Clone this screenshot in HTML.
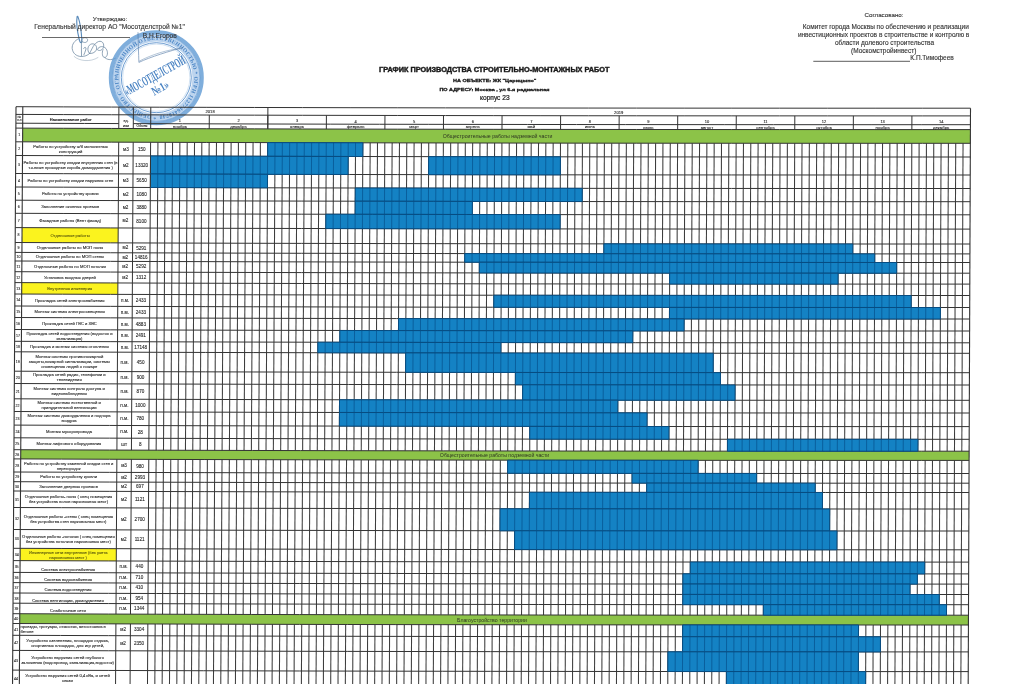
<!DOCTYPE html>
<html><head><meta charset="utf-8"><title>График производства строительно-монтажных работ</title>
<style>
html,body{margin:0;padding:0;background:#fff;}
body{width:1024px;height:684px;overflow:hidden;font-family:"Liberation Sans",sans-serif;}
svg{display:block;filter:blur(0.3px);}
svg text{font-family:"Liberation Sans",sans-serif;fill:#333;}
#tbl text{fill:#262626;stroke:#262626;stroke-width:0.1px;}
#hdr text{stroke:#333;stroke-width:0.12px;}
</style></head><body>
<svg width="1024" height="684" viewBox="0 0 1024 684">
<rect width="1024" height="684" fill="#fff"/>
<g id="stamp">
<g fill="none" stroke="#52718f" stroke-width="0.75" stroke-linecap="round" stroke-linejoin="round" opacity="0.85">
<path d="M77.1 16.6 C76.2 22 77.6 33 79.5 40.5 C80.4 43.5 82.2 43.5 81.9 40.8 C81.4 32 79.6 21 78 16.9 C77.7 16.2 77.2 16.1 77.1 16.6 Z" stroke="#3f78b0" stroke-width="1.15"/>
<path d="M81.8 41.3 C84 43.2 87 43 87.6 40.3 C88 37.8 84.5 36.8 82.6 38.6 C81.6 39.6 81.3 40.6 81.4 41.3 L81.5 55.6"/>
<path d="M78.5 38.8 C74.5 40.5 71.8 44.5 72.2 48.5 C72.8 53.5 76.5 56.3 81 56.5 C84.5 56.6 87.5 55.5 89.5 53.5"/>
<path d="M83.7 48.5 C84.6 46.6 86.2 47 86 49 C85.7 51.3 84.2 53.3 83.8 54.8"/>
<path d="M89.5 53.5 C86.5 50.5 87.6 44.8 91.8 43.9 C95.6 43.2 97.6 47.2 96.2 50.2 C94.8 53 91.5 53.6 89.5 53.5 C92 49 94 43.2 98.6 41.5 C102.6 40.3 104.6 44.3 103.3 47.6 C102 50.6 99 51.3 97.3 49.6 C99 46 103.5 45.6 106 48.6 C108.5 52 107.6 57 104.8 57.5 C102.3 57.7 101.6 53 103 49.5"/>
<path d="M104.8 57.5 C107 59.8 110.5 60.6 115.5 58.2"/>
<path d="M74.2 56.5 C79 61 90 62.6 98 57.5" opacity="0.5"/>
</g>
<g transform="translate(156.3 77.7)">
<circle r="45.6" fill="none" stroke="#5f9ad3" stroke-width="3.8" opacity="0.8"/>
<circle r="40" fill="none" stroke="#8fb8e2" stroke-width="7.6" opacity="0.6"/>
<circle r="43.6" fill="none" stroke="#3f7fc4" stroke-width="0.5" opacity="0.8"/>
<circle r="35" fill="none" stroke="#4a86c6" stroke-width="0.9" opacity="0.9"/>
<circle r="33.6" fill="none" stroke="#7aa9d9" stroke-width="0.4" opacity="0.8"/>
<path id="ringp" d="M0 38 A38 38 0 1 1 0.01 38" fill="none"/>
<text font-size="5.6" font-weight="bold" style="font-family:'Liberation Serif',serif;fill:#3d7cc0" opacity="0.9" letter-spacing="0.25"><textPath href="#ringp" startOffset="0">* ОБЩЕСТВО С ОГРАНИЧЕННОЙ ОТВЕТСТВЕННОСТЬЮ * ОГРН 1127746418748 * ИНН 7714865 * МОСКВА</textPath></text>
<path id="ringp2" d="M-30 0 A30 30 0 0 0 30 0" fill="none"/>
<g transform="rotate(-29)">
<text x="-0.5" y="1.8" font-size="13.5" font-weight="bold" text-anchor="middle" textLength="68" lengthAdjust="spacingAndGlyphs" style="font-family:'Liberation Serif',serif;fill:#3a78bd" opacity="0.92">«МОСОТДЕЛСТРОЙ</text>
<text x="-1.5" y="14.8" font-size="12" font-weight="bold" text-anchor="middle" textLength="18" lengthAdjust="spacingAndGlyphs" style="font-family:'Liberation Serif',serif;fill:#3a78bd" opacity="0.92">№1»</text>
</g>
</g>
<g fill="none" stroke="#4f76a3" stroke-width="0.7" stroke-linecap="round" opacity="0.85">
<path d="M138 32.6 C138.2 42 138.6 54 138.9 62.4 C150 57 170 51 182.8 47.5"/>
<path d="M139.5 61 C152 54.5 168 49.5 180 48.6" stroke-width="0.5"/>
</g>

</g>
<g id="hdr">
<text x="110.00" y="20.50" font-size="6.2" text-anchor="middle" >Утверждаю:</text>
<text x="109.60" y="29.40" font-size="6.7" text-anchor="middle" >Генеральный  директор  АО &quot;Мосотделстрой №1&quot;</text>
<text x="159.80" y="37.80" font-size="6.6" text-anchor="middle" >В.Н.Егоров</text>
<line x1="42" y1="37.5" x2="130" y2="37.5" stroke="#444" stroke-width="0.8"/>
<text x="884.00" y="17.30" font-size="6.2" text-anchor="middle" >Согласовано:</text>
<text x="885.80" y="28.80" font-size="6.5" text-anchor="middle" >Комитет города Москвы по обеспечению и реализации</text>
<text x="883.60" y="36.90" font-size="6.5" text-anchor="middle" >инвестиционных проектов в строительстве и контролю в</text>
<text x="884.50" y="44.80" font-size="6.5" text-anchor="middle" >области долевого строительства</text>
<text x="883.70" y="52.90" font-size="6.5" text-anchor="middle" >(Москомстройинвест)</text>
<text x="910.30" y="60.40" font-size="6.5" text-anchor="start" >К.П.Тимофеев</text>
<line x1="813.3" y1="61.3" x2="910" y2="61.3" stroke="#333" stroke-width="0.8"/>
<text x="494.20" y="71.70" font-size="6.3" text-anchor="middle" font-weight="bold" textLength="230.4" lengthAdjust="spacingAndGlyphs" style="fill:#1a1a1a;stroke:#1a1a1a;stroke-width:0.38px">ГРАФИК ПРОИЗВОДСТВА СТРОИТЕЛЬНО-МОНТАЖНЫХ РАБОТ</text>
<text x="494.70" y="81.80" font-size="4.2" text-anchor="middle" font-weight="bold" textLength="83.4" lengthAdjust="spacingAndGlyphs" style="fill:#1a1a1a;stroke:#1a1a1a;stroke-width:0.28px">НА ОБЪЕКТЕ: ЖК &quot;Царицыно&quot;</text>
<text x="494.40" y="90.60" font-size="4.2" text-anchor="middle" font-weight="bold" textLength="110" lengthAdjust="spacingAndGlyphs" style="fill:#1a1a1a;stroke:#1a1a1a;stroke-width:0.28px">ПО АДРЕСУ: Москва , ул 6-я радиальная</text>
<text x="494.80" y="99.60" font-size="6.6" text-anchor="middle" style="fill:#222;stroke:#222;stroke-width:0.22px">корпус 23</text>
</g>
<g id="tbl">
<polygon points="22.67,128.13 72.55,128.31 122.43,128.48 172.32,128.64 222.20,128.78 272.08,128.91 321.96,129.03 371.84,129.13 421.72,129.22 471.60,129.30 521.48,129.37 571.36,129.43 621.25,129.48 671.13,129.52 721.01,129.55 770.89,129.57 820.77,129.59 870.65,129.59 920.53,129.60 970.41,129.60 970.36,143.30 920.48,143.30 870.59,143.29 820.71,143.29 770.83,143.27 720.95,143.25 671.06,143.22 621.18,143.18 571.30,143.13 521.42,143.07 471.53,143.00 421.65,142.92 371.77,142.83 321.89,142.73 272.00,142.61 222.12,142.48 172.24,142.34 122.36,142.18 72.47,142.01 22.59,141.83" fill="#8cc348"/>
<polygon points="22.08,227.63 70.14,227.81 118.20,227.97 118.11,242.87 70.05,242.71 21.99,242.53" fill="#fbf31e"/>
<polygon points="21.75,282.63 69.81,282.81 117.88,282.97 117.82,294.37 69.75,294.21 21.68,294.03" fill="#fbf31e"/>
<polygon points="20.75,449.73 70.66,449.91 120.58,450.08 170.49,450.24 220.41,450.38 270.32,450.51 320.24,450.63 370.15,450.73 420.07,450.82 469.98,450.90 519.89,450.97 569.81,451.03 619.72,451.08 669.64,451.12 719.55,451.15 769.47,451.17 819.38,451.19 869.30,451.19 919.21,451.20 969.13,451.20 969.09,460.40 919.18,460.40 869.26,460.39 819.34,460.39 769.43,460.37 719.51,460.35 669.60,460.32 619.68,460.28 569.77,460.23 519.85,460.17 469.93,460.10 420.02,460.02 370.10,459.93 320.19,459.83 270.27,459.71 220.35,459.58 170.44,459.44 120.52,459.28 70.61,459.11 20.69,458.93" fill="#8cc348"/>
<polygon points="20.16,548.33 68.25,548.51 116.35,548.67 116.27,560.97 68.18,560.81 20.08,560.63" fill="#fbf31e"/>
<polygon points="19.77,613.73 69.70,613.91 119.63,614.08 169.56,614.24 219.49,614.38 269.42,614.51 319.36,614.63 369.29,614.73 419.22,614.82 469.15,614.90 519.08,614.97 569.02,615.03 618.95,615.08 668.88,615.12 718.81,615.15 768.74,615.17 818.68,615.19 868.61,615.19 918.54,615.20 968.47,615.20 968.43,625.00 918.50,625.00 868.57,624.99 818.63,624.99 768.70,624.97 718.77,624.95 668.84,624.92 618.90,624.88 568.97,624.83 519.04,624.77 469.10,624.70 419.17,624.62 369.24,624.53 319.30,624.43 269.37,624.31 219.44,624.18 169.51,624.04 119.57,623.88 69.64,623.71 19.71,623.53" fill="#8cc348"/>
<line x1="157.92" y1="142.30" x2="156.16" y2="450.20" stroke="#3e3e3e" stroke-width="1.05"/>
<line x1="165.24" y1="142.32" x2="163.49" y2="450.22" stroke="#3e3e3e" stroke-width="1.05"/>
<line x1="172.56" y1="142.34" x2="170.81" y2="450.24" stroke="#3e3e3e" stroke-width="1.05"/>
<line x1="179.88" y1="142.36" x2="178.13" y2="450.26" stroke="#3e3e3e" stroke-width="1.05"/>
<line x1="187.20" y1="142.39" x2="185.46" y2="450.29" stroke="#3e3e3e" stroke-width="1.05"/>
<line x1="194.52" y1="142.41" x2="192.78" y2="450.31" stroke="#3e3e3e" stroke-width="1.05"/>
<line x1="201.83" y1="142.43" x2="200.11" y2="450.33" stroke="#3e3e3e" stroke-width="1.05"/>
<line x1="209.15" y1="142.45" x2="207.43" y2="450.35" stroke="#3e3e3e" stroke-width="1.05"/>
<line x1="216.47" y1="142.47" x2="214.75" y2="450.37" stroke="#3e3e3e" stroke-width="1.05"/>
<line x1="223.79" y1="142.49" x2="222.08" y2="450.39" stroke="#3e3e3e" stroke-width="1.05"/>
<line x1="231.11" y1="142.51" x2="229.40" y2="450.41" stroke="#3e3e3e" stroke-width="1.05"/>
<line x1="238.43" y1="142.53" x2="236.73" y2="450.43" stroke="#3e3e3e" stroke-width="1.05"/>
<line x1="245.75" y1="142.55" x2="244.05" y2="450.45" stroke="#3e3e3e" stroke-width="1.05"/>
<line x1="253.07" y1="142.57" x2="251.38" y2="450.47" stroke="#3e3e3e" stroke-width="1.05"/>
<line x1="260.39" y1="142.58" x2="258.70" y2="450.48" stroke="#3e3e3e" stroke-width="1.05"/>
<line x1="267.71" y1="142.60" x2="266.02" y2="450.50" stroke="#3e3e3e" stroke-width="1.05"/>
<line x1="275.03" y1="142.62" x2="273.35" y2="450.52" stroke="#3e3e3e" stroke-width="1.05"/>
<line x1="282.35" y1="142.64" x2="280.67" y2="450.54" stroke="#3e3e3e" stroke-width="1.05"/>
<line x1="289.67" y1="142.66" x2="288.00" y2="450.56" stroke="#3e3e3e" stroke-width="1.05"/>
<line x1="296.99" y1="142.67" x2="295.32" y2="450.57" stroke="#3e3e3e" stroke-width="1.05"/>
<line x1="304.30" y1="142.69" x2="302.64" y2="450.59" stroke="#3e3e3e" stroke-width="1.05"/>
<line x1="311.62" y1="142.71" x2="309.97" y2="450.61" stroke="#3e3e3e" stroke-width="1.05"/>
<line x1="318.94" y1="142.72" x2="317.29" y2="450.62" stroke="#3e3e3e" stroke-width="1.05"/>
<line x1="326.26" y1="142.74" x2="324.62" y2="450.64" stroke="#3e3e3e" stroke-width="1.05"/>
<line x1="333.58" y1="142.75" x2="331.94" y2="450.65" stroke="#3e3e3e" stroke-width="1.05"/>
<line x1="340.90" y1="142.77" x2="339.26" y2="450.67" stroke="#3e3e3e" stroke-width="1.05"/>
<line x1="348.22" y1="142.79" x2="346.59" y2="450.69" stroke="#3e3e3e" stroke-width="1.05"/>
<line x1="355.54" y1="142.80" x2="353.91" y2="450.70" stroke="#3e3e3e" stroke-width="1.05"/>
<line x1="362.86" y1="142.82" x2="361.24" y2="450.72" stroke="#3e3e3e" stroke-width="1.05"/>
<line x1="370.18" y1="142.83" x2="368.56" y2="450.73" stroke="#3e3e3e" stroke-width="1.05"/>
<line x1="377.50" y1="142.84" x2="375.88" y2="450.74" stroke="#3e3e3e" stroke-width="1.05"/>
<line x1="384.82" y1="142.86" x2="383.21" y2="450.76" stroke="#3e3e3e" stroke-width="1.05"/>
<line x1="392.14" y1="142.87" x2="390.53" y2="450.77" stroke="#3e3e3e" stroke-width="1.05"/>
<line x1="399.46" y1="142.89" x2="397.86" y2="450.79" stroke="#3e3e3e" stroke-width="1.05"/>
<line x1="406.77" y1="142.90" x2="405.18" y2="450.80" stroke="#3e3e3e" stroke-width="1.05"/>
<line x1="414.09" y1="142.91" x2="412.50" y2="450.81" stroke="#3e3e3e" stroke-width="1.05"/>
<line x1="421.41" y1="142.92" x2="419.83" y2="450.82" stroke="#3e3e3e" stroke-width="1.05"/>
<line x1="428.73" y1="142.94" x2="427.15" y2="450.84" stroke="#3e3e3e" stroke-width="1.05"/>
<line x1="436.05" y1="142.95" x2="434.48" y2="450.85" stroke="#3e3e3e" stroke-width="1.05"/>
<line x1="443.37" y1="142.96" x2="441.80" y2="450.86" stroke="#3e3e3e" stroke-width="1.05"/>
<line x1="450.69" y1="142.97" x2="449.12" y2="450.87" stroke="#3e3e3e" stroke-width="1.05"/>
<line x1="458.01" y1="142.98" x2="456.45" y2="450.88" stroke="#3e3e3e" stroke-width="1.05"/>
<line x1="465.33" y1="142.99" x2="463.77" y2="450.89" stroke="#3e3e3e" stroke-width="1.05"/>
<line x1="472.65" y1="143.01" x2="471.10" y2="450.91" stroke="#3e3e3e" stroke-width="1.05"/>
<line x1="479.97" y1="143.02" x2="478.42" y2="450.92" stroke="#3e3e3e" stroke-width="1.05"/>
<line x1="487.29" y1="143.03" x2="485.74" y2="450.93" stroke="#3e3e3e" stroke-width="1.05"/>
<line x1="494.61" y1="143.04" x2="493.07" y2="450.94" stroke="#3e3e3e" stroke-width="1.05"/>
<line x1="501.93" y1="143.05" x2="500.39" y2="450.95" stroke="#3e3e3e" stroke-width="1.05"/>
<line x1="509.24" y1="143.06" x2="507.72" y2="450.96" stroke="#3e3e3e" stroke-width="1.05"/>
<line x1="516.56" y1="143.07" x2="515.04" y2="450.97" stroke="#3e3e3e" stroke-width="1.05"/>
<line x1="523.88" y1="143.08" x2="522.36" y2="450.98" stroke="#3e3e3e" stroke-width="1.05"/>
<line x1="531.20" y1="143.08" x2="529.69" y2="450.98" stroke="#3e3e3e" stroke-width="1.05"/>
<line x1="538.52" y1="143.09" x2="537.01" y2="450.99" stroke="#3e3e3e" stroke-width="1.05"/>
<line x1="545.84" y1="143.10" x2="544.34" y2="451.00" stroke="#3e3e3e" stroke-width="1.05"/>
<line x1="553.16" y1="143.11" x2="551.66" y2="451.01" stroke="#3e3e3e" stroke-width="1.05"/>
<line x1="560.48" y1="143.12" x2="558.98" y2="451.02" stroke="#3e3e3e" stroke-width="1.05"/>
<line x1="567.80" y1="143.13" x2="566.31" y2="451.03" stroke="#3e3e3e" stroke-width="1.05"/>
<line x1="575.12" y1="143.13" x2="573.63" y2="451.03" stroke="#3e3e3e" stroke-width="1.05"/>
<line x1="582.44" y1="143.14" x2="580.96" y2="451.04" stroke="#3e3e3e" stroke-width="1.05"/>
<line x1="589.76" y1="143.15" x2="588.28" y2="451.05" stroke="#3e3e3e" stroke-width="1.05"/>
<line x1="597.08" y1="143.16" x2="595.60" y2="451.06" stroke="#3e3e3e" stroke-width="1.05"/>
<line x1="604.40" y1="143.16" x2="602.93" y2="451.06" stroke="#3e3e3e" stroke-width="1.05"/>
<line x1="611.71" y1="143.17" x2="610.25" y2="451.07" stroke="#3e3e3e" stroke-width="1.05"/>
<line x1="619.03" y1="143.18" x2="617.58" y2="451.08" stroke="#3e3e3e" stroke-width="1.05"/>
<line x1="626.35" y1="143.18" x2="624.90" y2="451.08" stroke="#3e3e3e" stroke-width="1.05"/>
<line x1="633.67" y1="143.19" x2="632.22" y2="451.09" stroke="#3e3e3e" stroke-width="1.05"/>
<line x1="640.99" y1="143.20" x2="639.55" y2="451.10" stroke="#3e3e3e" stroke-width="1.05"/>
<line x1="648.31" y1="143.20" x2="646.87" y2="451.10" stroke="#3e3e3e" stroke-width="1.05"/>
<line x1="655.63" y1="143.21" x2="654.20" y2="451.11" stroke="#3e3e3e" stroke-width="1.05"/>
<line x1="662.95" y1="143.21" x2="661.52" y2="451.11" stroke="#3e3e3e" stroke-width="1.05"/>
<line x1="670.27" y1="143.22" x2="668.84" y2="451.12" stroke="#3e3e3e" stroke-width="1.05"/>
<line x1="677.59" y1="143.22" x2="676.17" y2="451.12" stroke="#3e3e3e" stroke-width="1.05"/>
<line x1="684.91" y1="143.23" x2="683.49" y2="451.13" stroke="#3e3e3e" stroke-width="1.05"/>
<line x1="692.23" y1="143.23" x2="690.82" y2="451.13" stroke="#3e3e3e" stroke-width="1.05"/>
<line x1="699.55" y1="143.24" x2="698.14" y2="451.14" stroke="#3e3e3e" stroke-width="1.05"/>
<line x1="706.87" y1="143.24" x2="705.46" y2="451.14" stroke="#3e3e3e" stroke-width="1.05"/>
<line x1="714.18" y1="143.24" x2="712.79" y2="451.14" stroke="#3e3e3e" stroke-width="1.05"/>
<line x1="721.50" y1="143.25" x2="720.11" y2="451.15" stroke="#3e3e3e" stroke-width="1.05"/>
<line x1="728.82" y1="143.25" x2="727.44" y2="451.15" stroke="#3e3e3e" stroke-width="1.05"/>
<line x1="736.14" y1="143.26" x2="734.76" y2="451.16" stroke="#3e3e3e" stroke-width="1.05"/>
<line x1="743.46" y1="143.26" x2="742.08" y2="451.16" stroke="#3e3e3e" stroke-width="1.05"/>
<line x1="750.78" y1="143.26" x2="749.41" y2="451.16" stroke="#3e3e3e" stroke-width="1.05"/>
<line x1="758.10" y1="143.27" x2="756.73" y2="451.17" stroke="#3e3e3e" stroke-width="1.05"/>
<line x1="765.42" y1="143.27" x2="764.06" y2="451.17" stroke="#3e3e3e" stroke-width="1.05"/>
<line x1="772.74" y1="143.27" x2="771.38" y2="451.17" stroke="#3e3e3e" stroke-width="1.05"/>
<line x1="780.06" y1="143.27" x2="778.70" y2="451.17" stroke="#3e3e3e" stroke-width="1.05"/>
<line x1="787.38" y1="143.28" x2="786.03" y2="451.18" stroke="#3e3e3e" stroke-width="1.05"/>
<line x1="794.70" y1="143.28" x2="793.35" y2="451.18" stroke="#3e3e3e" stroke-width="1.05"/>
<line x1="802.02" y1="143.28" x2="800.68" y2="451.18" stroke="#3e3e3e" stroke-width="1.05"/>
<line x1="809.34" y1="143.28" x2="808.00" y2="451.18" stroke="#3e3e3e" stroke-width="1.05"/>
<line x1="816.65" y1="143.28" x2="815.32" y2="451.18" stroke="#3e3e3e" stroke-width="1.05"/>
<line x1="823.97" y1="143.29" x2="822.65" y2="451.19" stroke="#3e3e3e" stroke-width="1.05"/>
<line x1="831.29" y1="143.29" x2="829.97" y2="451.19" stroke="#3e3e3e" stroke-width="1.05"/>
<line x1="838.61" y1="143.29" x2="837.30" y2="451.19" stroke="#3e3e3e" stroke-width="1.05"/>
<line x1="845.93" y1="143.29" x2="844.62" y2="451.19" stroke="#3e3e3e" stroke-width="1.05"/>
<line x1="853.25" y1="143.29" x2="851.94" y2="451.19" stroke="#3e3e3e" stroke-width="1.05"/>
<line x1="860.57" y1="143.29" x2="859.27" y2="451.19" stroke="#3e3e3e" stroke-width="1.05"/>
<line x1="867.89" y1="143.29" x2="866.59" y2="451.19" stroke="#3e3e3e" stroke-width="1.05"/>
<line x1="875.21" y1="143.30" x2="873.92" y2="451.20" stroke="#3e3e3e" stroke-width="1.05"/>
<line x1="882.53" y1="143.30" x2="881.24" y2="451.20" stroke="#3e3e3e" stroke-width="1.05"/>
<line x1="889.85" y1="143.30" x2="888.56" y2="451.20" stroke="#3e3e3e" stroke-width="1.05"/>
<line x1="897.17" y1="143.30" x2="895.89" y2="451.20" stroke="#3e3e3e" stroke-width="1.05"/>
<line x1="904.49" y1="143.30" x2="903.21" y2="451.20" stroke="#3e3e3e" stroke-width="1.05"/>
<line x1="911.81" y1="143.30" x2="910.54" y2="451.20" stroke="#3e3e3e" stroke-width="1.05"/>
<line x1="919.12" y1="143.30" x2="917.86" y2="451.20" stroke="#3e3e3e" stroke-width="1.05"/>
<line x1="926.44" y1="143.30" x2="925.18" y2="451.20" stroke="#3e3e3e" stroke-width="1.05"/>
<line x1="933.76" y1="143.30" x2="932.51" y2="451.20" stroke="#3e3e3e" stroke-width="1.05"/>
<line x1="941.08" y1="143.30" x2="939.83" y2="451.20" stroke="#3e3e3e" stroke-width="1.05"/>
<line x1="948.40" y1="143.30" x2="947.16" y2="451.20" stroke="#3e3e3e" stroke-width="1.05"/>
<line x1="955.72" y1="143.30" x2="954.48" y2="451.20" stroke="#3e3e3e" stroke-width="1.05"/>
<line x1="963.04" y1="143.30" x2="961.80" y2="451.20" stroke="#3e3e3e" stroke-width="1.05"/>
<line x1="118.70" y1="142.17" x2="116.92" y2="450.07" stroke="#333" stroke-width="1.0"/>
<line x1="133.20" y1="142.22" x2="131.43" y2="450.12" stroke="#333" stroke-width="1.0"/>
<line x1="150.60" y1="142.27" x2="148.84" y2="450.17" stroke="#333" stroke-width="1.0"/>
<line x1="156.11" y1="459.40" x2="155.23" y2="614.20" stroke="#3e3e3e" stroke-width="1.05"/>
<line x1="163.43" y1="459.42" x2="162.55" y2="614.22" stroke="#3e3e3e" stroke-width="1.05"/>
<line x1="170.76" y1="459.44" x2="169.88" y2="614.24" stroke="#3e3e3e" stroke-width="1.05"/>
<line x1="178.08" y1="459.46" x2="177.21" y2="614.26" stroke="#3e3e3e" stroke-width="1.05"/>
<line x1="185.41" y1="459.49" x2="184.53" y2="614.29" stroke="#3e3e3e" stroke-width="1.05"/>
<line x1="192.73" y1="459.51" x2="191.86" y2="614.31" stroke="#3e3e3e" stroke-width="1.05"/>
<line x1="200.06" y1="459.53" x2="199.19" y2="614.33" stroke="#3e3e3e" stroke-width="1.05"/>
<line x1="207.38" y1="459.55" x2="206.51" y2="614.35" stroke="#3e3e3e" stroke-width="1.05"/>
<line x1="214.70" y1="459.57" x2="213.84" y2="614.37" stroke="#3e3e3e" stroke-width="1.05"/>
<line x1="222.03" y1="459.59" x2="221.17" y2="614.39" stroke="#3e3e3e" stroke-width="1.05"/>
<line x1="229.35" y1="459.61" x2="228.49" y2="614.41" stroke="#3e3e3e" stroke-width="1.05"/>
<line x1="236.68" y1="459.63" x2="235.82" y2="614.43" stroke="#3e3e3e" stroke-width="1.05"/>
<line x1="244.00" y1="459.65" x2="243.15" y2="614.45" stroke="#3e3e3e" stroke-width="1.05"/>
<line x1="251.32" y1="459.67" x2="250.47" y2="614.47" stroke="#3e3e3e" stroke-width="1.05"/>
<line x1="258.65" y1="459.68" x2="257.80" y2="614.48" stroke="#3e3e3e" stroke-width="1.05"/>
<line x1="265.97" y1="459.70" x2="265.13" y2="614.50" stroke="#3e3e3e" stroke-width="1.05"/>
<line x1="273.30" y1="459.72" x2="272.45" y2="614.52" stroke="#3e3e3e" stroke-width="1.05"/>
<line x1="280.62" y1="459.74" x2="279.78" y2="614.54" stroke="#3e3e3e" stroke-width="1.05"/>
<line x1="287.95" y1="459.76" x2="287.11" y2="614.56" stroke="#3e3e3e" stroke-width="1.05"/>
<line x1="295.27" y1="459.77" x2="294.43" y2="614.57" stroke="#3e3e3e" stroke-width="1.05"/>
<line x1="302.59" y1="459.79" x2="301.76" y2="614.59" stroke="#3e3e3e" stroke-width="1.05"/>
<line x1="309.92" y1="459.81" x2="309.08" y2="614.61" stroke="#3e3e3e" stroke-width="1.05"/>
<line x1="317.24" y1="459.82" x2="316.41" y2="614.62" stroke="#3e3e3e" stroke-width="1.05"/>
<line x1="324.57" y1="459.84" x2="323.74" y2="614.64" stroke="#3e3e3e" stroke-width="1.05"/>
<line x1="331.89" y1="459.85" x2="331.06" y2="614.65" stroke="#3e3e3e" stroke-width="1.05"/>
<line x1="339.21" y1="459.87" x2="338.39" y2="614.67" stroke="#3e3e3e" stroke-width="1.05"/>
<line x1="346.54" y1="459.89" x2="345.72" y2="614.69" stroke="#3e3e3e" stroke-width="1.05"/>
<line x1="353.86" y1="459.90" x2="353.04" y2="614.70" stroke="#3e3e3e" stroke-width="1.05"/>
<line x1="361.19" y1="459.92" x2="360.37" y2="614.72" stroke="#3e3e3e" stroke-width="1.05"/>
<line x1="368.51" y1="459.93" x2="367.70" y2="614.73" stroke="#3e3e3e" stroke-width="1.05"/>
<line x1="375.83" y1="459.94" x2="375.02" y2="614.74" stroke="#3e3e3e" stroke-width="1.05"/>
<line x1="383.16" y1="459.96" x2="382.35" y2="614.76" stroke="#3e3e3e" stroke-width="1.05"/>
<line x1="390.48" y1="459.97" x2="389.68" y2="614.77" stroke="#3e3e3e" stroke-width="1.05"/>
<line x1="397.81" y1="459.99" x2="397.00" y2="614.79" stroke="#3e3e3e" stroke-width="1.05"/>
<line x1="405.13" y1="460.00" x2="404.33" y2="614.80" stroke="#3e3e3e" stroke-width="1.05"/>
<line x1="412.46" y1="460.01" x2="411.66" y2="614.81" stroke="#3e3e3e" stroke-width="1.05"/>
<line x1="419.78" y1="460.02" x2="418.98" y2="614.82" stroke="#3e3e3e" stroke-width="1.05"/>
<line x1="427.10" y1="460.04" x2="426.31" y2="614.84" stroke="#3e3e3e" stroke-width="1.05"/>
<line x1="434.43" y1="460.05" x2="433.64" y2="614.85" stroke="#3e3e3e" stroke-width="1.05"/>
<line x1="441.75" y1="460.06" x2="440.96" y2="614.86" stroke="#3e3e3e" stroke-width="1.05"/>
<line x1="449.08" y1="460.07" x2="448.29" y2="614.87" stroke="#3e3e3e" stroke-width="1.05"/>
<line x1="456.40" y1="460.08" x2="455.62" y2="614.88" stroke="#3e3e3e" stroke-width="1.05"/>
<line x1="463.72" y1="460.09" x2="462.94" y2="614.89" stroke="#3e3e3e" stroke-width="1.05"/>
<line x1="471.05" y1="460.11" x2="470.27" y2="614.91" stroke="#3e3e3e" stroke-width="1.05"/>
<line x1="478.37" y1="460.12" x2="477.59" y2="614.92" stroke="#3e3e3e" stroke-width="1.05"/>
<line x1="485.70" y1="460.13" x2="484.92" y2="614.93" stroke="#3e3e3e" stroke-width="1.05"/>
<line x1="493.02" y1="460.14" x2="492.25" y2="614.94" stroke="#3e3e3e" stroke-width="1.05"/>
<line x1="500.35" y1="460.15" x2="499.57" y2="614.95" stroke="#3e3e3e" stroke-width="1.05"/>
<line x1="507.67" y1="460.16" x2="506.90" y2="614.96" stroke="#3e3e3e" stroke-width="1.05"/>
<line x1="514.99" y1="460.17" x2="514.23" y2="614.97" stroke="#3e3e3e" stroke-width="1.05"/>
<line x1="522.32" y1="460.18" x2="521.55" y2="614.98" stroke="#3e3e3e" stroke-width="1.05"/>
<line x1="529.64" y1="460.18" x2="528.88" y2="614.98" stroke="#3e3e3e" stroke-width="1.05"/>
<line x1="536.97" y1="460.19" x2="536.21" y2="614.99" stroke="#3e3e3e" stroke-width="1.05"/>
<line x1="544.29" y1="460.20" x2="543.53" y2="615.00" stroke="#3e3e3e" stroke-width="1.05"/>
<line x1="551.61" y1="460.21" x2="550.86" y2="615.01" stroke="#3e3e3e" stroke-width="1.05"/>
<line x1="558.94" y1="460.22" x2="558.19" y2="615.02" stroke="#3e3e3e" stroke-width="1.05"/>
<line x1="566.26" y1="460.23" x2="565.51" y2="615.03" stroke="#3e3e3e" stroke-width="1.05"/>
<line x1="573.59" y1="460.23" x2="572.84" y2="615.03" stroke="#3e3e3e" stroke-width="1.05"/>
<line x1="580.91" y1="460.24" x2="580.17" y2="615.04" stroke="#3e3e3e" stroke-width="1.05"/>
<line x1="588.24" y1="460.25" x2="587.49" y2="615.05" stroke="#3e3e3e" stroke-width="1.05"/>
<line x1="595.56" y1="460.26" x2="594.82" y2="615.06" stroke="#3e3e3e" stroke-width="1.05"/>
<line x1="602.88" y1="460.26" x2="602.15" y2="615.06" stroke="#3e3e3e" stroke-width="1.05"/>
<line x1="610.21" y1="460.27" x2="609.47" y2="615.07" stroke="#3e3e3e" stroke-width="1.05"/>
<line x1="617.53" y1="460.28" x2="616.80" y2="615.08" stroke="#3e3e3e" stroke-width="1.05"/>
<line x1="624.86" y1="460.28" x2="624.13" y2="615.08" stroke="#3e3e3e" stroke-width="1.05"/>
<line x1="632.18" y1="460.29" x2="631.45" y2="615.09" stroke="#3e3e3e" stroke-width="1.05"/>
<line x1="639.50" y1="460.30" x2="638.78" y2="615.10" stroke="#3e3e3e" stroke-width="1.05"/>
<line x1="646.83" y1="460.30" x2="646.10" y2="615.10" stroke="#3e3e3e" stroke-width="1.05"/>
<line x1="654.15" y1="460.31" x2="653.43" y2="615.11" stroke="#3e3e3e" stroke-width="1.05"/>
<line x1="661.48" y1="460.31" x2="660.76" y2="615.11" stroke="#3e3e3e" stroke-width="1.05"/>
<line x1="668.80" y1="460.32" x2="668.08" y2="615.12" stroke="#3e3e3e" stroke-width="1.05"/>
<line x1="676.13" y1="460.32" x2="675.41" y2="615.12" stroke="#3e3e3e" stroke-width="1.05"/>
<line x1="683.45" y1="460.33" x2="682.74" y2="615.13" stroke="#3e3e3e" stroke-width="1.05"/>
<line x1="690.77" y1="460.33" x2="690.06" y2="615.13" stroke="#3e3e3e" stroke-width="1.05"/>
<line x1="698.10" y1="460.34" x2="697.39" y2="615.14" stroke="#3e3e3e" stroke-width="1.05"/>
<line x1="705.42" y1="460.34" x2="704.72" y2="615.14" stroke="#3e3e3e" stroke-width="1.05"/>
<line x1="712.75" y1="460.34" x2="712.04" y2="615.14" stroke="#3e3e3e" stroke-width="1.05"/>
<line x1="720.07" y1="460.35" x2="719.37" y2="615.15" stroke="#3e3e3e" stroke-width="1.05"/>
<line x1="727.39" y1="460.35" x2="726.70" y2="615.15" stroke="#3e3e3e" stroke-width="1.05"/>
<line x1="734.72" y1="460.36" x2="734.02" y2="615.16" stroke="#3e3e3e" stroke-width="1.05"/>
<line x1="742.04" y1="460.36" x2="741.35" y2="615.16" stroke="#3e3e3e" stroke-width="1.05"/>
<line x1="749.37" y1="460.36" x2="748.68" y2="615.16" stroke="#3e3e3e" stroke-width="1.05"/>
<line x1="756.69" y1="460.37" x2="756.00" y2="615.17" stroke="#3e3e3e" stroke-width="1.05"/>
<line x1="764.01" y1="460.37" x2="763.33" y2="615.17" stroke="#3e3e3e" stroke-width="1.05"/>
<line x1="771.34" y1="460.37" x2="770.66" y2="615.17" stroke="#3e3e3e" stroke-width="1.05"/>
<line x1="778.66" y1="460.37" x2="777.98" y2="615.17" stroke="#3e3e3e" stroke-width="1.05"/>
<line x1="785.99" y1="460.38" x2="785.31" y2="615.18" stroke="#3e3e3e" stroke-width="1.05"/>
<line x1="793.31" y1="460.38" x2="792.64" y2="615.18" stroke="#3e3e3e" stroke-width="1.05"/>
<line x1="800.64" y1="460.38" x2="799.96" y2="615.18" stroke="#3e3e3e" stroke-width="1.05"/>
<line x1="807.96" y1="460.38" x2="807.29" y2="615.18" stroke="#3e3e3e" stroke-width="1.05"/>
<line x1="815.28" y1="460.38" x2="814.61" y2="615.18" stroke="#3e3e3e" stroke-width="1.05"/>
<line x1="822.61" y1="460.39" x2="821.94" y2="615.19" stroke="#3e3e3e" stroke-width="1.05"/>
<line x1="829.93" y1="460.39" x2="829.27" y2="615.19" stroke="#3e3e3e" stroke-width="1.05"/>
<line x1="837.26" y1="460.39" x2="836.59" y2="615.19" stroke="#3e3e3e" stroke-width="1.05"/>
<line x1="844.58" y1="460.39" x2="843.92" y2="615.19" stroke="#3e3e3e" stroke-width="1.05"/>
<line x1="851.90" y1="460.39" x2="851.25" y2="615.19" stroke="#3e3e3e" stroke-width="1.05"/>
<line x1="859.23" y1="460.39" x2="858.57" y2="615.19" stroke="#3e3e3e" stroke-width="1.05"/>
<line x1="866.55" y1="460.39" x2="865.90" y2="615.19" stroke="#3e3e3e" stroke-width="1.05"/>
<line x1="873.88" y1="460.40" x2="873.23" y2="615.20" stroke="#3e3e3e" stroke-width="1.05"/>
<line x1="881.20" y1="460.40" x2="880.55" y2="615.20" stroke="#3e3e3e" stroke-width="1.05"/>
<line x1="888.53" y1="460.40" x2="887.88" y2="615.20" stroke="#3e3e3e" stroke-width="1.05"/>
<line x1="895.85" y1="460.40" x2="895.21" y2="615.20" stroke="#3e3e3e" stroke-width="1.05"/>
<line x1="903.17" y1="460.40" x2="902.53" y2="615.20" stroke="#3e3e3e" stroke-width="1.05"/>
<line x1="910.50" y1="460.40" x2="909.86" y2="615.20" stroke="#3e3e3e" stroke-width="1.05"/>
<line x1="917.82" y1="460.40" x2="917.19" y2="615.20" stroke="#3e3e3e" stroke-width="1.05"/>
<line x1="925.15" y1="460.40" x2="924.51" y2="615.20" stroke="#3e3e3e" stroke-width="1.05"/>
<line x1="932.47" y1="460.40" x2="931.84" y2="615.20" stroke="#3e3e3e" stroke-width="1.05"/>
<line x1="939.79" y1="460.40" x2="939.17" y2="615.20" stroke="#3e3e3e" stroke-width="1.05"/>
<line x1="947.12" y1="460.40" x2="946.49" y2="615.20" stroke="#3e3e3e" stroke-width="1.05"/>
<line x1="954.44" y1="460.40" x2="953.82" y2="615.20" stroke="#3e3e3e" stroke-width="1.05"/>
<line x1="961.77" y1="460.40" x2="961.15" y2="615.20" stroke="#3e3e3e" stroke-width="1.05"/>
<line x1="116.86" y1="459.27" x2="115.97" y2="614.07" stroke="#333" stroke-width="1.0"/>
<line x1="131.37" y1="459.32" x2="130.48" y2="614.12" stroke="#333" stroke-width="1.0"/>
<line x1="148.79" y1="459.37" x2="147.90" y2="614.17" stroke="#333" stroke-width="1.0"/>
<line x1="155.17" y1="624.00" x2="154.78" y2="692.50" stroke="#3e3e3e" stroke-width="1.05"/>
<line x1="162.50" y1="624.02" x2="162.11" y2="692.52" stroke="#3e3e3e" stroke-width="1.05"/>
<line x1="169.83" y1="624.04" x2="169.44" y2="692.54" stroke="#3e3e3e" stroke-width="1.05"/>
<line x1="177.15" y1="624.06" x2="176.76" y2="692.56" stroke="#3e3e3e" stroke-width="1.05"/>
<line x1="184.48" y1="624.09" x2="184.09" y2="692.59" stroke="#3e3e3e" stroke-width="1.05"/>
<line x1="191.81" y1="624.11" x2="191.42" y2="692.61" stroke="#3e3e3e" stroke-width="1.05"/>
<line x1="199.13" y1="624.13" x2="198.75" y2="692.63" stroke="#3e3e3e" stroke-width="1.05"/>
<line x1="206.46" y1="624.15" x2="206.08" y2="692.65" stroke="#3e3e3e" stroke-width="1.05"/>
<line x1="213.79" y1="624.17" x2="213.40" y2="692.67" stroke="#3e3e3e" stroke-width="1.05"/>
<line x1="221.11" y1="624.19" x2="220.73" y2="692.69" stroke="#3e3e3e" stroke-width="1.05"/>
<line x1="228.44" y1="624.21" x2="228.06" y2="692.71" stroke="#3e3e3e" stroke-width="1.05"/>
<line x1="235.77" y1="624.23" x2="235.39" y2="692.73" stroke="#3e3e3e" stroke-width="1.05"/>
<line x1="243.09" y1="624.25" x2="242.71" y2="692.75" stroke="#3e3e3e" stroke-width="1.05"/>
<line x1="250.42" y1="624.27" x2="250.04" y2="692.77" stroke="#3e3e3e" stroke-width="1.05"/>
<line x1="257.75" y1="624.28" x2="257.37" y2="692.78" stroke="#3e3e3e" stroke-width="1.05"/>
<line x1="265.07" y1="624.30" x2="264.70" y2="692.80" stroke="#3e3e3e" stroke-width="1.05"/>
<line x1="272.40" y1="624.32" x2="272.02" y2="692.82" stroke="#3e3e3e" stroke-width="1.05"/>
<line x1="279.73" y1="624.34" x2="279.35" y2="692.84" stroke="#3e3e3e" stroke-width="1.05"/>
<line x1="287.05" y1="624.36" x2="286.68" y2="692.86" stroke="#3e3e3e" stroke-width="1.05"/>
<line x1="294.38" y1="624.37" x2="294.01" y2="692.87" stroke="#3e3e3e" stroke-width="1.05"/>
<line x1="301.71" y1="624.39" x2="301.34" y2="692.89" stroke="#3e3e3e" stroke-width="1.05"/>
<line x1="309.03" y1="624.41" x2="308.66" y2="692.91" stroke="#3e3e3e" stroke-width="1.05"/>
<line x1="316.36" y1="624.42" x2="315.99" y2="692.92" stroke="#3e3e3e" stroke-width="1.05"/>
<line x1="323.69" y1="624.44" x2="323.32" y2="692.94" stroke="#3e3e3e" stroke-width="1.05"/>
<line x1="331.01" y1="624.45" x2="330.65" y2="692.95" stroke="#3e3e3e" stroke-width="1.05"/>
<line x1="338.34" y1="624.47" x2="337.97" y2="692.97" stroke="#3e3e3e" stroke-width="1.05"/>
<line x1="345.67" y1="624.49" x2="345.30" y2="692.99" stroke="#3e3e3e" stroke-width="1.05"/>
<line x1="352.99" y1="624.50" x2="352.63" y2="693.00" stroke="#3e3e3e" stroke-width="1.05"/>
<line x1="360.32" y1="624.52" x2="359.96" y2="693.02" stroke="#3e3e3e" stroke-width="1.05"/>
<line x1="367.65" y1="624.53" x2="367.29" y2="693.03" stroke="#3e3e3e" stroke-width="1.05"/>
<line x1="374.97" y1="624.54" x2="374.61" y2="693.04" stroke="#3e3e3e" stroke-width="1.05"/>
<line x1="382.30" y1="624.56" x2="381.94" y2="693.06" stroke="#3e3e3e" stroke-width="1.05"/>
<line x1="389.63" y1="624.57" x2="389.27" y2="693.07" stroke="#3e3e3e" stroke-width="1.05"/>
<line x1="396.95" y1="624.59" x2="396.60" y2="693.09" stroke="#3e3e3e" stroke-width="1.05"/>
<line x1="404.28" y1="624.60" x2="403.92" y2="693.10" stroke="#3e3e3e" stroke-width="1.05"/>
<line x1="411.61" y1="624.61" x2="411.25" y2="693.11" stroke="#3e3e3e" stroke-width="1.05"/>
<line x1="418.93" y1="624.62" x2="418.58" y2="693.12" stroke="#3e3e3e" stroke-width="1.05"/>
<line x1="426.26" y1="624.64" x2="425.91" y2="693.14" stroke="#3e3e3e" stroke-width="1.05"/>
<line x1="433.59" y1="624.65" x2="433.23" y2="693.15" stroke="#3e3e3e" stroke-width="1.05"/>
<line x1="440.91" y1="624.66" x2="440.56" y2="693.16" stroke="#3e3e3e" stroke-width="1.05"/>
<line x1="448.24" y1="624.67" x2="447.89" y2="693.17" stroke="#3e3e3e" stroke-width="1.05"/>
<line x1="455.57" y1="624.68" x2="455.22" y2="693.18" stroke="#3e3e3e" stroke-width="1.05"/>
<line x1="462.89" y1="624.69" x2="462.55" y2="693.19" stroke="#3e3e3e" stroke-width="1.05"/>
<line x1="470.22" y1="624.71" x2="469.87" y2="693.21" stroke="#3e3e3e" stroke-width="1.05"/>
<line x1="477.55" y1="624.72" x2="477.20" y2="693.22" stroke="#3e3e3e" stroke-width="1.05"/>
<line x1="484.87" y1="624.73" x2="484.53" y2="693.23" stroke="#3e3e3e" stroke-width="1.05"/>
<line x1="492.20" y1="624.74" x2="491.86" y2="693.24" stroke="#3e3e3e" stroke-width="1.05"/>
<line x1="499.53" y1="624.75" x2="499.18" y2="693.25" stroke="#3e3e3e" stroke-width="1.05"/>
<line x1="506.85" y1="624.76" x2="506.51" y2="693.26" stroke="#3e3e3e" stroke-width="1.05"/>
<line x1="514.18" y1="624.77" x2="513.84" y2="693.27" stroke="#3e3e3e" stroke-width="1.05"/>
<line x1="521.51" y1="624.78" x2="521.17" y2="693.28" stroke="#3e3e3e" stroke-width="1.05"/>
<line x1="528.83" y1="624.78" x2="528.50" y2="693.28" stroke="#3e3e3e" stroke-width="1.05"/>
<line x1="536.16" y1="624.79" x2="535.82" y2="693.29" stroke="#3e3e3e" stroke-width="1.05"/>
<line x1="543.49" y1="624.80" x2="543.15" y2="693.30" stroke="#3e3e3e" stroke-width="1.05"/>
<line x1="550.81" y1="624.81" x2="550.48" y2="693.31" stroke="#3e3e3e" stroke-width="1.05"/>
<line x1="558.14" y1="624.82" x2="557.81" y2="693.32" stroke="#3e3e3e" stroke-width="1.05"/>
<line x1="565.47" y1="624.83" x2="565.13" y2="693.33" stroke="#3e3e3e" stroke-width="1.05"/>
<line x1="572.79" y1="624.83" x2="572.46" y2="693.33" stroke="#3e3e3e" stroke-width="1.05"/>
<line x1="580.12" y1="624.84" x2="579.79" y2="693.34" stroke="#3e3e3e" stroke-width="1.05"/>
<line x1="587.45" y1="624.85" x2="587.12" y2="693.35" stroke="#3e3e3e" stroke-width="1.05"/>
<line x1="594.77" y1="624.86" x2="594.44" y2="693.36" stroke="#3e3e3e" stroke-width="1.05"/>
<line x1="602.10" y1="624.86" x2="601.77" y2="693.36" stroke="#3e3e3e" stroke-width="1.05"/>
<line x1="609.43" y1="624.87" x2="609.10" y2="693.37" stroke="#3e3e3e" stroke-width="1.05"/>
<line x1="616.75" y1="624.88" x2="616.43" y2="693.38" stroke="#3e3e3e" stroke-width="1.05"/>
<line x1="624.08" y1="624.88" x2="623.76" y2="693.38" stroke="#3e3e3e" stroke-width="1.05"/>
<line x1="631.41" y1="624.89" x2="631.08" y2="693.39" stroke="#3e3e3e" stroke-width="1.05"/>
<line x1="638.73" y1="624.90" x2="638.41" y2="693.40" stroke="#3e3e3e" stroke-width="1.05"/>
<line x1="646.06" y1="624.90" x2="645.74" y2="693.40" stroke="#3e3e3e" stroke-width="1.05"/>
<line x1="653.39" y1="624.91" x2="653.07" y2="693.41" stroke="#3e3e3e" stroke-width="1.05"/>
<line x1="660.71" y1="624.91" x2="660.39" y2="693.41" stroke="#3e3e3e" stroke-width="1.05"/>
<line x1="668.04" y1="624.92" x2="667.72" y2="693.42" stroke="#3e3e3e" stroke-width="1.05"/>
<line x1="675.37" y1="624.92" x2="675.05" y2="693.42" stroke="#3e3e3e" stroke-width="1.05"/>
<line x1="682.69" y1="624.93" x2="682.38" y2="693.43" stroke="#3e3e3e" stroke-width="1.05"/>
<line x1="690.02" y1="624.93" x2="689.71" y2="693.43" stroke="#3e3e3e" stroke-width="1.05"/>
<line x1="697.35" y1="624.94" x2="697.03" y2="693.44" stroke="#3e3e3e" stroke-width="1.05"/>
<line x1="704.67" y1="624.94" x2="704.36" y2="693.44" stroke="#3e3e3e" stroke-width="1.05"/>
<line x1="712.00" y1="624.94" x2="711.69" y2="693.44" stroke="#3e3e3e" stroke-width="1.05"/>
<line x1="719.33" y1="624.95" x2="719.02" y2="693.45" stroke="#3e3e3e" stroke-width="1.05"/>
<line x1="726.65" y1="624.95" x2="726.34" y2="693.45" stroke="#3e3e3e" stroke-width="1.05"/>
<line x1="733.98" y1="624.96" x2="733.67" y2="693.46" stroke="#3e3e3e" stroke-width="1.05"/>
<line x1="741.31" y1="624.96" x2="741.00" y2="693.46" stroke="#3e3e3e" stroke-width="1.05"/>
<line x1="748.63" y1="624.96" x2="748.33" y2="693.46" stroke="#3e3e3e" stroke-width="1.05"/>
<line x1="755.96" y1="624.97" x2="755.65" y2="693.47" stroke="#3e3e3e" stroke-width="1.05"/>
<line x1="763.29" y1="624.97" x2="762.98" y2="693.47" stroke="#3e3e3e" stroke-width="1.05"/>
<line x1="770.61" y1="624.97" x2="770.31" y2="693.47" stroke="#3e3e3e" stroke-width="1.05"/>
<line x1="777.94" y1="624.97" x2="777.64" y2="693.47" stroke="#3e3e3e" stroke-width="1.05"/>
<line x1="785.27" y1="624.98" x2="784.97" y2="693.48" stroke="#3e3e3e" stroke-width="1.05"/>
<line x1="792.59" y1="624.98" x2="792.29" y2="693.48" stroke="#3e3e3e" stroke-width="1.05"/>
<line x1="799.92" y1="624.98" x2="799.62" y2="693.48" stroke="#3e3e3e" stroke-width="1.05"/>
<line x1="807.25" y1="624.98" x2="806.95" y2="693.48" stroke="#3e3e3e" stroke-width="1.05"/>
<line x1="814.57" y1="624.98" x2="814.28" y2="693.48" stroke="#3e3e3e" stroke-width="1.05"/>
<line x1="821.90" y1="624.99" x2="821.60" y2="693.49" stroke="#3e3e3e" stroke-width="1.05"/>
<line x1="829.23" y1="624.99" x2="828.93" y2="693.49" stroke="#3e3e3e" stroke-width="1.05"/>
<line x1="836.55" y1="624.99" x2="836.26" y2="693.49" stroke="#3e3e3e" stroke-width="1.05"/>
<line x1="843.88" y1="624.99" x2="843.59" y2="693.49" stroke="#3e3e3e" stroke-width="1.05"/>
<line x1="851.21" y1="624.99" x2="850.92" y2="693.49" stroke="#3e3e3e" stroke-width="1.05"/>
<line x1="858.53" y1="624.99" x2="858.24" y2="693.49" stroke="#3e3e3e" stroke-width="1.05"/>
<line x1="865.86" y1="624.99" x2="865.57" y2="693.49" stroke="#3e3e3e" stroke-width="1.05"/>
<line x1="873.19" y1="625.00" x2="872.90" y2="693.50" stroke="#3e3e3e" stroke-width="1.05"/>
<line x1="880.51" y1="625.00" x2="880.23" y2="693.50" stroke="#3e3e3e" stroke-width="1.05"/>
<line x1="887.84" y1="625.00" x2="887.55" y2="693.50" stroke="#3e3e3e" stroke-width="1.05"/>
<line x1="895.17" y1="625.00" x2="894.88" y2="693.50" stroke="#3e3e3e" stroke-width="1.05"/>
<line x1="902.49" y1="625.00" x2="902.21" y2="693.50" stroke="#3e3e3e" stroke-width="1.05"/>
<line x1="909.82" y1="625.00" x2="909.54" y2="693.50" stroke="#3e3e3e" stroke-width="1.05"/>
<line x1="917.15" y1="625.00" x2="916.86" y2="693.50" stroke="#3e3e3e" stroke-width="1.05"/>
<line x1="924.47" y1="625.00" x2="924.19" y2="693.50" stroke="#3e3e3e" stroke-width="1.05"/>
<line x1="931.80" y1="625.00" x2="931.52" y2="693.50" stroke="#3e3e3e" stroke-width="1.05"/>
<line x1="939.13" y1="625.00" x2="938.85" y2="693.50" stroke="#3e3e3e" stroke-width="1.05"/>
<line x1="946.45" y1="625.00" x2="946.18" y2="693.50" stroke="#3e3e3e" stroke-width="1.05"/>
<line x1="953.78" y1="625.00" x2="953.50" y2="693.50" stroke="#3e3e3e" stroke-width="1.05"/>
<line x1="961.11" y1="625.00" x2="960.83" y2="693.50" stroke="#3e3e3e" stroke-width="1.05"/>
<line x1="115.91" y1="623.87" x2="115.51" y2="692.37" stroke="#333" stroke-width="1.0"/>
<line x1="130.43" y1="623.92" x2="130.03" y2="692.42" stroke="#333" stroke-width="1.0"/>
<line x1="147.85" y1="623.97" x2="147.45" y2="692.47" stroke="#333" stroke-width="1.0"/>
<line x1="16.00" y1="106.70" x2="12.49" y2="692.00" stroke="#333" stroke-width="1.1"/>
<line x1="22.80" y1="106.73" x2="19.30" y2="692.03" stroke="#333" stroke-width="1.1"/>
<line x1="970.50" y1="108.20" x2="968.16" y2="693.50" stroke="#333" stroke-width="1.1"/>
<polyline fill="none" points="15.87,128.10 63.60,128.28 111.33,128.45 159.05,128.60 206.78,128.74 254.51,128.87 302.23,128.99 349.96,129.09 397.69,129.18 445.42,129.26 493.14,129.33 540.87,129.40 588.60,129.45 636.32,129.49 684.05,129.53 731.78,129.55 779.51,129.57 827.23,129.59 874.96,129.60 922.69,129.60 970.41,129.60" stroke="#333" stroke-width="1.0"/>
<polyline fill="none" points="15.79,141.80 63.52,141.98 111.25,142.15 158.97,142.30 206.70,142.44 254.43,142.57 302.16,142.69 349.89,142.79 397.62,142.88 445.35,142.96 493.07,143.03 540.80,143.10 588.53,143.15 636.26,143.19 683.99,143.23 731.72,143.25 779.45,143.27 827.17,143.29 874.90,143.30 922.63,143.30 970.36,143.30" stroke="#333" stroke-width="1.0"/>
<polyline fill="none" points="15.71,155.50 63.44,155.68 111.17,155.85 158.90,156.00 206.63,156.14 254.36,156.27 302.09,156.39 349.82,156.49 397.55,156.58 445.28,156.66 493.01,156.73 540.74,156.80 588.47,156.85 636.20,156.89 683.93,156.93 731.66,156.95 779.39,156.97 827.12,156.99 874.85,157.00 922.57,157.00 970.30,157.00" stroke="#333" stroke-width="1.0"/>
<polyline fill="none" points="15.60,173.50 63.33,173.68 111.06,173.85 158.79,174.00 206.53,174.14 254.26,174.27 301.99,174.39 349.72,174.49 397.45,174.58 445.18,174.66 492.92,174.73 540.65,174.80 588.38,174.85 636.11,174.89 683.84,174.93 731.57,174.95 779.31,174.97 827.04,174.99 874.77,175.00 922.50,175.00 970.23,175.00" stroke="#333" stroke-width="1.0"/>
<polyline fill="none" points="15.52,187.00 63.25,187.18 110.98,187.35 158.72,187.50 206.45,187.64 254.18,187.77 301.92,187.89 349.65,187.99 397.38,188.08 445.12,188.16 492.85,188.23 540.58,188.30 588.31,188.35 636.05,188.39 683.78,188.43 731.51,188.45 779.25,188.47 826.98,188.49 874.71,188.50 922.45,188.50 970.18,188.50" stroke="#333" stroke-width="1.0"/>
<polyline fill="none" points="15.44,200.20 63.17,200.38 110.91,200.55 158.64,200.70 206.38,200.84 254.11,200.97 301.85,201.09 349.58,201.19 397.31,201.28 445.05,201.36 492.78,201.43 540.52,201.50 588.25,201.55 635.99,201.59 683.72,201.63 731.45,201.65 779.19,201.67 826.92,201.69 874.66,201.70 922.39,201.70 970.13,201.70" stroke="#333" stroke-width="1.0"/>
<polyline fill="none" points="15.36,213.30 63.10,213.48 110.83,213.65 158.57,213.80 206.30,213.94 254.04,214.07 301.77,214.19 349.51,214.29 397.25,214.38 444.98,214.46 492.72,214.53 540.45,214.60 588.19,214.65 635.92,214.69 683.66,214.73 731.40,214.75 779.13,214.77 826.87,214.79 874.60,214.80 922.34,214.80 970.07,214.80" stroke="#333" stroke-width="1.0"/>
<polyline fill="none" points="15.27,227.60 63.01,227.78 110.75,227.95 158.49,228.10 206.22,228.24 253.96,228.37 301.70,228.49 349.43,228.59 397.17,228.68 444.91,228.76 492.65,228.83 540.38,228.90 588.12,228.95 635.86,228.99 683.59,229.03 731.33,229.05 779.07,229.07 826.81,229.09 874.54,229.10 922.28,229.10 970.02,229.10" stroke="#333" stroke-width="1.0"/>
<polyline fill="none" points="15.19,242.50 62.92,242.68 110.66,242.85 158.40,243.00 206.14,243.14 253.88,243.27 301.62,243.39 349.36,243.49 397.09,243.58 444.83,243.66 492.57,243.73 540.31,243.80 588.05,243.85 635.79,243.89 683.53,243.93 731.26,243.95 779.00,243.97 826.74,243.99 874.48,244.00 922.22,244.00 969.96,244.00" stroke="#333" stroke-width="1.0"/>
<polyline fill="none" points="15.13,252.40 62.87,252.58 110.60,252.75 158.34,252.90 206.08,253.04 253.82,253.17 301.56,253.29 349.30,253.39 397.04,253.48 444.78,253.56 492.52,253.63 540.26,253.70 588.00,253.75 635.74,253.79 683.48,253.83 731.22,253.85 778.96,253.87 826.70,253.89 874.44,253.90 922.18,253.90 969.92,253.90" stroke="#333" stroke-width="1.0"/>
<polyline fill="none" points="15.07,261.00 62.81,261.18 110.56,261.35 158.30,261.50 206.04,261.64 253.78,261.77 301.52,261.89 349.26,261.99 397.00,262.08 444.74,262.16 492.48,262.23 540.22,262.30 587.96,262.35 635.70,262.39 683.44,262.43 731.18,262.45 778.92,262.47 826.66,262.49 874.40,262.50 922.14,262.50 969.88,262.50" stroke="#333" stroke-width="1.0"/>
<polyline fill="none" points="15.01,271.70 62.75,271.88 110.49,272.05 158.23,272.20 205.98,272.34 253.72,272.47 301.46,272.59 349.20,272.69 396.94,272.78 444.68,272.86 492.43,272.93 540.17,273.00 587.91,273.05 635.65,273.09 683.39,273.13 731.13,273.15 778.87,273.17 826.62,273.19 874.36,273.20 922.10,273.20 969.84,273.20" stroke="#333" stroke-width="1.0"/>
<polyline fill="none" points="14.94,282.60 62.69,282.78 110.43,282.95 158.17,283.10 205.91,283.24 253.66,283.37 301.40,283.49 349.14,283.59 396.89,283.68 444.63,283.76 492.37,283.83 540.11,283.90 587.86,283.95 635.60,283.99 683.34,284.03 731.08,284.05 778.83,284.07 826.57,284.09 874.31,284.10 922.05,284.10 969.80,284.10" stroke="#333" stroke-width="1.0"/>
<polyline fill="none" points="14.88,294.00 62.62,294.18 110.36,294.35 158.11,294.50 205.85,294.64 253.59,294.77 301.34,294.89 349.08,294.99 396.83,295.08 444.57,295.16 492.31,295.23 540.06,295.30 587.80,295.35 635.54,295.39 683.29,295.43 731.03,295.45 778.78,295.47 826.52,295.49 874.26,295.50 922.01,295.50 969.75,295.50" stroke="#333" stroke-width="1.0"/>
<polyline fill="none" points="14.80,306.00 62.55,306.18 110.29,306.35 158.04,306.50 205.78,306.64 253.53,306.77 301.27,306.89 349.02,306.99 396.76,307.08 444.51,307.16 492.25,307.23 540.00,307.30 587.74,307.35 635.49,307.39 683.23,307.43 730.98,307.45 778.72,307.47 826.47,307.49 874.21,307.50 921.96,307.50 969.70,307.50" stroke="#333" stroke-width="1.0"/>
<polyline fill="none" points="14.74,317.50 62.48,317.68 110.23,317.85 157.97,318.00 205.72,318.14 253.47,318.27 301.21,318.39 348.96,318.49 396.70,318.58 444.45,318.66 492.20,318.73 539.94,318.80 587.69,318.85 635.43,318.89 683.18,318.93 730.93,318.95 778.67,318.97 826.42,318.99 874.16,319.00 921.91,319.00 969.66,319.00" stroke="#333" stroke-width="1.0"/>
<polyline fill="none" points="14.66,329.50 62.41,329.68 110.16,329.85 157.91,330.00 205.65,330.14 253.40,330.27 301.15,330.39 348.89,330.49 396.64,330.58 444.39,330.66 492.14,330.73 539.88,330.80 587.63,330.85 635.38,330.89 683.13,330.93 730.87,330.95 778.62,330.97 826.37,330.99 874.11,331.00 921.86,331.00 969.61,331.00" stroke="#333" stroke-width="1.0"/>
<polyline fill="none" points="14.59,341.30 62.34,341.48 110.09,341.65 157.84,341.80 205.59,341.94 253.33,342.07 301.08,342.19 348.83,342.29 396.58,342.38 444.33,342.46 492.08,342.53 539.83,342.60 587.57,342.65 635.32,342.69 683.07,342.73 730.82,342.75 778.57,342.77 826.32,342.79 874.06,342.80 921.81,342.80 969.56,342.80" stroke="#333" stroke-width="1.0"/>
<polyline fill="none" points="14.53,351.80 62.28,351.98 110.03,352.15 157.78,352.30 205.53,352.44 253.28,352.57 301.03,352.69 348.78,352.79 396.53,352.88 444.27,352.96 492.02,353.03 539.77,353.10 587.52,353.15 635.27,353.19 683.02,353.23 730.77,353.25 778.52,353.27 826.27,353.29 874.02,353.30 921.77,353.30 969.52,353.30" stroke="#333" stroke-width="1.0"/>
<polyline fill="none" points="14.41,371.20 62.16,371.38 109.92,371.55 157.67,371.70 205.42,371.84 253.17,371.97 300.92,372.09 348.67,372.19 396.42,372.28 444.18,372.36 491.93,372.43 539.68,372.50 587.43,372.55 635.18,372.59 682.93,372.63 730.68,372.65 778.44,372.67 826.19,372.69 873.94,372.70 921.69,372.70 969.44,372.70" stroke="#333" stroke-width="1.0"/>
<polyline fill="none" points="14.34,383.50 62.09,383.68 109.84,383.85 157.60,384.00 205.35,384.14 253.10,384.27 300.86,384.39 348.61,384.49 396.36,384.58 444.11,384.66 491.87,384.73 539.62,384.80 587.37,384.85 635.12,384.89 682.88,384.93 730.63,384.95 778.38,384.97 826.13,384.99 873.89,385.00 921.64,385.00 969.39,385.00" stroke="#333" stroke-width="1.0"/>
<polyline fill="none" points="14.25,398.80 62.00,398.98 109.76,399.15 157.51,399.30 205.26,399.44 253.02,399.57 300.77,399.69 348.53,399.79 396.28,399.88 444.04,399.96 491.79,400.03 539.54,400.10 587.30,400.15 635.05,400.19 682.81,400.23 730.56,400.25 778.31,400.27 826.07,400.29 873.82,400.30 921.58,400.30 969.33,400.30" stroke="#333" stroke-width="1.0"/>
<polyline fill="none" points="14.17,411.50 61.93,411.68 109.68,411.85 157.44,412.00 205.19,412.14 252.95,412.27 300.70,412.39 348.46,412.49 396.22,412.58 443.97,412.66 491.73,412.73 539.48,412.80 587.24,412.85 634.99,412.89 682.75,412.93 730.50,412.95 778.26,412.97 826.01,412.99 873.77,413.00 921.53,413.00 969.28,413.00" stroke="#333" stroke-width="1.0"/>
<polyline fill="none" points="14.09,425.10 61.85,425.28 109.60,425.45 157.36,425.60 205.12,425.74 252.87,425.87 300.63,425.99 348.39,426.09 396.14,426.18 443.90,426.26 491.66,426.33 539.41,426.40 587.17,426.45 634.93,426.49 682.69,426.53 730.44,426.55 778.20,426.57 825.96,426.59 873.71,426.60 921.47,426.60 969.23,426.60" stroke="#333" stroke-width="1.0"/>
<polyline fill="none" points="14.01,437.80 61.77,437.98 109.53,438.15 157.29,438.30 205.05,438.44 252.80,438.57 300.56,438.69 348.32,438.79 396.08,438.88 443.84,438.96 491.59,439.03 539.35,439.10 587.11,439.15 634.87,439.19 682.63,439.23 730.39,439.25 778.14,439.27 825.90,439.29 873.66,439.30 921.42,439.30 969.18,439.30" stroke="#333" stroke-width="1.0"/>
<polyline fill="none" points="13.94,449.70 61.70,449.88 109.46,450.05 157.22,450.20 204.98,450.34 252.74,450.47 300.50,450.59 348.26,450.69 396.02,450.78 443.78,450.86 491.54,450.93 539.29,451.00 587.05,451.05 634.81,451.09 682.57,451.13 730.33,451.15 778.09,451.17 825.85,451.19 873.61,451.20 921.37,451.20 969.13,451.20" stroke="#333" stroke-width="1.0"/>
<polyline fill="none" points="13.89,458.90 61.65,459.08 109.41,459.25 157.17,459.40 204.93,459.54 252.69,459.67 300.45,459.79 348.21,459.89 395.97,459.98 443.73,460.06 491.49,460.13 539.25,460.20 587.01,460.25 634.77,460.29 682.53,460.33 730.29,460.35 778.05,460.37 825.81,460.39 873.57,460.40 921.33,460.40 969.09,460.40" stroke="#333" stroke-width="1.0"/>
<polyline fill="none" points="13.81,472.00 61.57,472.18 109.33,472.35 157.09,472.50 204.85,472.64 252.62,472.77 300.38,472.89 348.14,472.99 395.90,473.08 443.66,473.16 491.42,473.23 539.19,473.30 586.95,473.35 634.71,473.39 682.47,473.43 730.23,473.45 777.99,473.47 825.75,473.49 873.52,473.50 921.28,473.50 969.04,473.50" stroke="#333" stroke-width="1.0"/>
<polyline fill="none" points="13.75,481.70 61.51,481.88 109.28,482.05 157.04,482.20 204.80,482.34 252.56,482.47 300.33,482.59 348.09,482.69 395.85,482.78 443.61,482.86 491.38,482.93 539.14,483.00 586.90,483.05 634.66,483.09 682.42,483.13 730.19,483.15 777.95,483.17 825.71,483.19 873.47,483.20 921.24,483.20 969.00,483.20" stroke="#333" stroke-width="1.0"/>
<polyline fill="none" points="13.69,491.00 61.46,491.18 109.22,491.35 156.98,491.50 204.75,491.64 252.51,491.77 300.27,491.89 348.04,491.99 395.80,492.08 443.57,492.16 491.33,492.23 539.09,492.30 586.86,492.35 634.62,492.39 682.38,492.43 730.15,492.45 777.91,492.47 825.67,492.49 873.44,492.50 921.20,492.50 968.96,492.50" stroke="#333" stroke-width="1.0"/>
<polyline fill="none" points="13.60,507.50 61.36,507.68 109.13,507.85 156.89,508.00 204.66,508.14 252.42,508.27 300.19,508.39 347.95,508.49 395.72,508.58 443.48,508.66 491.25,508.73 539.01,508.80 586.78,508.85 634.54,508.89 682.31,508.93 730.07,508.95 777.84,508.97 825.60,508.99 873.37,509.00 921.13,509.00 968.90,509.00" stroke="#333" stroke-width="1.0"/>
<polyline fill="none" points="13.46,529.50 61.23,529.68 109.00,529.85 156.77,530.00 204.53,530.14 252.30,530.27 300.07,530.39 347.83,530.49 395.60,530.58 443.37,530.66 491.14,530.73 538.90,530.80 586.67,530.85 634.44,530.89 682.21,530.93 729.97,530.95 777.74,530.97 825.51,530.99 873.27,531.00 921.04,531.00 968.81,531.00" stroke="#333" stroke-width="1.0"/>
<polyline fill="none" points="13.35,548.30 61.12,548.48 108.89,548.65 156.66,548.80 204.43,548.94 252.20,549.07 299.97,549.19 347.73,549.29 395.50,549.38 443.27,549.46 491.04,549.53 538.81,549.60 586.58,549.65 634.35,549.69 682.12,549.73 729.89,549.75 777.66,549.77 825.43,549.79 873.20,549.80 920.96,549.80 968.73,549.80" stroke="#333" stroke-width="1.0"/>
<polyline fill="none" points="13.28,560.60 61.05,560.78 108.82,560.95 156.59,561.10 204.36,561.24 252.13,561.37 299.90,561.49 347.67,561.59 395.44,561.68 443.21,561.76 490.98,561.83 538.75,561.90 586.52,561.95 634.29,561.99 682.06,562.03 729.83,562.05 777.60,562.07 825.37,562.09 873.14,562.10 920.91,562.10 968.68,562.10" stroke="#333" stroke-width="1.0"/>
<polyline fill="none" points="13.21,572.40 60.98,572.58 108.75,572.75 156.52,572.90 204.29,573.04 252.06,573.17 299.84,573.29 347.61,573.39 395.38,573.48 443.15,573.56 490.92,573.63 538.69,573.70 586.46,573.75 634.24,573.79 682.01,573.83 729.78,573.85 777.55,573.87 825.32,573.89 873.09,573.90 920.87,573.90 968.64,573.90" stroke="#333" stroke-width="1.0"/>
<polyline fill="none" points="13.14,582.60 60.92,582.78 108.69,582.95 156.46,583.10 204.23,583.24 252.01,583.37 299.78,583.49 347.55,583.59 395.33,583.68 443.10,583.76 490.87,583.83 538.64,583.90 586.42,583.95 634.19,583.99 681.96,584.03 729.73,584.05 777.51,584.07 825.28,584.09 873.05,584.10 920.82,584.10 968.60,584.10" stroke="#333" stroke-width="1.0"/>
<polyline fill="none" points="13.08,593.00 60.86,593.18 108.63,593.35 156.40,593.50 204.18,593.64 251.95,593.77 299.72,593.89 347.50,593.99 395.27,594.08 443.04,594.16 490.82,594.23 538.59,594.30 586.37,594.35 634.14,594.39 681.91,594.43 729.69,594.45 777.46,594.47 825.23,594.49 873.01,594.50 920.78,594.50 968.55,594.50" stroke="#333" stroke-width="1.0"/>
<polyline fill="none" points="13.02,603.20 60.80,603.38 108.57,603.55 156.34,603.70 204.12,603.84 251.89,603.97 299.67,604.09 347.44,604.19 395.22,604.28 442.99,604.36 490.77,604.43 538.54,604.50 586.32,604.55 634.09,604.59 681.87,604.63 729.64,604.65 777.42,604.67 825.19,604.69 872.96,604.70 920.74,604.70 968.51,604.70" stroke="#333" stroke-width="1.0"/>
<polyline fill="none" points="12.96,613.70 60.73,613.88 108.51,614.05 156.29,614.20 204.06,614.34 251.84,614.47 299.61,614.59 347.39,614.69 395.16,614.78 442.94,614.86 490.71,614.93 538.49,615.00 586.27,615.05 634.04,615.09 681.82,615.13 729.59,615.15 777.37,615.17 825.14,615.19 872.92,615.20 920.70,615.20 968.47,615.20" stroke="#333" stroke-width="1.0"/>
<polyline fill="none" points="12.90,623.50 60.68,623.68 108.45,623.85 156.23,624.00 204.01,624.14 251.78,624.27 299.56,624.39 347.34,624.49 395.11,624.58 442.89,624.66 490.67,624.73 538.44,624.80 586.22,624.85 634.00,624.89 681.77,624.93 729.55,624.95 777.33,624.97 825.10,624.99 872.88,625.00 920.66,625.00 968.43,625.00" stroke="#333" stroke-width="1.0"/>
<polyline fill="none" points="12.83,635.30 60.61,635.48 108.38,635.65 156.16,635.80 203.94,635.94 251.72,636.07 299.50,636.19 347.27,636.29 395.05,636.38 442.83,636.46 490.61,636.53 538.38,636.60 586.16,636.65 633.94,636.69 681.72,636.73 729.50,636.75 777.27,636.77 825.05,636.79 872.83,636.80 920.61,636.80 968.39,636.80" stroke="#333" stroke-width="1.0"/>
<polyline fill="none" points="12.74,650.40 60.52,650.58 108.30,650.75 156.08,650.90 203.86,651.04 251.63,651.17 299.41,651.29 347.19,651.39 394.97,651.48 442.75,651.56 490.53,651.63 538.31,651.70 586.09,651.75 633.87,651.79 681.65,651.83 729.43,651.85 777.21,651.87 824.99,651.89 872.77,651.90 920.55,651.90 968.33,651.90" stroke="#333" stroke-width="1.0"/>
<polyline fill="none" points="12.62,670.10 60.40,670.28 108.18,670.45 155.96,670.60 203.74,670.74 251.53,670.87 299.31,670.99 347.09,671.09 394.87,671.18 442.65,671.26 490.43,671.33 538.21,671.40 586.00,671.45 633.78,671.49 681.56,671.53 729.34,671.55 777.12,671.57 824.90,671.59 872.68,671.60 920.47,671.60 968.25,671.60" stroke="#333" stroke-width="1.0"/>
<polygon points="267.71,142.60 315.28,142.71 362.86,142.82 362.79,156.52 315.21,156.41 267.63,156.30" fill="#1482c4"/>
<line x1="275.03" y1="142.62" x2="274.95" y2="156.32" stroke="#095f9d" stroke-width="1.0"/>
<line x1="282.35" y1="142.64" x2="282.27" y2="156.34" stroke="#095f9d" stroke-width="1.0"/>
<line x1="289.67" y1="142.66" x2="289.59" y2="156.36" stroke="#095f9d" stroke-width="1.0"/>
<line x1="296.99" y1="142.67" x2="296.91" y2="156.37" stroke="#095f9d" stroke-width="1.0"/>
<line x1="304.30" y1="142.69" x2="304.23" y2="156.39" stroke="#095f9d" stroke-width="1.0"/>
<line x1="311.62" y1="142.71" x2="311.55" y2="156.41" stroke="#095f9d" stroke-width="1.0"/>
<line x1="318.94" y1="142.72" x2="318.87" y2="156.42" stroke="#095f9d" stroke-width="1.0"/>
<line x1="326.26" y1="142.74" x2="326.19" y2="156.44" stroke="#095f9d" stroke-width="1.0"/>
<line x1="333.58" y1="142.75" x2="333.51" y2="156.45" stroke="#095f9d" stroke-width="1.0"/>
<line x1="340.90" y1="142.77" x2="340.83" y2="156.47" stroke="#095f9d" stroke-width="1.0"/>
<line x1="348.22" y1="142.79" x2="348.15" y2="156.49" stroke="#095f9d" stroke-width="1.0"/>
<line x1="355.54" y1="142.80" x2="355.47" y2="156.50" stroke="#095f9d" stroke-width="1.0"/>
<line x1="267.71" y1="142.60" x2="267.63" y2="156.30" stroke="#064c82" stroke-width="1.0"/>
<line x1="362.86" y1="142.82" x2="362.79" y2="156.52" stroke="#064c82" stroke-width="1.0"/>
<polyline fill="none" points="267.71,142.60 315.28,142.71 362.86,142.82" stroke="#064c82" stroke-width="1.0"/>
<polyline fill="none" points="267.63,156.30 315.21,156.41 362.79,156.52" stroke="#064c82" stroke-width="1.0"/>
<polygon points="150.52,155.97 199.93,156.12 249.33,156.26 298.74,156.38 348.15,156.49 348.05,174.49 298.64,174.38 249.24,174.26 199.83,174.12 150.42,173.97" fill="#1482c4"/>
<line x1="157.84" y1="156.00" x2="157.74" y2="174.00" stroke="#095f9d" stroke-width="1.0"/>
<line x1="165.16" y1="156.02" x2="165.06" y2="174.02" stroke="#095f9d" stroke-width="1.0"/>
<line x1="172.48" y1="156.04" x2="172.38" y2="174.04" stroke="#095f9d" stroke-width="1.0"/>
<line x1="179.80" y1="156.06" x2="179.70" y2="174.06" stroke="#095f9d" stroke-width="1.0"/>
<line x1="187.12" y1="156.09" x2="187.02" y2="174.09" stroke="#095f9d" stroke-width="1.0"/>
<line x1="194.44" y1="156.11" x2="194.34" y2="174.11" stroke="#095f9d" stroke-width="1.0"/>
<line x1="201.76" y1="156.13" x2="201.66" y2="174.13" stroke="#095f9d" stroke-width="1.0"/>
<line x1="209.08" y1="156.15" x2="208.98" y2="174.15" stroke="#095f9d" stroke-width="1.0"/>
<line x1="216.40" y1="156.17" x2="216.30" y2="174.17" stroke="#095f9d" stroke-width="1.0"/>
<line x1="223.72" y1="156.19" x2="223.62" y2="174.19" stroke="#095f9d" stroke-width="1.0"/>
<line x1="231.04" y1="156.21" x2="230.94" y2="174.21" stroke="#095f9d" stroke-width="1.0"/>
<line x1="238.35" y1="156.23" x2="238.26" y2="174.23" stroke="#095f9d" stroke-width="1.0"/>
<line x1="245.67" y1="156.25" x2="245.58" y2="174.25" stroke="#095f9d" stroke-width="1.0"/>
<line x1="252.99" y1="156.27" x2="252.89" y2="174.27" stroke="#095f9d" stroke-width="1.0"/>
<line x1="260.31" y1="156.28" x2="260.21" y2="174.28" stroke="#095f9d" stroke-width="1.0"/>
<line x1="267.63" y1="156.30" x2="267.53" y2="174.30" stroke="#095f9d" stroke-width="1.0"/>
<line x1="274.95" y1="156.32" x2="274.85" y2="174.32" stroke="#095f9d" stroke-width="1.0"/>
<line x1="282.27" y1="156.34" x2="282.17" y2="174.34" stroke="#095f9d" stroke-width="1.0"/>
<line x1="289.59" y1="156.36" x2="289.49" y2="174.36" stroke="#095f9d" stroke-width="1.0"/>
<line x1="296.91" y1="156.37" x2="296.81" y2="174.37" stroke="#095f9d" stroke-width="1.0"/>
<line x1="304.23" y1="156.39" x2="304.13" y2="174.39" stroke="#095f9d" stroke-width="1.0"/>
<line x1="311.55" y1="156.41" x2="311.45" y2="174.41" stroke="#095f9d" stroke-width="1.0"/>
<line x1="318.87" y1="156.42" x2="318.77" y2="174.42" stroke="#095f9d" stroke-width="1.0"/>
<line x1="326.19" y1="156.44" x2="326.09" y2="174.44" stroke="#095f9d" stroke-width="1.0"/>
<line x1="333.51" y1="156.45" x2="333.41" y2="174.45" stroke="#095f9d" stroke-width="1.0"/>
<line x1="340.83" y1="156.47" x2="340.73" y2="174.47" stroke="#095f9d" stroke-width="1.0"/>
<line x1="150.52" y1="155.97" x2="150.42" y2="173.97" stroke="#333" stroke-width="1.0"/>
<line x1="348.15" y1="156.49" x2="348.05" y2="174.49" stroke="#064c82" stroke-width="1.0"/>
<polyline fill="none" points="150.52,155.97 199.93,156.12 249.33,156.26 298.74,156.38 348.15,156.49" stroke="#064c82" stroke-width="1.0"/>
<polyline fill="none" points="150.42,173.97 199.83,174.12 249.24,174.26 298.64,174.38 348.05,174.49" stroke="#064c82" stroke-width="1.0"/>
<polygon points="428.66,156.64 472.58,156.71 516.50,156.77 560.41,156.82 560.33,174.82 516.41,174.77 472.49,174.71 428.57,174.64" fill="#1482c4"/>
<line x1="435.98" y1="156.65" x2="435.89" y2="174.65" stroke="#095f9d" stroke-width="1.0"/>
<line x1="443.30" y1="156.66" x2="443.21" y2="174.66" stroke="#095f9d" stroke-width="1.0"/>
<line x1="450.62" y1="156.67" x2="450.53" y2="174.67" stroke="#095f9d" stroke-width="1.0"/>
<line x1="457.94" y1="156.68" x2="457.85" y2="174.68" stroke="#095f9d" stroke-width="1.0"/>
<line x1="465.26" y1="156.69" x2="465.17" y2="174.69" stroke="#095f9d" stroke-width="1.0"/>
<line x1="472.58" y1="156.71" x2="472.49" y2="174.71" stroke="#095f9d" stroke-width="1.0"/>
<line x1="479.90" y1="156.72" x2="479.81" y2="174.72" stroke="#095f9d" stroke-width="1.0"/>
<line x1="487.22" y1="156.73" x2="487.13" y2="174.73" stroke="#095f9d" stroke-width="1.0"/>
<line x1="494.54" y1="156.74" x2="494.45" y2="174.74" stroke="#095f9d" stroke-width="1.0"/>
<line x1="501.86" y1="156.75" x2="501.77" y2="174.75" stroke="#095f9d" stroke-width="1.0"/>
<line x1="509.18" y1="156.76" x2="509.09" y2="174.76" stroke="#095f9d" stroke-width="1.0"/>
<line x1="516.50" y1="156.77" x2="516.41" y2="174.77" stroke="#095f9d" stroke-width="1.0"/>
<line x1="523.82" y1="156.78" x2="523.73" y2="174.78" stroke="#095f9d" stroke-width="1.0"/>
<line x1="531.13" y1="156.78" x2="531.05" y2="174.78" stroke="#095f9d" stroke-width="1.0"/>
<line x1="538.45" y1="156.79" x2="538.37" y2="174.79" stroke="#095f9d" stroke-width="1.0"/>
<line x1="545.77" y1="156.80" x2="545.69" y2="174.80" stroke="#095f9d" stroke-width="1.0"/>
<line x1="553.09" y1="156.81" x2="553.01" y2="174.81" stroke="#095f9d" stroke-width="1.0"/>
<line x1="428.66" y1="156.64" x2="428.57" y2="174.64" stroke="#064c82" stroke-width="1.0"/>
<line x1="560.41" y1="156.82" x2="560.33" y2="174.82" stroke="#064c82" stroke-width="1.0"/>
<polyline fill="none" points="428.66,156.64 472.58,156.71 516.50,156.77 560.41,156.82" stroke="#064c82" stroke-width="1.0"/>
<polyline fill="none" points="428.57,174.64 472.49,174.71 516.41,174.77 560.33,174.82" stroke="#064c82" stroke-width="1.0"/>
<polygon points="150.42,173.97 189.46,174.09 228.50,174.20 267.53,174.30 267.46,187.80 228.42,187.70 189.38,187.59 150.34,187.47" fill="#1482c4"/>
<line x1="157.74" y1="174.00" x2="157.66" y2="187.50" stroke="#095f9d" stroke-width="1.0"/>
<line x1="165.06" y1="174.02" x2="164.98" y2="187.52" stroke="#095f9d" stroke-width="1.0"/>
<line x1="172.38" y1="174.04" x2="172.30" y2="187.54" stroke="#095f9d" stroke-width="1.0"/>
<line x1="179.70" y1="174.06" x2="179.62" y2="187.56" stroke="#095f9d" stroke-width="1.0"/>
<line x1="187.02" y1="174.09" x2="186.94" y2="187.59" stroke="#095f9d" stroke-width="1.0"/>
<line x1="194.34" y1="174.11" x2="194.26" y2="187.61" stroke="#095f9d" stroke-width="1.0"/>
<line x1="201.66" y1="174.13" x2="201.58" y2="187.63" stroke="#095f9d" stroke-width="1.0"/>
<line x1="208.98" y1="174.15" x2="208.90" y2="187.65" stroke="#095f9d" stroke-width="1.0"/>
<line x1="216.30" y1="174.17" x2="216.22" y2="187.67" stroke="#095f9d" stroke-width="1.0"/>
<line x1="223.62" y1="174.19" x2="223.54" y2="187.69" stroke="#095f9d" stroke-width="1.0"/>
<line x1="230.94" y1="174.21" x2="230.86" y2="187.71" stroke="#095f9d" stroke-width="1.0"/>
<line x1="238.26" y1="174.23" x2="238.18" y2="187.73" stroke="#095f9d" stroke-width="1.0"/>
<line x1="245.58" y1="174.25" x2="245.50" y2="187.75" stroke="#095f9d" stroke-width="1.0"/>
<line x1="252.89" y1="174.27" x2="252.82" y2="187.77" stroke="#095f9d" stroke-width="1.0"/>
<line x1="260.21" y1="174.28" x2="260.14" y2="187.78" stroke="#095f9d" stroke-width="1.0"/>
<line x1="150.42" y1="173.97" x2="150.34" y2="187.47" stroke="#333" stroke-width="1.0"/>
<line x1="267.53" y1="174.30" x2="267.46" y2="187.80" stroke="#064c82" stroke-width="1.0"/>
<polyline fill="none" points="150.42,173.97 189.46,174.09 228.50,174.20 267.53,174.30" stroke="#064c82" stroke-width="1.0"/>
<polyline fill="none" points="150.34,187.47 189.38,187.59 228.42,187.70 267.46,187.80" stroke="#064c82" stroke-width="1.0"/>
<polygon points="355.30,188.00 400.68,188.09 446.07,188.17 491.45,188.23 536.84,188.29 582.22,188.34 582.16,201.54 536.77,201.49 491.39,201.43 446.00,201.37 400.62,201.29 355.23,201.20" fill="#1482c4"/>
<line x1="362.62" y1="188.02" x2="362.55" y2="201.22" stroke="#095f9d" stroke-width="1.0"/>
<line x1="369.94" y1="188.03" x2="369.87" y2="201.23" stroke="#095f9d" stroke-width="1.0"/>
<line x1="377.26" y1="188.04" x2="377.19" y2="201.24" stroke="#095f9d" stroke-width="1.0"/>
<line x1="384.58" y1="188.06" x2="384.51" y2="201.26" stroke="#095f9d" stroke-width="1.0"/>
<line x1="391.90" y1="188.07" x2="391.83" y2="201.27" stroke="#095f9d" stroke-width="1.0"/>
<line x1="399.22" y1="188.09" x2="399.15" y2="201.29" stroke="#095f9d" stroke-width="1.0"/>
<line x1="406.54" y1="188.10" x2="406.47" y2="201.30" stroke="#095f9d" stroke-width="1.0"/>
<line x1="413.86" y1="188.11" x2="413.79" y2="201.31" stroke="#095f9d" stroke-width="1.0"/>
<line x1="421.18" y1="188.12" x2="421.11" y2="201.32" stroke="#095f9d" stroke-width="1.0"/>
<line x1="428.50" y1="188.14" x2="428.43" y2="201.34" stroke="#095f9d" stroke-width="1.0"/>
<line x1="435.82" y1="188.15" x2="435.75" y2="201.35" stroke="#095f9d" stroke-width="1.0"/>
<line x1="443.14" y1="188.16" x2="443.07" y2="201.36" stroke="#095f9d" stroke-width="1.0"/>
<line x1="450.46" y1="188.17" x2="450.39" y2="201.37" stroke="#095f9d" stroke-width="1.0"/>
<line x1="457.78" y1="188.18" x2="457.71" y2="201.38" stroke="#095f9d" stroke-width="1.0"/>
<line x1="465.10" y1="188.19" x2="465.03" y2="201.39" stroke="#095f9d" stroke-width="1.0"/>
<line x1="472.42" y1="188.21" x2="472.35" y2="201.41" stroke="#095f9d" stroke-width="1.0"/>
<line x1="479.74" y1="188.22" x2="479.67" y2="201.42" stroke="#095f9d" stroke-width="1.0"/>
<line x1="487.06" y1="188.23" x2="486.99" y2="201.43" stroke="#095f9d" stroke-width="1.0"/>
<line x1="494.38" y1="188.24" x2="494.31" y2="201.44" stroke="#095f9d" stroke-width="1.0"/>
<line x1="501.70" y1="188.25" x2="501.63" y2="201.45" stroke="#095f9d" stroke-width="1.0"/>
<line x1="509.02" y1="188.26" x2="508.95" y2="201.46" stroke="#095f9d" stroke-width="1.0"/>
<line x1="516.34" y1="188.27" x2="516.27" y2="201.47" stroke="#095f9d" stroke-width="1.0"/>
<line x1="523.66" y1="188.28" x2="523.59" y2="201.48" stroke="#095f9d" stroke-width="1.0"/>
<line x1="530.98" y1="188.28" x2="530.91" y2="201.48" stroke="#095f9d" stroke-width="1.0"/>
<line x1="538.30" y1="188.29" x2="538.24" y2="201.49" stroke="#095f9d" stroke-width="1.0"/>
<line x1="545.62" y1="188.30" x2="545.56" y2="201.50" stroke="#095f9d" stroke-width="1.0"/>
<line x1="552.94" y1="188.31" x2="552.88" y2="201.51" stroke="#095f9d" stroke-width="1.0"/>
<line x1="560.26" y1="188.32" x2="560.20" y2="201.52" stroke="#095f9d" stroke-width="1.0"/>
<line x1="567.58" y1="188.33" x2="567.52" y2="201.53" stroke="#095f9d" stroke-width="1.0"/>
<line x1="574.90" y1="188.33" x2="574.84" y2="201.53" stroke="#095f9d" stroke-width="1.0"/>
<line x1="355.30" y1="188.00" x2="355.23" y2="201.20" stroke="#064c82" stroke-width="1.0"/>
<line x1="582.22" y1="188.34" x2="582.16" y2="201.54" stroke="#064c82" stroke-width="1.0"/>
<polyline fill="none" points="355.30,188.00 400.68,188.09 446.07,188.17 491.45,188.23 536.84,188.29 582.22,188.34" stroke="#064c82" stroke-width="1.0"/>
<polyline fill="none" points="355.23,201.20 400.62,201.29 446.00,201.37 491.39,201.43 536.77,201.49 582.16,201.54" stroke="#064c82" stroke-width="1.0"/>
<polygon points="355.23,201.20 394.27,201.28 433.31,201.34 472.35,201.41 472.29,214.51 433.25,214.44 394.20,214.38 355.16,214.30" fill="#1482c4"/>
<line x1="362.55" y1="201.22" x2="362.48" y2="214.32" stroke="#095f9d" stroke-width="1.0"/>
<line x1="369.87" y1="201.23" x2="369.80" y2="214.33" stroke="#095f9d" stroke-width="1.0"/>
<line x1="377.19" y1="201.24" x2="377.12" y2="214.34" stroke="#095f9d" stroke-width="1.0"/>
<line x1="384.51" y1="201.26" x2="384.44" y2="214.36" stroke="#095f9d" stroke-width="1.0"/>
<line x1="391.83" y1="201.27" x2="391.76" y2="214.37" stroke="#095f9d" stroke-width="1.0"/>
<line x1="399.15" y1="201.29" x2="399.08" y2="214.39" stroke="#095f9d" stroke-width="1.0"/>
<line x1="406.47" y1="201.30" x2="406.40" y2="214.40" stroke="#095f9d" stroke-width="1.0"/>
<line x1="413.79" y1="201.31" x2="413.72" y2="214.41" stroke="#095f9d" stroke-width="1.0"/>
<line x1="421.11" y1="201.32" x2="421.04" y2="214.42" stroke="#095f9d" stroke-width="1.0"/>
<line x1="428.43" y1="201.34" x2="428.37" y2="214.44" stroke="#095f9d" stroke-width="1.0"/>
<line x1="435.75" y1="201.35" x2="435.69" y2="214.45" stroke="#095f9d" stroke-width="1.0"/>
<line x1="443.07" y1="201.36" x2="443.01" y2="214.46" stroke="#095f9d" stroke-width="1.0"/>
<line x1="450.39" y1="201.37" x2="450.33" y2="214.47" stroke="#095f9d" stroke-width="1.0"/>
<line x1="457.71" y1="201.38" x2="457.65" y2="214.48" stroke="#095f9d" stroke-width="1.0"/>
<line x1="465.03" y1="201.39" x2="464.97" y2="214.49" stroke="#095f9d" stroke-width="1.0"/>
<line x1="355.23" y1="201.20" x2="355.16" y2="214.30" stroke="#064c82" stroke-width="1.0"/>
<line x1="472.35" y1="201.41" x2="472.29" y2="214.51" stroke="#064c82" stroke-width="1.0"/>
<polyline fill="none" points="355.23,201.20 394.27,201.28 433.31,201.34 472.35,201.41" stroke="#064c82" stroke-width="1.0"/>
<polyline fill="none" points="355.16,214.30 394.20,214.38 433.25,214.44 472.29,214.51" stroke="#064c82" stroke-width="1.0"/>
<polygon points="325.88,214.24 372.73,214.34 419.58,214.42 466.43,214.50 513.28,214.56 560.13,214.62 560.06,228.92 513.21,228.86 466.36,228.80 419.51,228.72 372.66,228.64 325.80,228.54" fill="#1482c4"/>
<line x1="333.20" y1="214.25" x2="333.12" y2="228.55" stroke="#095f9d" stroke-width="1.0"/>
<line x1="340.52" y1="214.27" x2="340.44" y2="228.57" stroke="#095f9d" stroke-width="1.0"/>
<line x1="347.84" y1="214.29" x2="347.77" y2="228.59" stroke="#095f9d" stroke-width="1.0"/>
<line x1="355.16" y1="214.30" x2="355.09" y2="228.60" stroke="#095f9d" stroke-width="1.0"/>
<line x1="362.48" y1="214.32" x2="362.41" y2="228.62" stroke="#095f9d" stroke-width="1.0"/>
<line x1="369.80" y1="214.33" x2="369.73" y2="228.63" stroke="#095f9d" stroke-width="1.0"/>
<line x1="377.12" y1="214.34" x2="377.05" y2="228.64" stroke="#095f9d" stroke-width="1.0"/>
<line x1="384.44" y1="214.36" x2="384.37" y2="228.66" stroke="#095f9d" stroke-width="1.0"/>
<line x1="391.76" y1="214.37" x2="391.69" y2="228.67" stroke="#095f9d" stroke-width="1.0"/>
<line x1="399.08" y1="214.39" x2="399.01" y2="228.69" stroke="#095f9d" stroke-width="1.0"/>
<line x1="406.40" y1="214.40" x2="406.33" y2="228.70" stroke="#095f9d" stroke-width="1.0"/>
<line x1="413.72" y1="214.41" x2="413.65" y2="228.71" stroke="#095f9d" stroke-width="1.0"/>
<line x1="421.04" y1="214.42" x2="420.97" y2="228.72" stroke="#095f9d" stroke-width="1.0"/>
<line x1="428.37" y1="214.44" x2="428.29" y2="228.74" stroke="#095f9d" stroke-width="1.0"/>
<line x1="435.69" y1="214.45" x2="435.61" y2="228.75" stroke="#095f9d" stroke-width="1.0"/>
<line x1="443.01" y1="214.46" x2="442.93" y2="228.76" stroke="#095f9d" stroke-width="1.0"/>
<line x1="450.33" y1="214.47" x2="450.25" y2="228.77" stroke="#095f9d" stroke-width="1.0"/>
<line x1="457.65" y1="214.48" x2="457.57" y2="228.78" stroke="#095f9d" stroke-width="1.0"/>
<line x1="464.97" y1="214.49" x2="464.89" y2="228.79" stroke="#095f9d" stroke-width="1.0"/>
<line x1="472.29" y1="214.51" x2="472.22" y2="228.81" stroke="#095f9d" stroke-width="1.0"/>
<line x1="479.61" y1="214.52" x2="479.54" y2="228.82" stroke="#095f9d" stroke-width="1.0"/>
<line x1="486.93" y1="214.53" x2="486.86" y2="228.83" stroke="#095f9d" stroke-width="1.0"/>
<line x1="494.25" y1="214.54" x2="494.18" y2="228.84" stroke="#095f9d" stroke-width="1.0"/>
<line x1="501.57" y1="214.55" x2="501.50" y2="228.85" stroke="#095f9d" stroke-width="1.0"/>
<line x1="508.89" y1="214.56" x2="508.82" y2="228.86" stroke="#095f9d" stroke-width="1.0"/>
<line x1="516.21" y1="214.57" x2="516.14" y2="228.87" stroke="#095f9d" stroke-width="1.0"/>
<line x1="523.53" y1="214.58" x2="523.46" y2="228.88" stroke="#095f9d" stroke-width="1.0"/>
<line x1="530.85" y1="214.58" x2="530.78" y2="228.88" stroke="#095f9d" stroke-width="1.0"/>
<line x1="538.17" y1="214.59" x2="538.10" y2="228.89" stroke="#095f9d" stroke-width="1.0"/>
<line x1="545.49" y1="214.60" x2="545.42" y2="228.90" stroke="#095f9d" stroke-width="1.0"/>
<line x1="552.81" y1="214.61" x2="552.74" y2="228.91" stroke="#095f9d" stroke-width="1.0"/>
<line x1="325.88" y1="214.24" x2="325.80" y2="228.54" stroke="#064c82" stroke-width="1.0"/>
<line x1="560.13" y1="214.62" x2="560.06" y2="228.92" stroke="#064c82" stroke-width="1.0"/>
<polyline fill="none" points="325.88,214.24 372.73,214.34 419.58,214.42 466.43,214.50 513.28,214.56 560.13,214.62" stroke="#064c82" stroke-width="1.0"/>
<polyline fill="none" points="325.80,228.54 372.66,228.64 419.51,228.72 466.36,228.80 513.21,228.86 560.06,228.92" stroke="#064c82" stroke-width="1.0"/>
<polygon points="603.92,243.86 653.70,243.91 703.48,243.94 753.26,243.96 803.04,243.98 852.82,243.99 852.78,253.89 803.00,253.88 753.22,253.86 703.43,253.84 653.65,253.81 603.87,253.76" fill="#1482c4"/>
<line x1="611.24" y1="243.87" x2="611.19" y2="253.77" stroke="#095f9d" stroke-width="1.0"/>
<line x1="618.56" y1="243.88" x2="618.51" y2="253.78" stroke="#095f9d" stroke-width="1.0"/>
<line x1="625.88" y1="243.88" x2="625.83" y2="253.78" stroke="#095f9d" stroke-width="1.0"/>
<line x1="633.20" y1="243.89" x2="633.15" y2="253.79" stroke="#095f9d" stroke-width="1.0"/>
<line x1="640.52" y1="243.90" x2="640.47" y2="253.80" stroke="#095f9d" stroke-width="1.0"/>
<line x1="647.84" y1="243.90" x2="647.79" y2="253.80" stroke="#095f9d" stroke-width="1.0"/>
<line x1="655.16" y1="243.91" x2="655.11" y2="253.81" stroke="#095f9d" stroke-width="1.0"/>
<line x1="662.48" y1="243.91" x2="662.44" y2="253.81" stroke="#095f9d" stroke-width="1.0"/>
<line x1="669.80" y1="243.92" x2="669.76" y2="253.82" stroke="#095f9d" stroke-width="1.0"/>
<line x1="677.12" y1="243.92" x2="677.08" y2="253.82" stroke="#095f9d" stroke-width="1.0"/>
<line x1="684.44" y1="243.93" x2="684.40" y2="253.83" stroke="#095f9d" stroke-width="1.0"/>
<line x1="691.77" y1="243.93" x2="691.72" y2="253.83" stroke="#095f9d" stroke-width="1.0"/>
<line x1="699.09" y1="243.94" x2="699.04" y2="253.84" stroke="#095f9d" stroke-width="1.0"/>
<line x1="706.41" y1="243.94" x2="706.36" y2="253.84" stroke="#095f9d" stroke-width="1.0"/>
<line x1="713.73" y1="243.94" x2="713.68" y2="253.84" stroke="#095f9d" stroke-width="1.0"/>
<line x1="721.05" y1="243.95" x2="721.00" y2="253.85" stroke="#095f9d" stroke-width="1.0"/>
<line x1="728.37" y1="243.95" x2="728.32" y2="253.85" stroke="#095f9d" stroke-width="1.0"/>
<line x1="735.69" y1="243.96" x2="735.65" y2="253.86" stroke="#095f9d" stroke-width="1.0"/>
<line x1="743.01" y1="243.96" x2="742.97" y2="253.86" stroke="#095f9d" stroke-width="1.0"/>
<line x1="750.33" y1="243.96" x2="750.29" y2="253.86" stroke="#095f9d" stroke-width="1.0"/>
<line x1="757.65" y1="243.97" x2="757.61" y2="253.87" stroke="#095f9d" stroke-width="1.0"/>
<line x1="764.97" y1="243.97" x2="764.93" y2="253.87" stroke="#095f9d" stroke-width="1.0"/>
<line x1="772.29" y1="243.97" x2="772.25" y2="253.87" stroke="#095f9d" stroke-width="1.0"/>
<line x1="779.62" y1="243.97" x2="779.57" y2="253.87" stroke="#095f9d" stroke-width="1.0"/>
<line x1="786.94" y1="243.98" x2="786.89" y2="253.88" stroke="#095f9d" stroke-width="1.0"/>
<line x1="794.26" y1="243.98" x2="794.21" y2="253.88" stroke="#095f9d" stroke-width="1.0"/>
<line x1="801.58" y1="243.98" x2="801.53" y2="253.88" stroke="#095f9d" stroke-width="1.0"/>
<line x1="808.90" y1="243.98" x2="808.86" y2="253.88" stroke="#095f9d" stroke-width="1.0"/>
<line x1="816.22" y1="243.98" x2="816.18" y2="253.88" stroke="#095f9d" stroke-width="1.0"/>
<line x1="823.54" y1="243.99" x2="823.50" y2="253.89" stroke="#095f9d" stroke-width="1.0"/>
<line x1="830.86" y1="243.99" x2="830.82" y2="253.89" stroke="#095f9d" stroke-width="1.0"/>
<line x1="838.18" y1="243.99" x2="838.14" y2="253.89" stroke="#095f9d" stroke-width="1.0"/>
<line x1="845.50" y1="243.99" x2="845.46" y2="253.89" stroke="#095f9d" stroke-width="1.0"/>
<line x1="603.92" y1="243.86" x2="603.87" y2="253.76" stroke="#064c82" stroke-width="1.0"/>
<line x1="852.82" y1="243.99" x2="852.78" y2="253.89" stroke="#064c82" stroke-width="1.0"/>
<polyline fill="none" points="603.92,243.86 653.70,243.91 703.48,243.94 753.26,243.96 803.04,243.98 852.82,243.99" stroke="#064c82" stroke-width="1.0"/>
<polyline fill="none" points="603.87,253.76 653.65,253.81 703.43,253.84 753.22,253.86 803.00,253.88 852.78,253.89" stroke="#064c82" stroke-width="1.0"/>
<polygon points="464.77,253.59 510.32,253.66 555.87,253.71 601.43,253.76 646.98,253.80 692.53,253.83 738.09,253.86 783.64,253.87 829.19,253.89 874.74,253.90 874.71,262.50 829.15,262.49 783.60,262.47 738.05,262.46 692.49,262.43 646.94,262.40 601.39,262.36 555.83,262.31 510.28,262.26 464.73,262.19" fill="#1482c4"/>
<line x1="472.09" y1="253.61" x2="472.05" y2="262.21" stroke="#095f9d" stroke-width="1.0"/>
<line x1="479.41" y1="253.62" x2="479.37" y2="262.22" stroke="#095f9d" stroke-width="1.0"/>
<line x1="486.73" y1="253.63" x2="486.69" y2="262.23" stroke="#095f9d" stroke-width="1.0"/>
<line x1="494.05" y1="253.64" x2="494.01" y2="262.24" stroke="#095f9d" stroke-width="1.0"/>
<line x1="501.37" y1="253.65" x2="501.33" y2="262.25" stroke="#095f9d" stroke-width="1.0"/>
<line x1="508.70" y1="253.66" x2="508.65" y2="262.26" stroke="#095f9d" stroke-width="1.0"/>
<line x1="516.02" y1="253.67" x2="515.97" y2="262.27" stroke="#095f9d" stroke-width="1.0"/>
<line x1="523.34" y1="253.68" x2="523.29" y2="262.28" stroke="#095f9d" stroke-width="1.0"/>
<line x1="530.66" y1="253.68" x2="530.62" y2="262.28" stroke="#095f9d" stroke-width="1.0"/>
<line x1="537.98" y1="253.69" x2="537.94" y2="262.29" stroke="#095f9d" stroke-width="1.0"/>
<line x1="545.30" y1="253.70" x2="545.26" y2="262.30" stroke="#095f9d" stroke-width="1.0"/>
<line x1="552.62" y1="253.71" x2="552.58" y2="262.31" stroke="#095f9d" stroke-width="1.0"/>
<line x1="559.94" y1="253.72" x2="559.90" y2="262.32" stroke="#095f9d" stroke-width="1.0"/>
<line x1="567.26" y1="253.73" x2="567.22" y2="262.33" stroke="#095f9d" stroke-width="1.0"/>
<line x1="574.58" y1="253.73" x2="574.54" y2="262.33" stroke="#095f9d" stroke-width="1.0"/>
<line x1="581.91" y1="253.74" x2="581.86" y2="262.34" stroke="#095f9d" stroke-width="1.0"/>
<line x1="589.23" y1="253.75" x2="589.18" y2="262.35" stroke="#095f9d" stroke-width="1.0"/>
<line x1="596.55" y1="253.76" x2="596.51" y2="262.36" stroke="#095f9d" stroke-width="1.0"/>
<line x1="603.87" y1="253.76" x2="603.83" y2="262.36" stroke="#095f9d" stroke-width="1.0"/>
<line x1="611.19" y1="253.77" x2="611.15" y2="262.37" stroke="#095f9d" stroke-width="1.0"/>
<line x1="618.51" y1="253.78" x2="618.47" y2="262.38" stroke="#095f9d" stroke-width="1.0"/>
<line x1="625.83" y1="253.78" x2="625.79" y2="262.38" stroke="#095f9d" stroke-width="1.0"/>
<line x1="633.15" y1="253.79" x2="633.11" y2="262.39" stroke="#095f9d" stroke-width="1.0"/>
<line x1="640.47" y1="253.80" x2="640.43" y2="262.40" stroke="#095f9d" stroke-width="1.0"/>
<line x1="647.79" y1="253.80" x2="647.75" y2="262.40" stroke="#095f9d" stroke-width="1.0"/>
<line x1="655.11" y1="253.81" x2="655.07" y2="262.41" stroke="#095f9d" stroke-width="1.0"/>
<line x1="662.44" y1="253.81" x2="662.40" y2="262.41" stroke="#095f9d" stroke-width="1.0"/>
<line x1="669.76" y1="253.82" x2="669.72" y2="262.42" stroke="#095f9d" stroke-width="1.0"/>
<line x1="677.08" y1="253.82" x2="677.04" y2="262.42" stroke="#095f9d" stroke-width="1.0"/>
<line x1="684.40" y1="253.83" x2="684.36" y2="262.43" stroke="#095f9d" stroke-width="1.0"/>
<line x1="691.72" y1="253.83" x2="691.68" y2="262.43" stroke="#095f9d" stroke-width="1.0"/>
<line x1="699.04" y1="253.84" x2="699.00" y2="262.44" stroke="#095f9d" stroke-width="1.0"/>
<line x1="706.36" y1="253.84" x2="706.32" y2="262.44" stroke="#095f9d" stroke-width="1.0"/>
<line x1="713.68" y1="253.84" x2="713.64" y2="262.44" stroke="#095f9d" stroke-width="1.0"/>
<line x1="721.00" y1="253.85" x2="720.96" y2="262.45" stroke="#095f9d" stroke-width="1.0"/>
<line x1="728.32" y1="253.85" x2="728.29" y2="262.45" stroke="#095f9d" stroke-width="1.0"/>
<line x1="735.65" y1="253.86" x2="735.61" y2="262.46" stroke="#095f9d" stroke-width="1.0"/>
<line x1="742.97" y1="253.86" x2="742.93" y2="262.46" stroke="#095f9d" stroke-width="1.0"/>
<line x1="750.29" y1="253.86" x2="750.25" y2="262.46" stroke="#095f9d" stroke-width="1.0"/>
<line x1="757.61" y1="253.87" x2="757.57" y2="262.47" stroke="#095f9d" stroke-width="1.0"/>
<line x1="764.93" y1="253.87" x2="764.89" y2="262.47" stroke="#095f9d" stroke-width="1.0"/>
<line x1="772.25" y1="253.87" x2="772.21" y2="262.47" stroke="#095f9d" stroke-width="1.0"/>
<line x1="779.57" y1="253.87" x2="779.53" y2="262.47" stroke="#095f9d" stroke-width="1.0"/>
<line x1="786.89" y1="253.88" x2="786.85" y2="262.48" stroke="#095f9d" stroke-width="1.0"/>
<line x1="794.21" y1="253.88" x2="794.18" y2="262.48" stroke="#095f9d" stroke-width="1.0"/>
<line x1="801.53" y1="253.88" x2="801.50" y2="262.48" stroke="#095f9d" stroke-width="1.0"/>
<line x1="808.86" y1="253.88" x2="808.82" y2="262.48" stroke="#095f9d" stroke-width="1.0"/>
<line x1="816.18" y1="253.88" x2="816.14" y2="262.48" stroke="#095f9d" stroke-width="1.0"/>
<line x1="823.50" y1="253.89" x2="823.46" y2="262.49" stroke="#095f9d" stroke-width="1.0"/>
<line x1="830.82" y1="253.89" x2="830.78" y2="262.49" stroke="#095f9d" stroke-width="1.0"/>
<line x1="838.14" y1="253.89" x2="838.10" y2="262.49" stroke="#095f9d" stroke-width="1.0"/>
<line x1="845.46" y1="253.89" x2="845.42" y2="262.49" stroke="#095f9d" stroke-width="1.0"/>
<line x1="852.78" y1="253.89" x2="852.74" y2="262.49" stroke="#095f9d" stroke-width="1.0"/>
<line x1="860.10" y1="253.89" x2="860.07" y2="262.49" stroke="#095f9d" stroke-width="1.0"/>
<line x1="867.42" y1="253.89" x2="867.39" y2="262.49" stroke="#095f9d" stroke-width="1.0"/>
<line x1="464.77" y1="253.59" x2="464.73" y2="262.19" stroke="#064c82" stroke-width="1.0"/>
<line x1="874.74" y1="253.90" x2="874.71" y2="262.50" stroke="#064c82" stroke-width="1.0"/>
<polyline fill="none" points="464.77,253.59 510.32,253.66 555.87,253.71 601.43,253.76 646.98,253.80 692.53,253.83 738.09,253.86 783.64,253.87 829.19,253.89 874.74,253.90" stroke="#064c82" stroke-width="1.0"/>
<polyline fill="none" points="464.73,262.19 510.28,262.26 555.83,262.31 601.39,262.36 646.94,262.40 692.49,262.43 738.05,262.46 783.60,262.47 829.15,262.49 874.71,262.50" stroke="#064c82" stroke-width="1.0"/>
<polygon points="479.37,262.22 525.74,262.28 572.10,262.33 618.47,262.38 664.84,262.41 711.20,262.44 757.57,262.47 803.94,262.48 850.30,262.49 896.67,262.50 896.63,273.20 850.26,273.19 803.89,273.18 757.52,273.17 711.15,273.14 664.79,273.11 618.42,273.08 572.05,273.03 525.68,272.98 479.31,272.92" fill="#1482c4"/>
<line x1="486.69" y1="262.23" x2="486.64" y2="272.93" stroke="#095f9d" stroke-width="1.0"/>
<line x1="494.01" y1="262.24" x2="493.96" y2="272.94" stroke="#095f9d" stroke-width="1.0"/>
<line x1="501.33" y1="262.25" x2="501.28" y2="272.95" stroke="#095f9d" stroke-width="1.0"/>
<line x1="508.65" y1="262.26" x2="508.60" y2="272.96" stroke="#095f9d" stroke-width="1.0"/>
<line x1="515.97" y1="262.27" x2="515.92" y2="272.97" stroke="#095f9d" stroke-width="1.0"/>
<line x1="523.29" y1="262.28" x2="523.24" y2="272.98" stroke="#095f9d" stroke-width="1.0"/>
<line x1="530.62" y1="262.28" x2="530.56" y2="272.98" stroke="#095f9d" stroke-width="1.0"/>
<line x1="537.94" y1="262.29" x2="537.88" y2="272.99" stroke="#095f9d" stroke-width="1.0"/>
<line x1="545.26" y1="262.30" x2="545.21" y2="273.00" stroke="#095f9d" stroke-width="1.0"/>
<line x1="552.58" y1="262.31" x2="552.53" y2="273.01" stroke="#095f9d" stroke-width="1.0"/>
<line x1="559.90" y1="262.32" x2="559.85" y2="273.02" stroke="#095f9d" stroke-width="1.0"/>
<line x1="567.22" y1="262.33" x2="567.17" y2="273.03" stroke="#095f9d" stroke-width="1.0"/>
<line x1="574.54" y1="262.33" x2="574.49" y2="273.03" stroke="#095f9d" stroke-width="1.0"/>
<line x1="581.86" y1="262.34" x2="581.81" y2="273.04" stroke="#095f9d" stroke-width="1.0"/>
<line x1="589.18" y1="262.35" x2="589.13" y2="273.05" stroke="#095f9d" stroke-width="1.0"/>
<line x1="596.51" y1="262.36" x2="596.45" y2="273.06" stroke="#095f9d" stroke-width="1.0"/>
<line x1="603.83" y1="262.36" x2="603.78" y2="273.06" stroke="#095f9d" stroke-width="1.0"/>
<line x1="611.15" y1="262.37" x2="611.10" y2="273.07" stroke="#095f9d" stroke-width="1.0"/>
<line x1="618.47" y1="262.38" x2="618.42" y2="273.08" stroke="#095f9d" stroke-width="1.0"/>
<line x1="625.79" y1="262.38" x2="625.74" y2="273.08" stroke="#095f9d" stroke-width="1.0"/>
<line x1="633.11" y1="262.39" x2="633.06" y2="273.09" stroke="#095f9d" stroke-width="1.0"/>
<line x1="640.43" y1="262.40" x2="640.38" y2="273.10" stroke="#095f9d" stroke-width="1.0"/>
<line x1="647.75" y1="262.40" x2="647.70" y2="273.10" stroke="#095f9d" stroke-width="1.0"/>
<line x1="655.07" y1="262.41" x2="655.02" y2="273.11" stroke="#095f9d" stroke-width="1.0"/>
<line x1="662.40" y1="262.41" x2="662.35" y2="273.11" stroke="#095f9d" stroke-width="1.0"/>
<line x1="669.72" y1="262.42" x2="669.67" y2="273.12" stroke="#095f9d" stroke-width="1.0"/>
<line x1="677.04" y1="262.42" x2="676.99" y2="273.12" stroke="#095f9d" stroke-width="1.0"/>
<line x1="684.36" y1="262.43" x2="684.31" y2="273.13" stroke="#095f9d" stroke-width="1.0"/>
<line x1="691.68" y1="262.43" x2="691.63" y2="273.13" stroke="#095f9d" stroke-width="1.0"/>
<line x1="699.00" y1="262.44" x2="698.95" y2="273.14" stroke="#095f9d" stroke-width="1.0"/>
<line x1="706.32" y1="262.44" x2="706.27" y2="273.14" stroke="#095f9d" stroke-width="1.0"/>
<line x1="713.64" y1="262.44" x2="713.60" y2="273.14" stroke="#095f9d" stroke-width="1.0"/>
<line x1="720.96" y1="262.45" x2="720.92" y2="273.15" stroke="#095f9d" stroke-width="1.0"/>
<line x1="728.29" y1="262.45" x2="728.24" y2="273.15" stroke="#095f9d" stroke-width="1.0"/>
<line x1="735.61" y1="262.46" x2="735.56" y2="273.16" stroke="#095f9d" stroke-width="1.0"/>
<line x1="742.93" y1="262.46" x2="742.88" y2="273.16" stroke="#095f9d" stroke-width="1.0"/>
<line x1="750.25" y1="262.46" x2="750.20" y2="273.16" stroke="#095f9d" stroke-width="1.0"/>
<line x1="757.57" y1="262.47" x2="757.52" y2="273.17" stroke="#095f9d" stroke-width="1.0"/>
<line x1="764.89" y1="262.47" x2="764.84" y2="273.17" stroke="#095f9d" stroke-width="1.0"/>
<line x1="772.21" y1="262.47" x2="772.17" y2="273.17" stroke="#095f9d" stroke-width="1.0"/>
<line x1="779.53" y1="262.47" x2="779.49" y2="273.17" stroke="#095f9d" stroke-width="1.0"/>
<line x1="786.85" y1="262.48" x2="786.81" y2="273.18" stroke="#095f9d" stroke-width="1.0"/>
<line x1="794.18" y1="262.48" x2="794.13" y2="273.18" stroke="#095f9d" stroke-width="1.0"/>
<line x1="801.50" y1="262.48" x2="801.45" y2="273.18" stroke="#095f9d" stroke-width="1.0"/>
<line x1="808.82" y1="262.48" x2="808.77" y2="273.18" stroke="#095f9d" stroke-width="1.0"/>
<line x1="816.14" y1="262.48" x2="816.09" y2="273.18" stroke="#095f9d" stroke-width="1.0"/>
<line x1="823.46" y1="262.49" x2="823.41" y2="273.19" stroke="#095f9d" stroke-width="1.0"/>
<line x1="830.78" y1="262.49" x2="830.74" y2="273.19" stroke="#095f9d" stroke-width="1.0"/>
<line x1="838.10" y1="262.49" x2="838.06" y2="273.19" stroke="#095f9d" stroke-width="1.0"/>
<line x1="845.42" y1="262.49" x2="845.38" y2="273.19" stroke="#095f9d" stroke-width="1.0"/>
<line x1="852.74" y1="262.49" x2="852.70" y2="273.19" stroke="#095f9d" stroke-width="1.0"/>
<line x1="860.07" y1="262.49" x2="860.02" y2="273.19" stroke="#095f9d" stroke-width="1.0"/>
<line x1="867.39" y1="262.49" x2="867.34" y2="273.19" stroke="#095f9d" stroke-width="1.0"/>
<line x1="874.71" y1="262.50" x2="874.66" y2="273.20" stroke="#095f9d" stroke-width="1.0"/>
<line x1="882.03" y1="262.50" x2="881.98" y2="273.20" stroke="#095f9d" stroke-width="1.0"/>
<line x1="889.35" y1="262.50" x2="889.31" y2="273.20" stroke="#095f9d" stroke-width="1.0"/>
<line x1="479.37" y1="262.22" x2="479.31" y2="272.92" stroke="#064c82" stroke-width="1.0"/>
<line x1="896.67" y1="262.50" x2="896.63" y2="273.20" stroke="#064c82" stroke-width="1.0"/>
<polyline fill="none" points="479.37,262.22 525.74,262.28 572.10,262.33 618.47,262.38 664.84,262.41 711.20,262.44 757.57,262.47 803.94,262.48 850.30,262.49 896.67,262.50" stroke="#064c82" stroke-width="1.0"/>
<polyline fill="none" points="479.31,272.92 525.68,272.98 572.05,273.03 618.42,273.08 664.79,273.11 711.15,273.14 757.52,273.17 803.89,273.18 850.26,273.19 896.63,273.20" stroke="#064c82" stroke-width="1.0"/>
<polygon points="669.67,273.12 711.76,273.14 753.86,273.16 795.96,273.18 838.06,273.19 838.01,284.09 795.91,284.08 753.81,284.06 711.72,284.04 669.62,284.02" fill="#1482c4"/>
<line x1="676.99" y1="273.12" x2="676.94" y2="284.02" stroke="#095f9d" stroke-width="1.0"/>
<line x1="684.31" y1="273.13" x2="684.26" y2="284.03" stroke="#095f9d" stroke-width="1.0"/>
<line x1="691.63" y1="273.13" x2="691.58" y2="284.03" stroke="#095f9d" stroke-width="1.0"/>
<line x1="698.95" y1="273.14" x2="698.90" y2="284.04" stroke="#095f9d" stroke-width="1.0"/>
<line x1="706.27" y1="273.14" x2="706.22" y2="284.04" stroke="#095f9d" stroke-width="1.0"/>
<line x1="713.60" y1="273.14" x2="713.55" y2="284.04" stroke="#095f9d" stroke-width="1.0"/>
<line x1="720.92" y1="273.15" x2="720.87" y2="284.05" stroke="#095f9d" stroke-width="1.0"/>
<line x1="728.24" y1="273.15" x2="728.19" y2="284.05" stroke="#095f9d" stroke-width="1.0"/>
<line x1="735.56" y1="273.16" x2="735.51" y2="284.06" stroke="#095f9d" stroke-width="1.0"/>
<line x1="742.88" y1="273.16" x2="742.83" y2="284.06" stroke="#095f9d" stroke-width="1.0"/>
<line x1="750.20" y1="273.16" x2="750.15" y2="284.06" stroke="#095f9d" stroke-width="1.0"/>
<line x1="757.52" y1="273.17" x2="757.47" y2="284.07" stroke="#095f9d" stroke-width="1.0"/>
<line x1="764.84" y1="273.17" x2="764.80" y2="284.07" stroke="#095f9d" stroke-width="1.0"/>
<line x1="772.17" y1="273.17" x2="772.12" y2="284.07" stroke="#095f9d" stroke-width="1.0"/>
<line x1="779.49" y1="273.17" x2="779.44" y2="284.07" stroke="#095f9d" stroke-width="1.0"/>
<line x1="786.81" y1="273.18" x2="786.76" y2="284.08" stroke="#095f9d" stroke-width="1.0"/>
<line x1="794.13" y1="273.18" x2="794.08" y2="284.08" stroke="#095f9d" stroke-width="1.0"/>
<line x1="801.45" y1="273.18" x2="801.40" y2="284.08" stroke="#095f9d" stroke-width="1.0"/>
<line x1="808.77" y1="273.18" x2="808.72" y2="284.08" stroke="#095f9d" stroke-width="1.0"/>
<line x1="816.09" y1="273.18" x2="816.05" y2="284.08" stroke="#095f9d" stroke-width="1.0"/>
<line x1="823.41" y1="273.19" x2="823.37" y2="284.09" stroke="#095f9d" stroke-width="1.0"/>
<line x1="830.74" y1="273.19" x2="830.69" y2="284.09" stroke="#095f9d" stroke-width="1.0"/>
<line x1="669.67" y1="273.12" x2="669.62" y2="284.02" stroke="#064c82" stroke-width="1.0"/>
<line x1="838.06" y1="273.19" x2="838.01" y2="284.09" stroke="#064c82" stroke-width="1.0"/>
<polyline fill="none" points="669.67,273.12 711.76,273.14 753.86,273.16 795.96,273.18 838.06,273.19" stroke="#064c82" stroke-width="1.0"/>
<polyline fill="none" points="669.62,284.02 711.72,284.04 753.81,284.06 795.91,284.08 838.01,284.09" stroke="#064c82" stroke-width="1.0"/>
<polygon points="493.85,295.24 540.22,295.30 586.59,295.35 632.96,295.39 679.33,295.42 725.70,295.45 772.07,295.47 818.44,295.49 864.81,295.49 911.18,295.50 911.13,307.50 864.76,307.49 818.39,307.49 772.01,307.47 725.64,307.45 679.27,307.42 632.90,307.39 586.53,307.35 540.16,307.30 493.79,307.24" fill="#1482c4"/>
<line x1="501.17" y1="295.25" x2="501.11" y2="307.25" stroke="#095f9d" stroke-width="1.0"/>
<line x1="508.49" y1="295.26" x2="508.43" y2="307.26" stroke="#095f9d" stroke-width="1.0"/>
<line x1="515.81" y1="295.27" x2="515.75" y2="307.27" stroke="#095f9d" stroke-width="1.0"/>
<line x1="523.13" y1="295.28" x2="523.07" y2="307.28" stroke="#095f9d" stroke-width="1.0"/>
<line x1="530.45" y1="295.28" x2="530.39" y2="307.28" stroke="#095f9d" stroke-width="1.0"/>
<line x1="537.78" y1="295.29" x2="537.72" y2="307.29" stroke="#095f9d" stroke-width="1.0"/>
<line x1="545.10" y1="295.30" x2="545.04" y2="307.30" stroke="#095f9d" stroke-width="1.0"/>
<line x1="552.42" y1="295.31" x2="552.36" y2="307.31" stroke="#095f9d" stroke-width="1.0"/>
<line x1="559.74" y1="295.32" x2="559.68" y2="307.32" stroke="#095f9d" stroke-width="1.0"/>
<line x1="567.06" y1="295.33" x2="567.00" y2="307.33" stroke="#095f9d" stroke-width="1.0"/>
<line x1="574.38" y1="295.33" x2="574.33" y2="307.33" stroke="#095f9d" stroke-width="1.0"/>
<line x1="581.70" y1="295.34" x2="581.65" y2="307.34" stroke="#095f9d" stroke-width="1.0"/>
<line x1="589.03" y1="295.35" x2="588.97" y2="307.35" stroke="#095f9d" stroke-width="1.0"/>
<line x1="596.35" y1="295.36" x2="596.29" y2="307.36" stroke="#095f9d" stroke-width="1.0"/>
<line x1="603.67" y1="295.36" x2="603.61" y2="307.36" stroke="#095f9d" stroke-width="1.0"/>
<line x1="610.99" y1="295.37" x2="610.93" y2="307.37" stroke="#095f9d" stroke-width="1.0"/>
<line x1="618.31" y1="295.38" x2="618.26" y2="307.38" stroke="#095f9d" stroke-width="1.0"/>
<line x1="625.63" y1="295.38" x2="625.58" y2="307.38" stroke="#095f9d" stroke-width="1.0"/>
<line x1="632.96" y1="295.39" x2="632.90" y2="307.39" stroke="#095f9d" stroke-width="1.0"/>
<line x1="640.28" y1="295.40" x2="640.22" y2="307.40" stroke="#095f9d" stroke-width="1.0"/>
<line x1="647.60" y1="295.40" x2="647.54" y2="307.40" stroke="#095f9d" stroke-width="1.0"/>
<line x1="654.92" y1="295.41" x2="654.87" y2="307.41" stroke="#095f9d" stroke-width="1.0"/>
<line x1="662.24" y1="295.41" x2="662.19" y2="307.41" stroke="#095f9d" stroke-width="1.0"/>
<line x1="669.56" y1="295.42" x2="669.51" y2="307.42" stroke="#095f9d" stroke-width="1.0"/>
<line x1="676.89" y1="295.42" x2="676.83" y2="307.42" stroke="#095f9d" stroke-width="1.0"/>
<line x1="684.21" y1="295.43" x2="684.15" y2="307.43" stroke="#095f9d" stroke-width="1.0"/>
<line x1="691.53" y1="295.43" x2="691.47" y2="307.43" stroke="#095f9d" stroke-width="1.0"/>
<line x1="698.85" y1="295.44" x2="698.80" y2="307.44" stroke="#095f9d" stroke-width="1.0"/>
<line x1="706.17" y1="295.44" x2="706.12" y2="307.44" stroke="#095f9d" stroke-width="1.0"/>
<line x1="713.49" y1="295.44" x2="713.44" y2="307.44" stroke="#095f9d" stroke-width="1.0"/>
<line x1="720.82" y1="295.45" x2="720.76" y2="307.45" stroke="#095f9d" stroke-width="1.0"/>
<line x1="728.14" y1="295.45" x2="728.08" y2="307.45" stroke="#095f9d" stroke-width="1.0"/>
<line x1="735.46" y1="295.46" x2="735.40" y2="307.46" stroke="#095f9d" stroke-width="1.0"/>
<line x1="742.78" y1="295.46" x2="742.73" y2="307.46" stroke="#095f9d" stroke-width="1.0"/>
<line x1="750.10" y1="295.46" x2="750.05" y2="307.46" stroke="#095f9d" stroke-width="1.0"/>
<line x1="757.42" y1="295.47" x2="757.37" y2="307.47" stroke="#095f9d" stroke-width="1.0"/>
<line x1="764.75" y1="295.47" x2="764.69" y2="307.47" stroke="#095f9d" stroke-width="1.0"/>
<line x1="772.07" y1="295.47" x2="772.01" y2="307.47" stroke="#095f9d" stroke-width="1.0"/>
<line x1="779.39" y1="295.47" x2="779.34" y2="307.47" stroke="#095f9d" stroke-width="1.0"/>
<line x1="786.71" y1="295.48" x2="786.66" y2="307.48" stroke="#095f9d" stroke-width="1.0"/>
<line x1="794.03" y1="295.48" x2="793.98" y2="307.48" stroke="#095f9d" stroke-width="1.0"/>
<line x1="801.35" y1="295.48" x2="801.30" y2="307.48" stroke="#095f9d" stroke-width="1.0"/>
<line x1="808.68" y1="295.48" x2="808.62" y2="307.48" stroke="#095f9d" stroke-width="1.0"/>
<line x1="816.00" y1="295.48" x2="815.94" y2="307.48" stroke="#095f9d" stroke-width="1.0"/>
<line x1="823.32" y1="295.49" x2="823.27" y2="307.49" stroke="#095f9d" stroke-width="1.0"/>
<line x1="830.64" y1="295.49" x2="830.59" y2="307.49" stroke="#095f9d" stroke-width="1.0"/>
<line x1="837.96" y1="295.49" x2="837.91" y2="307.49" stroke="#095f9d" stroke-width="1.0"/>
<line x1="845.28" y1="295.49" x2="845.23" y2="307.49" stroke="#095f9d" stroke-width="1.0"/>
<line x1="852.60" y1="295.49" x2="852.55" y2="307.49" stroke="#095f9d" stroke-width="1.0"/>
<line x1="859.93" y1="295.49" x2="859.88" y2="307.49" stroke="#095f9d" stroke-width="1.0"/>
<line x1="867.25" y1="295.49" x2="867.20" y2="307.49" stroke="#095f9d" stroke-width="1.0"/>
<line x1="874.57" y1="295.50" x2="874.52" y2="307.50" stroke="#095f9d" stroke-width="1.0"/>
<line x1="881.89" y1="295.50" x2="881.84" y2="307.50" stroke="#095f9d" stroke-width="1.0"/>
<line x1="889.21" y1="295.50" x2="889.16" y2="307.50" stroke="#095f9d" stroke-width="1.0"/>
<line x1="896.53" y1="295.50" x2="896.48" y2="307.50" stroke="#095f9d" stroke-width="1.0"/>
<line x1="903.86" y1="295.50" x2="903.81" y2="307.50" stroke="#095f9d" stroke-width="1.0"/>
<line x1="493.85" y1="295.24" x2="493.79" y2="307.24" stroke="#064c82" stroke-width="1.0"/>
<line x1="911.18" y1="295.50" x2="911.13" y2="307.50" stroke="#064c82" stroke-width="1.0"/>
<polyline fill="none" points="493.85,295.24 540.22,295.30 586.59,295.35 632.96,295.39 679.33,295.42 725.70,295.45 772.07,295.47 818.44,295.49 864.81,295.49 911.18,295.50" stroke="#064c82" stroke-width="1.0"/>
<polyline fill="none" points="493.79,307.24 540.16,307.30 586.53,307.35 632.90,307.39 679.27,307.42 725.64,307.45 772.01,307.47 818.39,307.49 864.76,307.49 911.13,307.50" stroke="#064c82" stroke-width="1.0"/>
<polygon points="669.51,307.42 714.66,307.44 759.81,307.47 804.96,307.48 850.11,307.49 895.26,307.50 940.42,307.50 940.37,319.00 895.22,319.00 850.06,318.99 804.91,318.98 759.76,318.97 714.61,318.94 669.46,318.92" fill="#1482c4"/>
<line x1="676.83" y1="307.42" x2="676.78" y2="318.92" stroke="#095f9d" stroke-width="1.0"/>
<line x1="684.15" y1="307.43" x2="684.10" y2="318.93" stroke="#095f9d" stroke-width="1.0"/>
<line x1="691.47" y1="307.43" x2="691.42" y2="318.93" stroke="#095f9d" stroke-width="1.0"/>
<line x1="698.80" y1="307.44" x2="698.74" y2="318.94" stroke="#095f9d" stroke-width="1.0"/>
<line x1="706.12" y1="307.44" x2="706.07" y2="318.94" stroke="#095f9d" stroke-width="1.0"/>
<line x1="713.44" y1="307.44" x2="713.39" y2="318.94" stroke="#095f9d" stroke-width="1.0"/>
<line x1="720.76" y1="307.45" x2="720.71" y2="318.95" stroke="#095f9d" stroke-width="1.0"/>
<line x1="728.08" y1="307.45" x2="728.03" y2="318.95" stroke="#095f9d" stroke-width="1.0"/>
<line x1="735.40" y1="307.46" x2="735.35" y2="318.96" stroke="#095f9d" stroke-width="1.0"/>
<line x1="742.73" y1="307.46" x2="742.68" y2="318.96" stroke="#095f9d" stroke-width="1.0"/>
<line x1="750.05" y1="307.46" x2="750.00" y2="318.96" stroke="#095f9d" stroke-width="1.0"/>
<line x1="757.37" y1="307.47" x2="757.32" y2="318.97" stroke="#095f9d" stroke-width="1.0"/>
<line x1="764.69" y1="307.47" x2="764.64" y2="318.97" stroke="#095f9d" stroke-width="1.0"/>
<line x1="772.01" y1="307.47" x2="771.96" y2="318.97" stroke="#095f9d" stroke-width="1.0"/>
<line x1="779.34" y1="307.47" x2="779.29" y2="318.97" stroke="#095f9d" stroke-width="1.0"/>
<line x1="786.66" y1="307.48" x2="786.61" y2="318.98" stroke="#095f9d" stroke-width="1.0"/>
<line x1="793.98" y1="307.48" x2="793.93" y2="318.98" stroke="#095f9d" stroke-width="1.0"/>
<line x1="801.30" y1="307.48" x2="801.25" y2="318.98" stroke="#095f9d" stroke-width="1.0"/>
<line x1="808.62" y1="307.48" x2="808.57" y2="318.98" stroke="#095f9d" stroke-width="1.0"/>
<line x1="815.94" y1="307.48" x2="815.90" y2="318.98" stroke="#095f9d" stroke-width="1.0"/>
<line x1="823.27" y1="307.49" x2="823.22" y2="318.99" stroke="#095f9d" stroke-width="1.0"/>
<line x1="830.59" y1="307.49" x2="830.54" y2="318.99" stroke="#095f9d" stroke-width="1.0"/>
<line x1="837.91" y1="307.49" x2="837.86" y2="318.99" stroke="#095f9d" stroke-width="1.0"/>
<line x1="845.23" y1="307.49" x2="845.18" y2="318.99" stroke="#095f9d" stroke-width="1.0"/>
<line x1="852.55" y1="307.49" x2="852.51" y2="318.99" stroke="#095f9d" stroke-width="1.0"/>
<line x1="859.88" y1="307.49" x2="859.83" y2="318.99" stroke="#095f9d" stroke-width="1.0"/>
<line x1="867.20" y1="307.49" x2="867.15" y2="318.99" stroke="#095f9d" stroke-width="1.0"/>
<line x1="874.52" y1="307.50" x2="874.47" y2="319.00" stroke="#095f9d" stroke-width="1.0"/>
<line x1="881.84" y1="307.50" x2="881.79" y2="319.00" stroke="#095f9d" stroke-width="1.0"/>
<line x1="889.16" y1="307.50" x2="889.11" y2="319.00" stroke="#095f9d" stroke-width="1.0"/>
<line x1="896.48" y1="307.50" x2="896.44" y2="319.00" stroke="#095f9d" stroke-width="1.0"/>
<line x1="903.81" y1="307.50" x2="903.76" y2="319.00" stroke="#095f9d" stroke-width="1.0"/>
<line x1="911.13" y1="307.50" x2="911.08" y2="319.00" stroke="#095f9d" stroke-width="1.0"/>
<line x1="918.45" y1="307.50" x2="918.40" y2="319.00" stroke="#095f9d" stroke-width="1.0"/>
<line x1="925.77" y1="307.50" x2="925.72" y2="319.00" stroke="#095f9d" stroke-width="1.0"/>
<line x1="933.09" y1="307.50" x2="933.05" y2="319.00" stroke="#095f9d" stroke-width="1.0"/>
<line x1="669.51" y1="307.42" x2="669.46" y2="318.92" stroke="#064c82" stroke-width="1.0"/>
<line x1="940.42" y1="307.50" x2="940.37" y2="319.00" stroke="#064c82" stroke-width="1.0"/>
<polyline fill="none" points="669.51,307.42 714.66,307.44 759.81,307.47 804.96,307.48 850.11,307.49 895.26,307.50 940.42,307.50" stroke="#064c82" stroke-width="1.0"/>
<polyline fill="none" points="669.46,318.92 714.61,318.94 759.76,318.97 804.91,318.98 850.06,318.99 895.22,319.00 940.37,319.00" stroke="#064c82" stroke-width="1.0"/>
<polygon points="398.54,318.59 446.14,318.67 493.73,318.74 541.32,318.80 588.91,318.85 636.51,318.89 684.10,318.93 684.04,330.93 636.45,330.89 588.86,330.85 541.26,330.80 493.67,330.74 446.07,330.67 398.48,330.59" fill="#1482c4"/>
<line x1="405.86" y1="318.60" x2="405.80" y2="330.60" stroke="#095f9d" stroke-width="1.0"/>
<line x1="413.19" y1="318.61" x2="413.12" y2="330.61" stroke="#095f9d" stroke-width="1.0"/>
<line x1="420.51" y1="318.62" x2="420.45" y2="330.62" stroke="#095f9d" stroke-width="1.0"/>
<line x1="427.83" y1="318.64" x2="427.77" y2="330.64" stroke="#095f9d" stroke-width="1.0"/>
<line x1="435.15" y1="318.65" x2="435.09" y2="330.65" stroke="#095f9d" stroke-width="1.0"/>
<line x1="442.47" y1="318.66" x2="442.41" y2="330.66" stroke="#095f9d" stroke-width="1.0"/>
<line x1="449.80" y1="318.67" x2="449.73" y2="330.67" stroke="#095f9d" stroke-width="1.0"/>
<line x1="457.12" y1="318.68" x2="457.06" y2="330.68" stroke="#095f9d" stroke-width="1.0"/>
<line x1="464.44" y1="318.69" x2="464.38" y2="330.69" stroke="#095f9d" stroke-width="1.0"/>
<line x1="471.76" y1="318.71" x2="471.70" y2="330.71" stroke="#095f9d" stroke-width="1.0"/>
<line x1="479.08" y1="318.72" x2="479.02" y2="330.72" stroke="#095f9d" stroke-width="1.0"/>
<line x1="486.41" y1="318.73" x2="486.35" y2="330.73" stroke="#095f9d" stroke-width="1.0"/>
<line x1="493.73" y1="318.74" x2="493.67" y2="330.74" stroke="#095f9d" stroke-width="1.0"/>
<line x1="501.05" y1="318.75" x2="500.99" y2="330.75" stroke="#095f9d" stroke-width="1.0"/>
<line x1="508.37" y1="318.76" x2="508.31" y2="330.76" stroke="#095f9d" stroke-width="1.0"/>
<line x1="515.69" y1="318.77" x2="515.63" y2="330.77" stroke="#095f9d" stroke-width="1.0"/>
<line x1="523.02" y1="318.78" x2="522.96" y2="330.78" stroke="#095f9d" stroke-width="1.0"/>
<line x1="530.34" y1="318.78" x2="530.28" y2="330.78" stroke="#095f9d" stroke-width="1.0"/>
<line x1="537.66" y1="318.79" x2="537.60" y2="330.79" stroke="#095f9d" stroke-width="1.0"/>
<line x1="544.98" y1="318.80" x2="544.92" y2="330.80" stroke="#095f9d" stroke-width="1.0"/>
<line x1="552.30" y1="318.81" x2="552.25" y2="330.81" stroke="#095f9d" stroke-width="1.0"/>
<line x1="559.63" y1="318.82" x2="559.57" y2="330.82" stroke="#095f9d" stroke-width="1.0"/>
<line x1="566.95" y1="318.83" x2="566.89" y2="330.83" stroke="#095f9d" stroke-width="1.0"/>
<line x1="574.27" y1="318.83" x2="574.21" y2="330.83" stroke="#095f9d" stroke-width="1.0"/>
<line x1="581.59" y1="318.84" x2="581.53" y2="330.84" stroke="#095f9d" stroke-width="1.0"/>
<line x1="588.91" y1="318.85" x2="588.86" y2="330.85" stroke="#095f9d" stroke-width="1.0"/>
<line x1="596.24" y1="318.86" x2="596.18" y2="330.86" stroke="#095f9d" stroke-width="1.0"/>
<line x1="603.56" y1="318.86" x2="603.50" y2="330.86" stroke="#095f9d" stroke-width="1.0"/>
<line x1="610.88" y1="318.87" x2="610.82" y2="330.87" stroke="#095f9d" stroke-width="1.0"/>
<line x1="618.20" y1="318.88" x2="618.14" y2="330.88" stroke="#095f9d" stroke-width="1.0"/>
<line x1="625.52" y1="318.88" x2="625.47" y2="330.88" stroke="#095f9d" stroke-width="1.0"/>
<line x1="632.85" y1="318.89" x2="632.79" y2="330.89" stroke="#095f9d" stroke-width="1.0"/>
<line x1="640.17" y1="318.90" x2="640.11" y2="330.90" stroke="#095f9d" stroke-width="1.0"/>
<line x1="647.49" y1="318.90" x2="647.43" y2="330.90" stroke="#095f9d" stroke-width="1.0"/>
<line x1="654.81" y1="318.91" x2="654.76" y2="330.91" stroke="#095f9d" stroke-width="1.0"/>
<line x1="662.13" y1="318.91" x2="662.08" y2="330.91" stroke="#095f9d" stroke-width="1.0"/>
<line x1="669.46" y1="318.92" x2="669.40" y2="330.92" stroke="#095f9d" stroke-width="1.0"/>
<line x1="676.78" y1="318.92" x2="676.72" y2="330.92" stroke="#095f9d" stroke-width="1.0"/>
<line x1="398.54" y1="318.59" x2="398.48" y2="330.59" stroke="#064c82" stroke-width="1.0"/>
<line x1="684.10" y1="318.93" x2="684.04" y2="330.93" stroke="#064c82" stroke-width="1.0"/>
<polyline fill="none" points="398.54,318.59 446.14,318.67 493.73,318.74 541.32,318.80 588.91,318.85 636.51,318.89 684.10,318.93" stroke="#064c82" stroke-width="1.0"/>
<polyline fill="none" points="398.48,330.59 446.07,330.67 493.67,330.74 541.26,330.80 588.86,330.85 636.45,330.89 684.04,330.93" stroke="#064c82" stroke-width="1.0"/>
<polygon points="339.90,330.47 388.72,330.57 437.53,330.65 486.35,330.73 535.16,330.79 583.97,330.84 632.79,330.89 632.73,342.69 583.92,342.64 535.10,342.59 486.29,342.53 437.47,342.45 388.66,342.37 339.84,342.27" fill="#1482c4"/>
<line x1="347.22" y1="330.49" x2="347.16" y2="342.29" stroke="#095f9d" stroke-width="1.0"/>
<line x1="354.55" y1="330.50" x2="354.48" y2="342.30" stroke="#095f9d" stroke-width="1.0"/>
<line x1="361.87" y1="330.52" x2="361.81" y2="342.32" stroke="#095f9d" stroke-width="1.0"/>
<line x1="369.19" y1="330.53" x2="369.13" y2="342.33" stroke="#095f9d" stroke-width="1.0"/>
<line x1="376.51" y1="330.54" x2="376.45" y2="342.34" stroke="#095f9d" stroke-width="1.0"/>
<line x1="383.84" y1="330.56" x2="383.77" y2="342.36" stroke="#095f9d" stroke-width="1.0"/>
<line x1="391.16" y1="330.57" x2="391.10" y2="342.37" stroke="#095f9d" stroke-width="1.0"/>
<line x1="398.48" y1="330.59" x2="398.42" y2="342.39" stroke="#095f9d" stroke-width="1.0"/>
<line x1="405.80" y1="330.60" x2="405.74" y2="342.40" stroke="#095f9d" stroke-width="1.0"/>
<line x1="413.12" y1="330.61" x2="413.06" y2="342.41" stroke="#095f9d" stroke-width="1.0"/>
<line x1="420.45" y1="330.62" x2="420.39" y2="342.42" stroke="#095f9d" stroke-width="1.0"/>
<line x1="427.77" y1="330.64" x2="427.71" y2="342.44" stroke="#095f9d" stroke-width="1.0"/>
<line x1="435.09" y1="330.65" x2="435.03" y2="342.45" stroke="#095f9d" stroke-width="1.0"/>
<line x1="442.41" y1="330.66" x2="442.35" y2="342.46" stroke="#095f9d" stroke-width="1.0"/>
<line x1="449.73" y1="330.67" x2="449.67" y2="342.47" stroke="#095f9d" stroke-width="1.0"/>
<line x1="457.06" y1="330.68" x2="457.00" y2="342.48" stroke="#095f9d" stroke-width="1.0"/>
<line x1="464.38" y1="330.69" x2="464.32" y2="342.49" stroke="#095f9d" stroke-width="1.0"/>
<line x1="471.70" y1="330.71" x2="471.64" y2="342.51" stroke="#095f9d" stroke-width="1.0"/>
<line x1="479.02" y1="330.72" x2="478.96" y2="342.52" stroke="#095f9d" stroke-width="1.0"/>
<line x1="486.35" y1="330.73" x2="486.29" y2="342.53" stroke="#095f9d" stroke-width="1.0"/>
<line x1="493.67" y1="330.74" x2="493.61" y2="342.54" stroke="#095f9d" stroke-width="1.0"/>
<line x1="500.99" y1="330.75" x2="500.93" y2="342.55" stroke="#095f9d" stroke-width="1.0"/>
<line x1="508.31" y1="330.76" x2="508.25" y2="342.56" stroke="#095f9d" stroke-width="1.0"/>
<line x1="515.63" y1="330.77" x2="515.58" y2="342.57" stroke="#095f9d" stroke-width="1.0"/>
<line x1="522.96" y1="330.78" x2="522.90" y2="342.58" stroke="#095f9d" stroke-width="1.0"/>
<line x1="530.28" y1="330.78" x2="530.22" y2="342.58" stroke="#095f9d" stroke-width="1.0"/>
<line x1="537.60" y1="330.79" x2="537.54" y2="342.59" stroke="#095f9d" stroke-width="1.0"/>
<line x1="544.92" y1="330.80" x2="544.87" y2="342.60" stroke="#095f9d" stroke-width="1.0"/>
<line x1="552.25" y1="330.81" x2="552.19" y2="342.61" stroke="#095f9d" stroke-width="1.0"/>
<line x1="559.57" y1="330.82" x2="559.51" y2="342.62" stroke="#095f9d" stroke-width="1.0"/>
<line x1="566.89" y1="330.83" x2="566.83" y2="342.63" stroke="#095f9d" stroke-width="1.0"/>
<line x1="574.21" y1="330.83" x2="574.15" y2="342.63" stroke="#095f9d" stroke-width="1.0"/>
<line x1="581.53" y1="330.84" x2="581.48" y2="342.64" stroke="#095f9d" stroke-width="1.0"/>
<line x1="588.86" y1="330.85" x2="588.80" y2="342.65" stroke="#095f9d" stroke-width="1.0"/>
<line x1="596.18" y1="330.86" x2="596.12" y2="342.66" stroke="#095f9d" stroke-width="1.0"/>
<line x1="603.50" y1="330.86" x2="603.44" y2="342.66" stroke="#095f9d" stroke-width="1.0"/>
<line x1="610.82" y1="330.87" x2="610.77" y2="342.67" stroke="#095f9d" stroke-width="1.0"/>
<line x1="618.14" y1="330.88" x2="618.09" y2="342.68" stroke="#095f9d" stroke-width="1.0"/>
<line x1="625.47" y1="330.88" x2="625.41" y2="342.68" stroke="#095f9d" stroke-width="1.0"/>
<line x1="339.90" y1="330.47" x2="339.84" y2="342.27" stroke="#064c82" stroke-width="1.0"/>
<line x1="632.79" y1="330.89" x2="632.73" y2="342.69" stroke="#064c82" stroke-width="1.0"/>
<polyline fill="none" points="339.90,330.47 388.72,330.57 437.53,330.65 486.35,330.73 535.16,330.79 583.97,330.84 632.79,330.89" stroke="#064c82" stroke-width="1.0"/>
<polyline fill="none" points="339.84,342.27 388.66,342.37 437.47,342.45 486.29,342.53 535.10,342.59 583.92,342.64 632.73,342.69" stroke="#064c82" stroke-width="1.0"/>
<polygon points="317.87,342.22 363.64,342.32 409.40,342.40 455.17,342.48 500.93,342.55 500.88,353.05 455.11,352.98 409.35,352.90 363.58,352.82 317.82,352.72" fill="#1482c4"/>
<line x1="325.20" y1="342.24" x2="325.14" y2="352.74" stroke="#095f9d" stroke-width="1.0"/>
<line x1="332.52" y1="342.25" x2="332.46" y2="352.75" stroke="#095f9d" stroke-width="1.0"/>
<line x1="339.84" y1="342.27" x2="339.78" y2="352.77" stroke="#095f9d" stroke-width="1.0"/>
<line x1="347.16" y1="342.29" x2="347.11" y2="352.79" stroke="#095f9d" stroke-width="1.0"/>
<line x1="354.48" y1="342.30" x2="354.43" y2="352.80" stroke="#095f9d" stroke-width="1.0"/>
<line x1="361.81" y1="342.32" x2="361.75" y2="352.82" stroke="#095f9d" stroke-width="1.0"/>
<line x1="369.13" y1="342.33" x2="369.07" y2="352.83" stroke="#095f9d" stroke-width="1.0"/>
<line x1="376.45" y1="342.34" x2="376.40" y2="352.84" stroke="#095f9d" stroke-width="1.0"/>
<line x1="383.77" y1="342.36" x2="383.72" y2="352.86" stroke="#095f9d" stroke-width="1.0"/>
<line x1="391.10" y1="342.37" x2="391.04" y2="352.87" stroke="#095f9d" stroke-width="1.0"/>
<line x1="398.42" y1="342.39" x2="398.36" y2="352.89" stroke="#095f9d" stroke-width="1.0"/>
<line x1="405.74" y1="342.40" x2="405.69" y2="352.90" stroke="#095f9d" stroke-width="1.0"/>
<line x1="413.06" y1="342.41" x2="413.01" y2="352.91" stroke="#095f9d" stroke-width="1.0"/>
<line x1="420.39" y1="342.42" x2="420.33" y2="352.92" stroke="#095f9d" stroke-width="1.0"/>
<line x1="427.71" y1="342.44" x2="427.65" y2="352.94" stroke="#095f9d" stroke-width="1.0"/>
<line x1="435.03" y1="342.45" x2="434.98" y2="352.95" stroke="#095f9d" stroke-width="1.0"/>
<line x1="442.35" y1="342.46" x2="442.30" y2="352.96" stroke="#095f9d" stroke-width="1.0"/>
<line x1="449.67" y1="342.47" x2="449.62" y2="352.97" stroke="#095f9d" stroke-width="1.0"/>
<line x1="457.00" y1="342.48" x2="456.94" y2="352.98" stroke="#095f9d" stroke-width="1.0"/>
<line x1="464.32" y1="342.49" x2="464.27" y2="352.99" stroke="#095f9d" stroke-width="1.0"/>
<line x1="471.64" y1="342.51" x2="471.59" y2="353.01" stroke="#095f9d" stroke-width="1.0"/>
<line x1="478.96" y1="342.52" x2="478.91" y2="353.02" stroke="#095f9d" stroke-width="1.0"/>
<line x1="486.29" y1="342.53" x2="486.23" y2="353.03" stroke="#095f9d" stroke-width="1.0"/>
<line x1="493.61" y1="342.54" x2="493.56" y2="353.04" stroke="#095f9d" stroke-width="1.0"/>
<line x1="317.87" y1="342.22" x2="317.82" y2="352.72" stroke="#064c82" stroke-width="1.0"/>
<line x1="500.93" y1="342.55" x2="500.88" y2="353.05" stroke="#064c82" stroke-width="1.0"/>
<polyline fill="none" points="317.87,342.22 363.64,342.32 409.40,342.40 455.17,342.48 500.93,342.55" stroke="#064c82" stroke-width="1.0"/>
<polyline fill="none" points="317.82,352.72 363.58,352.82 409.35,352.90 455.11,352.98 500.88,353.05" stroke="#064c82" stroke-width="1.0"/>
<polygon points="405.69,352.90 449.62,352.97 493.56,353.04 537.49,353.09 581.43,353.14 625.36,353.18 669.30,353.22 713.23,353.24 713.14,372.64 669.21,372.62 625.27,372.58 581.33,372.54 537.40,372.49 493.46,372.44 449.52,372.37 405.59,372.30" fill="#1482c4"/>
<line x1="413.01" y1="352.91" x2="412.91" y2="372.31" stroke="#095f9d" stroke-width="1.0"/>
<line x1="420.33" y1="352.92" x2="420.23" y2="372.32" stroke="#095f9d" stroke-width="1.0"/>
<line x1="427.65" y1="352.94" x2="427.55" y2="372.34" stroke="#095f9d" stroke-width="1.0"/>
<line x1="434.98" y1="352.95" x2="434.88" y2="372.35" stroke="#095f9d" stroke-width="1.0"/>
<line x1="442.30" y1="352.96" x2="442.20" y2="372.36" stroke="#095f9d" stroke-width="1.0"/>
<line x1="449.62" y1="352.97" x2="449.52" y2="372.37" stroke="#095f9d" stroke-width="1.0"/>
<line x1="456.94" y1="352.98" x2="456.85" y2="372.38" stroke="#095f9d" stroke-width="1.0"/>
<line x1="464.27" y1="352.99" x2="464.17" y2="372.39" stroke="#095f9d" stroke-width="1.0"/>
<line x1="471.59" y1="353.01" x2="471.49" y2="372.41" stroke="#095f9d" stroke-width="1.0"/>
<line x1="478.91" y1="353.02" x2="478.81" y2="372.42" stroke="#095f9d" stroke-width="1.0"/>
<line x1="486.23" y1="353.03" x2="486.14" y2="372.43" stroke="#095f9d" stroke-width="1.0"/>
<line x1="493.56" y1="353.04" x2="493.46" y2="372.44" stroke="#095f9d" stroke-width="1.0"/>
<line x1="500.88" y1="353.05" x2="500.78" y2="372.45" stroke="#095f9d" stroke-width="1.0"/>
<line x1="508.20" y1="353.06" x2="508.11" y2="372.46" stroke="#095f9d" stroke-width="1.0"/>
<line x1="515.52" y1="353.07" x2="515.43" y2="372.47" stroke="#095f9d" stroke-width="1.0"/>
<line x1="522.85" y1="353.08" x2="522.75" y2="372.48" stroke="#095f9d" stroke-width="1.0"/>
<line x1="530.17" y1="353.08" x2="530.07" y2="372.48" stroke="#095f9d" stroke-width="1.0"/>
<line x1="537.49" y1="353.09" x2="537.40" y2="372.49" stroke="#095f9d" stroke-width="1.0"/>
<line x1="544.81" y1="353.10" x2="544.72" y2="372.50" stroke="#095f9d" stroke-width="1.0"/>
<line x1="552.14" y1="353.11" x2="552.04" y2="372.51" stroke="#095f9d" stroke-width="1.0"/>
<line x1="559.46" y1="353.12" x2="559.36" y2="372.52" stroke="#095f9d" stroke-width="1.0"/>
<line x1="566.78" y1="353.13" x2="566.69" y2="372.53" stroke="#095f9d" stroke-width="1.0"/>
<line x1="574.10" y1="353.13" x2="574.01" y2="372.53" stroke="#095f9d" stroke-width="1.0"/>
<line x1="581.43" y1="353.14" x2="581.33" y2="372.54" stroke="#095f9d" stroke-width="1.0"/>
<line x1="588.75" y1="353.15" x2="588.66" y2="372.55" stroke="#095f9d" stroke-width="1.0"/>
<line x1="596.07" y1="353.16" x2="595.98" y2="372.56" stroke="#095f9d" stroke-width="1.0"/>
<line x1="603.39" y1="353.16" x2="603.30" y2="372.56" stroke="#095f9d" stroke-width="1.0"/>
<line x1="610.72" y1="353.17" x2="610.62" y2="372.57" stroke="#095f9d" stroke-width="1.0"/>
<line x1="618.04" y1="353.18" x2="617.95" y2="372.58" stroke="#095f9d" stroke-width="1.0"/>
<line x1="625.36" y1="353.18" x2="625.27" y2="372.58" stroke="#095f9d" stroke-width="1.0"/>
<line x1="632.68" y1="353.19" x2="632.59" y2="372.59" stroke="#095f9d" stroke-width="1.0"/>
<line x1="640.01" y1="353.20" x2="639.92" y2="372.60" stroke="#095f9d" stroke-width="1.0"/>
<line x1="647.33" y1="353.20" x2="647.24" y2="372.60" stroke="#095f9d" stroke-width="1.0"/>
<line x1="654.65" y1="353.21" x2="654.56" y2="372.61" stroke="#095f9d" stroke-width="1.0"/>
<line x1="661.97" y1="353.21" x2="661.88" y2="372.61" stroke="#095f9d" stroke-width="1.0"/>
<line x1="669.30" y1="353.22" x2="669.21" y2="372.62" stroke="#095f9d" stroke-width="1.0"/>
<line x1="676.62" y1="353.22" x2="676.53" y2="372.62" stroke="#095f9d" stroke-width="1.0"/>
<line x1="683.94" y1="353.23" x2="683.85" y2="372.63" stroke="#095f9d" stroke-width="1.0"/>
<line x1="691.26" y1="353.23" x2="691.18" y2="372.63" stroke="#095f9d" stroke-width="1.0"/>
<line x1="698.59" y1="353.24" x2="698.50" y2="372.64" stroke="#095f9d" stroke-width="1.0"/>
<line x1="705.91" y1="353.24" x2="705.82" y2="372.64" stroke="#095f9d" stroke-width="1.0"/>
<line x1="405.69" y1="352.90" x2="405.59" y2="372.30" stroke="#064c82" stroke-width="1.0"/>
<line x1="713.23" y1="353.24" x2="713.14" y2="372.64" stroke="#064c82" stroke-width="1.0"/>
<polyline fill="none" points="405.69,352.90 449.62,352.97 493.56,353.04 537.49,353.09 581.43,353.14 625.36,353.18 669.30,353.22 713.23,353.24" stroke="#064c82" stroke-width="1.0"/>
<polyline fill="none" points="405.59,372.30 449.52,372.37 493.46,372.44 537.40,372.49 581.33,372.54 625.27,372.58 669.21,372.62 713.14,372.64" stroke="#064c82" stroke-width="1.0"/>
<polygon points="515.43,372.47 556.44,372.52 597.44,372.56 638.45,372.59 679.46,372.62 720.47,372.65 720.41,384.95 679.40,384.92 638.39,384.89 597.38,384.86 556.38,384.82 515.37,384.77" fill="#1482c4"/>
<line x1="522.75" y1="372.48" x2="522.69" y2="384.78" stroke="#095f9d" stroke-width="1.0"/>
<line x1="530.07" y1="372.48" x2="530.01" y2="384.78" stroke="#095f9d" stroke-width="1.0"/>
<line x1="537.40" y1="372.49" x2="537.34" y2="384.79" stroke="#095f9d" stroke-width="1.0"/>
<line x1="544.72" y1="372.50" x2="544.66" y2="384.80" stroke="#095f9d" stroke-width="1.0"/>
<line x1="552.04" y1="372.51" x2="551.98" y2="384.81" stroke="#095f9d" stroke-width="1.0"/>
<line x1="559.36" y1="372.52" x2="559.31" y2="384.82" stroke="#095f9d" stroke-width="1.0"/>
<line x1="566.69" y1="372.53" x2="566.63" y2="384.83" stroke="#095f9d" stroke-width="1.0"/>
<line x1="574.01" y1="372.53" x2="573.95" y2="384.83" stroke="#095f9d" stroke-width="1.0"/>
<line x1="581.33" y1="372.54" x2="581.27" y2="384.84" stroke="#095f9d" stroke-width="1.0"/>
<line x1="588.66" y1="372.55" x2="588.60" y2="384.85" stroke="#095f9d" stroke-width="1.0"/>
<line x1="595.98" y1="372.56" x2="595.92" y2="384.86" stroke="#095f9d" stroke-width="1.0"/>
<line x1="603.30" y1="372.56" x2="603.24" y2="384.86" stroke="#095f9d" stroke-width="1.0"/>
<line x1="610.62" y1="372.57" x2="610.57" y2="384.87" stroke="#095f9d" stroke-width="1.0"/>
<line x1="617.95" y1="372.58" x2="617.89" y2="384.88" stroke="#095f9d" stroke-width="1.0"/>
<line x1="625.27" y1="372.58" x2="625.21" y2="384.88" stroke="#095f9d" stroke-width="1.0"/>
<line x1="632.59" y1="372.59" x2="632.54" y2="384.89" stroke="#095f9d" stroke-width="1.0"/>
<line x1="639.92" y1="372.60" x2="639.86" y2="384.90" stroke="#095f9d" stroke-width="1.0"/>
<line x1="647.24" y1="372.60" x2="647.18" y2="384.90" stroke="#095f9d" stroke-width="1.0"/>
<line x1="654.56" y1="372.61" x2="654.50" y2="384.91" stroke="#095f9d" stroke-width="1.0"/>
<line x1="661.88" y1="372.61" x2="661.83" y2="384.91" stroke="#095f9d" stroke-width="1.0"/>
<line x1="669.21" y1="372.62" x2="669.15" y2="384.92" stroke="#095f9d" stroke-width="1.0"/>
<line x1="676.53" y1="372.62" x2="676.47" y2="384.92" stroke="#095f9d" stroke-width="1.0"/>
<line x1="683.85" y1="372.63" x2="683.80" y2="384.93" stroke="#095f9d" stroke-width="1.0"/>
<line x1="691.18" y1="372.63" x2="691.12" y2="384.93" stroke="#095f9d" stroke-width="1.0"/>
<line x1="698.50" y1="372.64" x2="698.44" y2="384.94" stroke="#095f9d" stroke-width="1.0"/>
<line x1="705.82" y1="372.64" x2="705.76" y2="384.94" stroke="#095f9d" stroke-width="1.0"/>
<line x1="713.14" y1="372.64" x2="713.09" y2="384.94" stroke="#095f9d" stroke-width="1.0"/>
<line x1="515.43" y1="372.47" x2="515.37" y2="384.77" stroke="#064c82" stroke-width="1.0"/>
<line x1="720.47" y1="372.65" x2="720.41" y2="384.95" stroke="#064c82" stroke-width="1.0"/>
<polyline fill="none" points="515.43,372.47 556.44,372.52 597.44,372.56 638.45,372.59 679.46,372.62 720.47,372.65" stroke="#064c82" stroke-width="1.0"/>
<polyline fill="none" points="515.37,384.77 556.38,384.82 597.38,384.86 638.39,384.89 679.40,384.92 720.41,384.95" stroke="#064c82" stroke-width="1.0"/>
<polygon points="522.69,384.78 565.16,384.83 607.64,384.87 650.11,384.90 692.58,384.93 735.06,384.96 734.99,400.26 692.51,400.23 650.04,400.20 607.56,400.17 565.09,400.13 522.61,400.08" fill="#1482c4"/>
<line x1="530.01" y1="384.78" x2="529.94" y2="400.08" stroke="#095f9d" stroke-width="1.0"/>
<line x1="537.34" y1="384.79" x2="537.26" y2="400.09" stroke="#095f9d" stroke-width="1.0"/>
<line x1="544.66" y1="384.80" x2="544.58" y2="400.10" stroke="#095f9d" stroke-width="1.0"/>
<line x1="551.98" y1="384.81" x2="551.91" y2="400.11" stroke="#095f9d" stroke-width="1.0"/>
<line x1="559.31" y1="384.82" x2="559.23" y2="400.12" stroke="#095f9d" stroke-width="1.0"/>
<line x1="566.63" y1="384.83" x2="566.55" y2="400.13" stroke="#095f9d" stroke-width="1.0"/>
<line x1="573.95" y1="384.83" x2="573.88" y2="400.13" stroke="#095f9d" stroke-width="1.0"/>
<line x1="581.27" y1="384.84" x2="581.20" y2="400.14" stroke="#095f9d" stroke-width="1.0"/>
<line x1="588.60" y1="384.85" x2="588.52" y2="400.15" stroke="#095f9d" stroke-width="1.0"/>
<line x1="595.92" y1="384.86" x2="595.85" y2="400.16" stroke="#095f9d" stroke-width="1.0"/>
<line x1="603.24" y1="384.86" x2="603.17" y2="400.16" stroke="#095f9d" stroke-width="1.0"/>
<line x1="610.57" y1="384.87" x2="610.49" y2="400.17" stroke="#095f9d" stroke-width="1.0"/>
<line x1="617.89" y1="384.88" x2="617.82" y2="400.18" stroke="#095f9d" stroke-width="1.0"/>
<line x1="625.21" y1="384.88" x2="625.14" y2="400.18" stroke="#095f9d" stroke-width="1.0"/>
<line x1="632.54" y1="384.89" x2="632.46" y2="400.19" stroke="#095f9d" stroke-width="1.0"/>
<line x1="639.86" y1="384.90" x2="639.79" y2="400.20" stroke="#095f9d" stroke-width="1.0"/>
<line x1="647.18" y1="384.90" x2="647.11" y2="400.20" stroke="#095f9d" stroke-width="1.0"/>
<line x1="654.50" y1="384.91" x2="654.43" y2="400.21" stroke="#095f9d" stroke-width="1.0"/>
<line x1="661.83" y1="384.91" x2="661.76" y2="400.21" stroke="#095f9d" stroke-width="1.0"/>
<line x1="669.15" y1="384.92" x2="669.08" y2="400.22" stroke="#095f9d" stroke-width="1.0"/>
<line x1="676.47" y1="384.92" x2="676.40" y2="400.22" stroke="#095f9d" stroke-width="1.0"/>
<line x1="683.80" y1="384.93" x2="683.73" y2="400.23" stroke="#095f9d" stroke-width="1.0"/>
<line x1="691.12" y1="384.93" x2="691.05" y2="400.23" stroke="#095f9d" stroke-width="1.0"/>
<line x1="698.44" y1="384.94" x2="698.37" y2="400.24" stroke="#095f9d" stroke-width="1.0"/>
<line x1="705.76" y1="384.94" x2="705.70" y2="400.24" stroke="#095f9d" stroke-width="1.0"/>
<line x1="713.09" y1="384.94" x2="713.02" y2="400.24" stroke="#095f9d" stroke-width="1.0"/>
<line x1="720.41" y1="384.95" x2="720.34" y2="400.25" stroke="#095f9d" stroke-width="1.0"/>
<line x1="727.73" y1="384.95" x2="727.67" y2="400.25" stroke="#095f9d" stroke-width="1.0"/>
<line x1="522.69" y1="384.78" x2="522.61" y2="400.08" stroke="#064c82" stroke-width="1.0"/>
<line x1="735.06" y1="384.96" x2="734.99" y2="400.26" stroke="#064c82" stroke-width="1.0"/>
<polyline fill="none" points="522.69,384.78 565.16,384.83 607.64,384.87 650.11,384.90 692.58,384.93 735.06,384.96" stroke="#064c82" stroke-width="1.0"/>
<polyline fill="none" points="522.61,400.08 565.09,400.13 607.56,400.17 650.04,400.20 692.51,400.23 734.99,400.26" stroke="#064c82" stroke-width="1.0"/>
<polygon points="339.53,399.77 385.91,399.86 432.29,399.94 478.68,400.02 525.06,400.08 571.44,400.13 617.82,400.18 617.76,412.88 571.37,412.83 524.99,412.78 478.61,412.72 432.23,412.64 385.85,412.56 339.47,412.47" fill="#1482c4"/>
<line x1="346.86" y1="399.79" x2="346.79" y2="412.49" stroke="#095f9d" stroke-width="1.0"/>
<line x1="354.18" y1="399.80" x2="354.11" y2="412.50" stroke="#095f9d" stroke-width="1.0"/>
<line x1="361.50" y1="399.82" x2="361.44" y2="412.52" stroke="#095f9d" stroke-width="1.0"/>
<line x1="368.83" y1="399.83" x2="368.76" y2="412.53" stroke="#095f9d" stroke-width="1.0"/>
<line x1="376.15" y1="399.84" x2="376.08" y2="412.54" stroke="#095f9d" stroke-width="1.0"/>
<line x1="383.47" y1="399.86" x2="383.41" y2="412.56" stroke="#095f9d" stroke-width="1.0"/>
<line x1="390.80" y1="399.87" x2="390.73" y2="412.57" stroke="#095f9d" stroke-width="1.0"/>
<line x1="398.12" y1="399.89" x2="398.05" y2="412.59" stroke="#095f9d" stroke-width="1.0"/>
<line x1="405.44" y1="399.90" x2="405.38" y2="412.60" stroke="#095f9d" stroke-width="1.0"/>
<line x1="412.77" y1="399.91" x2="412.70" y2="412.61" stroke="#095f9d" stroke-width="1.0"/>
<line x1="420.09" y1="399.92" x2="420.02" y2="412.62" stroke="#095f9d" stroke-width="1.0"/>
<line x1="427.41" y1="399.94" x2="427.35" y2="412.64" stroke="#095f9d" stroke-width="1.0"/>
<line x1="434.74" y1="399.95" x2="434.67" y2="412.65" stroke="#095f9d" stroke-width="1.0"/>
<line x1="442.06" y1="399.96" x2="441.99" y2="412.66" stroke="#095f9d" stroke-width="1.0"/>
<line x1="449.38" y1="399.97" x2="449.32" y2="412.67" stroke="#095f9d" stroke-width="1.0"/>
<line x1="456.71" y1="399.98" x2="456.64" y2="412.68" stroke="#095f9d" stroke-width="1.0"/>
<line x1="464.03" y1="399.99" x2="463.96" y2="412.69" stroke="#095f9d" stroke-width="1.0"/>
<line x1="471.35" y1="400.01" x2="471.29" y2="412.71" stroke="#095f9d" stroke-width="1.0"/>
<line x1="478.68" y1="400.02" x2="478.61" y2="412.72" stroke="#095f9d" stroke-width="1.0"/>
<line x1="486.00" y1="400.03" x2="485.93" y2="412.73" stroke="#095f9d" stroke-width="1.0"/>
<line x1="493.32" y1="400.04" x2="493.26" y2="412.74" stroke="#095f9d" stroke-width="1.0"/>
<line x1="500.64" y1="400.05" x2="500.58" y2="412.75" stroke="#095f9d" stroke-width="1.0"/>
<line x1="507.97" y1="400.06" x2="507.91" y2="412.76" stroke="#095f9d" stroke-width="1.0"/>
<line x1="515.29" y1="400.07" x2="515.23" y2="412.77" stroke="#095f9d" stroke-width="1.0"/>
<line x1="522.61" y1="400.08" x2="522.55" y2="412.78" stroke="#095f9d" stroke-width="1.0"/>
<line x1="529.94" y1="400.08" x2="529.88" y2="412.78" stroke="#095f9d" stroke-width="1.0"/>
<line x1="537.26" y1="400.09" x2="537.20" y2="412.79" stroke="#095f9d" stroke-width="1.0"/>
<line x1="544.58" y1="400.10" x2="544.52" y2="412.80" stroke="#095f9d" stroke-width="1.0"/>
<line x1="551.91" y1="400.11" x2="551.85" y2="412.81" stroke="#095f9d" stroke-width="1.0"/>
<line x1="559.23" y1="400.12" x2="559.17" y2="412.82" stroke="#095f9d" stroke-width="1.0"/>
<line x1="566.55" y1="400.13" x2="566.49" y2="412.83" stroke="#095f9d" stroke-width="1.0"/>
<line x1="573.88" y1="400.13" x2="573.82" y2="412.83" stroke="#095f9d" stroke-width="1.0"/>
<line x1="581.20" y1="400.14" x2="581.14" y2="412.84" stroke="#095f9d" stroke-width="1.0"/>
<line x1="588.52" y1="400.15" x2="588.46" y2="412.85" stroke="#095f9d" stroke-width="1.0"/>
<line x1="595.85" y1="400.16" x2="595.79" y2="412.86" stroke="#095f9d" stroke-width="1.0"/>
<line x1="603.17" y1="400.16" x2="603.11" y2="412.86" stroke="#095f9d" stroke-width="1.0"/>
<line x1="610.49" y1="400.17" x2="610.43" y2="412.87" stroke="#095f9d" stroke-width="1.0"/>
<line x1="339.53" y1="399.77" x2="339.47" y2="412.47" stroke="#064c82" stroke-width="1.0"/>
<line x1="617.82" y1="400.18" x2="617.76" y2="412.88" stroke="#064c82" stroke-width="1.0"/>
<polyline fill="none" points="339.53,399.77 385.91,399.86 432.29,399.94 478.68,400.02 525.06,400.08 571.44,400.13 617.82,400.18" stroke="#064c82" stroke-width="1.0"/>
<polyline fill="none" points="339.47,412.47 385.85,412.56 432.23,412.64 478.61,412.72 524.99,412.78 571.37,412.83 617.76,412.88" stroke="#064c82" stroke-width="1.0"/>
<polygon points="339.47,412.47 383.41,412.56 427.35,412.64 471.29,412.71 515.23,412.77 559.17,412.82 603.11,412.86 647.05,412.90 646.99,426.50 603.04,426.46 559.10,426.42 515.16,426.37 471.22,426.31 427.28,426.24 383.34,426.16 339.39,426.07" fill="#1482c4"/>
<line x1="346.79" y1="412.49" x2="346.72" y2="426.09" stroke="#095f9d" stroke-width="1.0"/>
<line x1="354.11" y1="412.50" x2="354.04" y2="426.10" stroke="#095f9d" stroke-width="1.0"/>
<line x1="361.44" y1="412.52" x2="361.36" y2="426.12" stroke="#095f9d" stroke-width="1.0"/>
<line x1="368.76" y1="412.53" x2="368.69" y2="426.13" stroke="#095f9d" stroke-width="1.0"/>
<line x1="376.08" y1="412.54" x2="376.01" y2="426.14" stroke="#095f9d" stroke-width="1.0"/>
<line x1="383.41" y1="412.56" x2="383.34" y2="426.16" stroke="#095f9d" stroke-width="1.0"/>
<line x1="390.73" y1="412.57" x2="390.66" y2="426.17" stroke="#095f9d" stroke-width="1.0"/>
<line x1="398.05" y1="412.59" x2="397.98" y2="426.19" stroke="#095f9d" stroke-width="1.0"/>
<line x1="405.38" y1="412.60" x2="405.31" y2="426.20" stroke="#095f9d" stroke-width="1.0"/>
<line x1="412.70" y1="412.61" x2="412.63" y2="426.21" stroke="#095f9d" stroke-width="1.0"/>
<line x1="420.02" y1="412.62" x2="419.95" y2="426.22" stroke="#095f9d" stroke-width="1.0"/>
<line x1="427.35" y1="412.64" x2="427.28" y2="426.24" stroke="#095f9d" stroke-width="1.0"/>
<line x1="434.67" y1="412.65" x2="434.60" y2="426.25" stroke="#095f9d" stroke-width="1.0"/>
<line x1="441.99" y1="412.66" x2="441.92" y2="426.26" stroke="#095f9d" stroke-width="1.0"/>
<line x1="449.32" y1="412.67" x2="449.25" y2="426.27" stroke="#095f9d" stroke-width="1.0"/>
<line x1="456.64" y1="412.68" x2="456.57" y2="426.28" stroke="#095f9d" stroke-width="1.0"/>
<line x1="463.96" y1="412.69" x2="463.90" y2="426.29" stroke="#095f9d" stroke-width="1.0"/>
<line x1="471.29" y1="412.71" x2="471.22" y2="426.31" stroke="#095f9d" stroke-width="1.0"/>
<line x1="478.61" y1="412.72" x2="478.54" y2="426.32" stroke="#095f9d" stroke-width="1.0"/>
<line x1="485.93" y1="412.73" x2="485.87" y2="426.33" stroke="#095f9d" stroke-width="1.0"/>
<line x1="493.26" y1="412.74" x2="493.19" y2="426.34" stroke="#095f9d" stroke-width="1.0"/>
<line x1="500.58" y1="412.75" x2="500.51" y2="426.35" stroke="#095f9d" stroke-width="1.0"/>
<line x1="507.91" y1="412.76" x2="507.84" y2="426.36" stroke="#095f9d" stroke-width="1.0"/>
<line x1="515.23" y1="412.77" x2="515.16" y2="426.37" stroke="#095f9d" stroke-width="1.0"/>
<line x1="522.55" y1="412.78" x2="522.48" y2="426.38" stroke="#095f9d" stroke-width="1.0"/>
<line x1="529.88" y1="412.78" x2="529.81" y2="426.38" stroke="#095f9d" stroke-width="1.0"/>
<line x1="537.20" y1="412.79" x2="537.13" y2="426.39" stroke="#095f9d" stroke-width="1.0"/>
<line x1="544.52" y1="412.80" x2="544.46" y2="426.40" stroke="#095f9d" stroke-width="1.0"/>
<line x1="551.85" y1="412.81" x2="551.78" y2="426.41" stroke="#095f9d" stroke-width="1.0"/>
<line x1="559.17" y1="412.82" x2="559.10" y2="426.42" stroke="#095f9d" stroke-width="1.0"/>
<line x1="566.49" y1="412.83" x2="566.43" y2="426.43" stroke="#095f9d" stroke-width="1.0"/>
<line x1="573.82" y1="412.83" x2="573.75" y2="426.43" stroke="#095f9d" stroke-width="1.0"/>
<line x1="581.14" y1="412.84" x2="581.07" y2="426.44" stroke="#095f9d" stroke-width="1.0"/>
<line x1="588.46" y1="412.85" x2="588.40" y2="426.45" stroke="#095f9d" stroke-width="1.0"/>
<line x1="595.79" y1="412.86" x2="595.72" y2="426.46" stroke="#095f9d" stroke-width="1.0"/>
<line x1="603.11" y1="412.86" x2="603.04" y2="426.46" stroke="#095f9d" stroke-width="1.0"/>
<line x1="610.43" y1="412.87" x2="610.37" y2="426.47" stroke="#095f9d" stroke-width="1.0"/>
<line x1="617.76" y1="412.88" x2="617.69" y2="426.48" stroke="#095f9d" stroke-width="1.0"/>
<line x1="625.08" y1="412.88" x2="625.02" y2="426.48" stroke="#095f9d" stroke-width="1.0"/>
<line x1="632.40" y1="412.89" x2="632.34" y2="426.49" stroke="#095f9d" stroke-width="1.0"/>
<line x1="639.73" y1="412.90" x2="639.66" y2="426.50" stroke="#095f9d" stroke-width="1.0"/>
<line x1="339.47" y1="412.47" x2="339.39" y2="426.07" stroke="#064c82" stroke-width="1.0"/>
<line x1="647.05" y1="412.90" x2="646.99" y2="426.50" stroke="#064c82" stroke-width="1.0"/>
<polyline fill="none" points="339.47,412.47 383.41,412.56 427.35,412.64 471.29,412.71 515.23,412.77 559.17,412.82 603.11,412.86 647.05,412.90" stroke="#064c82" stroke-width="1.0"/>
<polyline fill="none" points="339.39,426.07 383.34,426.16 427.28,426.24 471.22,426.31 515.16,426.37 559.10,426.42 603.04,426.46 646.99,426.50" stroke="#064c82" stroke-width="1.0"/>
<polygon points="529.81,426.38 576.19,426.44 622.57,426.48 668.96,426.52 668.90,439.22 622.51,439.18 576.13,439.14 529.75,439.08" fill="#1482c4"/>
<line x1="537.13" y1="426.39" x2="537.07" y2="439.09" stroke="#095f9d" stroke-width="1.0"/>
<line x1="544.46" y1="426.40" x2="544.39" y2="439.10" stroke="#095f9d" stroke-width="1.0"/>
<line x1="551.78" y1="426.41" x2="551.72" y2="439.11" stroke="#095f9d" stroke-width="1.0"/>
<line x1="559.10" y1="426.42" x2="559.04" y2="439.12" stroke="#095f9d" stroke-width="1.0"/>
<line x1="566.43" y1="426.43" x2="566.37" y2="439.13" stroke="#095f9d" stroke-width="1.0"/>
<line x1="573.75" y1="426.43" x2="573.69" y2="439.13" stroke="#095f9d" stroke-width="1.0"/>
<line x1="581.07" y1="426.44" x2="581.01" y2="439.14" stroke="#095f9d" stroke-width="1.0"/>
<line x1="588.40" y1="426.45" x2="588.34" y2="439.15" stroke="#095f9d" stroke-width="1.0"/>
<line x1="595.72" y1="426.46" x2="595.66" y2="439.16" stroke="#095f9d" stroke-width="1.0"/>
<line x1="603.04" y1="426.46" x2="602.98" y2="439.16" stroke="#095f9d" stroke-width="1.0"/>
<line x1="610.37" y1="426.47" x2="610.31" y2="439.17" stroke="#095f9d" stroke-width="1.0"/>
<line x1="617.69" y1="426.48" x2="617.63" y2="439.18" stroke="#095f9d" stroke-width="1.0"/>
<line x1="625.02" y1="426.48" x2="624.96" y2="439.18" stroke="#095f9d" stroke-width="1.0"/>
<line x1="632.34" y1="426.49" x2="632.28" y2="439.19" stroke="#095f9d" stroke-width="1.0"/>
<line x1="639.66" y1="426.50" x2="639.60" y2="439.20" stroke="#095f9d" stroke-width="1.0"/>
<line x1="646.99" y1="426.50" x2="646.93" y2="439.20" stroke="#095f9d" stroke-width="1.0"/>
<line x1="654.31" y1="426.51" x2="654.25" y2="439.21" stroke="#095f9d" stroke-width="1.0"/>
<line x1="661.63" y1="426.51" x2="661.57" y2="439.21" stroke="#095f9d" stroke-width="1.0"/>
<line x1="529.81" y1="426.38" x2="529.75" y2="439.08" stroke="#064c82" stroke-width="1.0"/>
<line x1="668.96" y1="426.52" x2="668.90" y2="439.22" stroke="#064c82" stroke-width="1.0"/>
<polyline fill="none" points="529.81,426.38 576.19,426.44 622.57,426.48 668.96,426.52" stroke="#064c82" stroke-width="1.0"/>
<polyline fill="none" points="529.75,439.08 576.13,439.14 622.51,439.18 668.90,439.22" stroke="#064c82" stroke-width="1.0"/>
<polygon points="727.49,439.25 775.09,439.27 822.70,439.29 870.30,439.29 917.91,439.30 917.86,451.20 870.25,451.19 822.65,451.19 775.04,451.17 727.44,451.15" fill="#1482c4"/>
<line x1="734.81" y1="439.26" x2="734.76" y2="451.16" stroke="#095f9d" stroke-width="1.0"/>
<line x1="742.14" y1="439.26" x2="742.08" y2="451.16" stroke="#095f9d" stroke-width="1.0"/>
<line x1="749.46" y1="439.26" x2="749.41" y2="451.16" stroke="#095f9d" stroke-width="1.0"/>
<line x1="756.78" y1="439.27" x2="756.73" y2="451.17" stroke="#095f9d" stroke-width="1.0"/>
<line x1="764.11" y1="439.27" x2="764.06" y2="451.17" stroke="#095f9d" stroke-width="1.0"/>
<line x1="771.43" y1="439.27" x2="771.38" y2="451.17" stroke="#095f9d" stroke-width="1.0"/>
<line x1="778.76" y1="439.27" x2="778.70" y2="451.17" stroke="#095f9d" stroke-width="1.0"/>
<line x1="786.08" y1="439.28" x2="786.03" y2="451.18" stroke="#095f9d" stroke-width="1.0"/>
<line x1="793.40" y1="439.28" x2="793.35" y2="451.18" stroke="#095f9d" stroke-width="1.0"/>
<line x1="800.73" y1="439.28" x2="800.68" y2="451.18" stroke="#095f9d" stroke-width="1.0"/>
<line x1="808.05" y1="439.28" x2="808.00" y2="451.18" stroke="#095f9d" stroke-width="1.0"/>
<line x1="815.38" y1="439.28" x2="815.32" y2="451.18" stroke="#095f9d" stroke-width="1.0"/>
<line x1="822.70" y1="439.29" x2="822.65" y2="451.19" stroke="#095f9d" stroke-width="1.0"/>
<line x1="830.02" y1="439.29" x2="829.97" y2="451.19" stroke="#095f9d" stroke-width="1.0"/>
<line x1="837.35" y1="439.29" x2="837.30" y2="451.19" stroke="#095f9d" stroke-width="1.0"/>
<line x1="844.67" y1="439.29" x2="844.62" y2="451.19" stroke="#095f9d" stroke-width="1.0"/>
<line x1="851.99" y1="439.29" x2="851.94" y2="451.19" stroke="#095f9d" stroke-width="1.0"/>
<line x1="859.32" y1="439.29" x2="859.27" y2="451.19" stroke="#095f9d" stroke-width="1.0"/>
<line x1="866.64" y1="439.29" x2="866.59" y2="451.19" stroke="#095f9d" stroke-width="1.0"/>
<line x1="873.97" y1="439.30" x2="873.92" y2="451.20" stroke="#095f9d" stroke-width="1.0"/>
<line x1="881.29" y1="439.30" x2="881.24" y2="451.20" stroke="#095f9d" stroke-width="1.0"/>
<line x1="888.61" y1="439.30" x2="888.56" y2="451.20" stroke="#095f9d" stroke-width="1.0"/>
<line x1="895.94" y1="439.30" x2="895.89" y2="451.20" stroke="#095f9d" stroke-width="1.0"/>
<line x1="903.26" y1="439.30" x2="903.21" y2="451.20" stroke="#095f9d" stroke-width="1.0"/>
<line x1="910.58" y1="439.30" x2="910.54" y2="451.20" stroke="#095f9d" stroke-width="1.0"/>
<line x1="727.49" y1="439.25" x2="727.44" y2="451.15" stroke="#064c82" stroke-width="1.0"/>
<line x1="917.91" y1="439.30" x2="917.86" y2="451.20" stroke="#064c82" stroke-width="1.0"/>
<polyline fill="none" points="727.49,439.25 775.09,439.27 822.70,439.29 870.30,439.29 917.91,439.30" stroke="#064c82" stroke-width="1.0"/>
<polyline fill="none" points="727.44,451.15 775.04,451.17 822.65,451.19 870.25,451.19 917.86,451.20" stroke="#064c82" stroke-width="1.0"/>
<polygon points="507.67,460.16 555.28,460.21 602.88,460.26 650.49,460.30 698.10,460.34 698.04,473.44 650.43,473.40 602.82,473.36 555.21,473.31 507.60,473.26" fill="#1482c4"/>
<line x1="514.99" y1="460.17" x2="514.93" y2="473.27" stroke="#095f9d" stroke-width="1.0"/>
<line x1="522.32" y1="460.18" x2="522.25" y2="473.28" stroke="#095f9d" stroke-width="1.0"/>
<line x1="529.64" y1="460.18" x2="529.58" y2="473.28" stroke="#095f9d" stroke-width="1.0"/>
<line x1="536.97" y1="460.19" x2="536.90" y2="473.29" stroke="#095f9d" stroke-width="1.0"/>
<line x1="544.29" y1="460.20" x2="544.23" y2="473.30" stroke="#095f9d" stroke-width="1.0"/>
<line x1="551.61" y1="460.21" x2="551.55" y2="473.31" stroke="#095f9d" stroke-width="1.0"/>
<line x1="558.94" y1="460.22" x2="558.88" y2="473.32" stroke="#095f9d" stroke-width="1.0"/>
<line x1="566.26" y1="460.23" x2="566.20" y2="473.33" stroke="#095f9d" stroke-width="1.0"/>
<line x1="573.59" y1="460.23" x2="573.52" y2="473.33" stroke="#095f9d" stroke-width="1.0"/>
<line x1="580.91" y1="460.24" x2="580.85" y2="473.34" stroke="#095f9d" stroke-width="1.0"/>
<line x1="588.24" y1="460.25" x2="588.17" y2="473.35" stroke="#095f9d" stroke-width="1.0"/>
<line x1="595.56" y1="460.26" x2="595.50" y2="473.36" stroke="#095f9d" stroke-width="1.0"/>
<line x1="602.88" y1="460.26" x2="602.82" y2="473.36" stroke="#095f9d" stroke-width="1.0"/>
<line x1="610.21" y1="460.27" x2="610.15" y2="473.37" stroke="#095f9d" stroke-width="1.0"/>
<line x1="617.53" y1="460.28" x2="617.47" y2="473.38" stroke="#095f9d" stroke-width="1.0"/>
<line x1="624.86" y1="460.28" x2="624.79" y2="473.38" stroke="#095f9d" stroke-width="1.0"/>
<line x1="632.18" y1="460.29" x2="632.12" y2="473.39" stroke="#095f9d" stroke-width="1.0"/>
<line x1="639.50" y1="460.30" x2="639.44" y2="473.40" stroke="#095f9d" stroke-width="1.0"/>
<line x1="646.83" y1="460.30" x2="646.77" y2="473.40" stroke="#095f9d" stroke-width="1.0"/>
<line x1="654.15" y1="460.31" x2="654.09" y2="473.41" stroke="#095f9d" stroke-width="1.0"/>
<line x1="661.48" y1="460.31" x2="661.42" y2="473.41" stroke="#095f9d" stroke-width="1.0"/>
<line x1="668.80" y1="460.32" x2="668.74" y2="473.42" stroke="#095f9d" stroke-width="1.0"/>
<line x1="676.13" y1="460.32" x2="676.06" y2="473.42" stroke="#095f9d" stroke-width="1.0"/>
<line x1="683.45" y1="460.33" x2="683.39" y2="473.43" stroke="#095f9d" stroke-width="1.0"/>
<line x1="690.77" y1="460.33" x2="690.71" y2="473.43" stroke="#095f9d" stroke-width="1.0"/>
<line x1="507.67" y1="460.16" x2="507.60" y2="473.26" stroke="#064c82" stroke-width="1.0"/>
<line x1="698.10" y1="460.34" x2="698.04" y2="473.44" stroke="#064c82" stroke-width="1.0"/>
<polyline fill="none" points="507.67,460.16 555.28,460.21 602.88,460.26 650.49,460.30 698.10,460.34" stroke="#064c82" stroke-width="1.0"/>
<polyline fill="none" points="507.60,473.26 555.21,473.31 602.82,473.36 650.43,473.40 698.04,473.44" stroke="#064c82" stroke-width="1.0"/>
<polygon points="632.12,473.39 673.62,473.42 715.13,473.45 756.63,473.47 756.59,483.17 715.08,483.15 673.58,483.12 632.07,483.09" fill="#1482c4"/>
<line x1="639.44" y1="473.40" x2="639.40" y2="483.10" stroke="#095f9d" stroke-width="1.0"/>
<line x1="646.77" y1="473.40" x2="646.72" y2="483.10" stroke="#095f9d" stroke-width="1.0"/>
<line x1="654.09" y1="473.41" x2="654.05" y2="483.11" stroke="#095f9d" stroke-width="1.0"/>
<line x1="661.42" y1="473.41" x2="661.37" y2="483.11" stroke="#095f9d" stroke-width="1.0"/>
<line x1="668.74" y1="473.42" x2="668.70" y2="483.12" stroke="#095f9d" stroke-width="1.0"/>
<line x1="676.06" y1="473.42" x2="676.02" y2="483.12" stroke="#095f9d" stroke-width="1.0"/>
<line x1="683.39" y1="473.43" x2="683.34" y2="483.13" stroke="#095f9d" stroke-width="1.0"/>
<line x1="690.71" y1="473.43" x2="690.67" y2="483.13" stroke="#095f9d" stroke-width="1.0"/>
<line x1="698.04" y1="473.44" x2="697.99" y2="483.14" stroke="#095f9d" stroke-width="1.0"/>
<line x1="705.36" y1="473.44" x2="705.32" y2="483.14" stroke="#095f9d" stroke-width="1.0"/>
<line x1="712.69" y1="473.44" x2="712.64" y2="483.14" stroke="#095f9d" stroke-width="1.0"/>
<line x1="720.01" y1="473.45" x2="719.97" y2="483.15" stroke="#095f9d" stroke-width="1.0"/>
<line x1="727.34" y1="473.45" x2="727.29" y2="483.15" stroke="#095f9d" stroke-width="1.0"/>
<line x1="734.66" y1="473.46" x2="734.62" y2="483.16" stroke="#095f9d" stroke-width="1.0"/>
<line x1="741.98" y1="473.46" x2="741.94" y2="483.16" stroke="#095f9d" stroke-width="1.0"/>
<line x1="749.31" y1="473.46" x2="749.26" y2="483.16" stroke="#095f9d" stroke-width="1.0"/>
<line x1="632.12" y1="473.39" x2="632.07" y2="483.09" stroke="#064c82" stroke-width="1.0"/>
<line x1="756.63" y1="473.47" x2="756.59" y2="483.17" stroke="#064c82" stroke-width="1.0"/>
<polyline fill="none" points="632.12,473.39 673.62,473.42 715.13,473.45 756.63,473.47" stroke="#064c82" stroke-width="1.0"/>
<polyline fill="none" points="632.07,483.09 673.58,483.12 715.08,483.15 756.59,483.17" stroke="#064c82" stroke-width="1.0"/>
<polygon points="646.72,483.10 688.84,483.13 730.95,483.15 773.07,483.17 815.19,483.18 815.15,492.48 773.03,492.47 730.91,492.45 688.80,492.43 646.68,492.40" fill="#1482c4"/>
<line x1="654.05" y1="483.11" x2="654.00" y2="492.41" stroke="#095f9d" stroke-width="1.0"/>
<line x1="661.37" y1="483.11" x2="661.33" y2="492.41" stroke="#095f9d" stroke-width="1.0"/>
<line x1="668.70" y1="483.12" x2="668.65" y2="492.42" stroke="#095f9d" stroke-width="1.0"/>
<line x1="676.02" y1="483.12" x2="675.98" y2="492.42" stroke="#095f9d" stroke-width="1.0"/>
<line x1="683.34" y1="483.13" x2="683.30" y2="492.43" stroke="#095f9d" stroke-width="1.0"/>
<line x1="690.67" y1="483.13" x2="690.63" y2="492.43" stroke="#095f9d" stroke-width="1.0"/>
<line x1="697.99" y1="483.14" x2="697.95" y2="492.44" stroke="#095f9d" stroke-width="1.0"/>
<line x1="705.32" y1="483.14" x2="705.28" y2="492.44" stroke="#095f9d" stroke-width="1.0"/>
<line x1="712.64" y1="483.14" x2="712.60" y2="492.44" stroke="#095f9d" stroke-width="1.0"/>
<line x1="719.97" y1="483.15" x2="719.92" y2="492.45" stroke="#095f9d" stroke-width="1.0"/>
<line x1="727.29" y1="483.15" x2="727.25" y2="492.45" stroke="#095f9d" stroke-width="1.0"/>
<line x1="734.62" y1="483.16" x2="734.57" y2="492.46" stroke="#095f9d" stroke-width="1.0"/>
<line x1="741.94" y1="483.16" x2="741.90" y2="492.46" stroke="#095f9d" stroke-width="1.0"/>
<line x1="749.26" y1="483.16" x2="749.22" y2="492.46" stroke="#095f9d" stroke-width="1.0"/>
<line x1="756.59" y1="483.17" x2="756.55" y2="492.47" stroke="#095f9d" stroke-width="1.0"/>
<line x1="763.91" y1="483.17" x2="763.87" y2="492.47" stroke="#095f9d" stroke-width="1.0"/>
<line x1="771.24" y1="483.17" x2="771.20" y2="492.47" stroke="#095f9d" stroke-width="1.0"/>
<line x1="778.56" y1="483.17" x2="778.52" y2="492.47" stroke="#095f9d" stroke-width="1.0"/>
<line x1="785.89" y1="483.18" x2="785.85" y2="492.48" stroke="#095f9d" stroke-width="1.0"/>
<line x1="793.21" y1="483.18" x2="793.17" y2="492.48" stroke="#095f9d" stroke-width="1.0"/>
<line x1="800.54" y1="483.18" x2="800.50" y2="492.48" stroke="#095f9d" stroke-width="1.0"/>
<line x1="807.86" y1="483.18" x2="807.82" y2="492.48" stroke="#095f9d" stroke-width="1.0"/>
<line x1="646.72" y1="483.10" x2="646.68" y2="492.40" stroke="#064c82" stroke-width="1.0"/>
<line x1="815.19" y1="483.18" x2="815.15" y2="492.48" stroke="#064c82" stroke-width="1.0"/>
<polyline fill="none" points="646.72,483.10 688.84,483.13 730.95,483.15 773.07,483.17 815.19,483.18" stroke="#064c82" stroke-width="1.0"/>
<polyline fill="none" points="646.68,492.40 688.80,492.43 730.91,492.45 773.03,492.47 815.15,492.48" stroke="#064c82" stroke-width="1.0"/>
<polygon points="529.48,492.28 578.32,492.34 627.15,492.39 675.98,492.42 724.81,492.45 773.64,492.47 822.47,492.49 822.40,508.99 773.57,508.97 724.73,508.95 675.90,508.92 627.07,508.89 578.24,508.84 529.40,508.78" fill="#1482c4"/>
<line x1="536.81" y1="492.29" x2="536.73" y2="508.79" stroke="#095f9d" stroke-width="1.0"/>
<line x1="544.13" y1="492.30" x2="544.05" y2="508.80" stroke="#095f9d" stroke-width="1.0"/>
<line x1="551.46" y1="492.31" x2="551.38" y2="508.81" stroke="#095f9d" stroke-width="1.0"/>
<line x1="558.78" y1="492.32" x2="558.70" y2="508.82" stroke="#095f9d" stroke-width="1.0"/>
<line x1="566.11" y1="492.33" x2="566.03" y2="508.83" stroke="#095f9d" stroke-width="1.0"/>
<line x1="573.43" y1="492.33" x2="573.35" y2="508.83" stroke="#095f9d" stroke-width="1.0"/>
<line x1="580.76" y1="492.34" x2="580.68" y2="508.84" stroke="#095f9d" stroke-width="1.0"/>
<line x1="588.08" y1="492.35" x2="588.00" y2="508.85" stroke="#095f9d" stroke-width="1.0"/>
<line x1="595.41" y1="492.36" x2="595.33" y2="508.86" stroke="#095f9d" stroke-width="1.0"/>
<line x1="602.73" y1="492.36" x2="602.65" y2="508.86" stroke="#095f9d" stroke-width="1.0"/>
<line x1="610.06" y1="492.37" x2="609.98" y2="508.87" stroke="#095f9d" stroke-width="1.0"/>
<line x1="617.38" y1="492.38" x2="617.30" y2="508.88" stroke="#095f9d" stroke-width="1.0"/>
<line x1="624.70" y1="492.38" x2="624.63" y2="508.88" stroke="#095f9d" stroke-width="1.0"/>
<line x1="632.03" y1="492.39" x2="631.95" y2="508.89" stroke="#095f9d" stroke-width="1.0"/>
<line x1="639.35" y1="492.40" x2="639.28" y2="508.90" stroke="#095f9d" stroke-width="1.0"/>
<line x1="646.68" y1="492.40" x2="646.60" y2="508.90" stroke="#095f9d" stroke-width="1.0"/>
<line x1="654.00" y1="492.41" x2="653.93" y2="508.91" stroke="#095f9d" stroke-width="1.0"/>
<line x1="661.33" y1="492.41" x2="661.25" y2="508.91" stroke="#095f9d" stroke-width="1.0"/>
<line x1="668.65" y1="492.42" x2="668.58" y2="508.92" stroke="#095f9d" stroke-width="1.0"/>
<line x1="675.98" y1="492.42" x2="675.90" y2="508.92" stroke="#095f9d" stroke-width="1.0"/>
<line x1="683.30" y1="492.43" x2="683.23" y2="508.93" stroke="#095f9d" stroke-width="1.0"/>
<line x1="690.63" y1="492.43" x2="690.55" y2="508.93" stroke="#095f9d" stroke-width="1.0"/>
<line x1="697.95" y1="492.44" x2="697.88" y2="508.94" stroke="#095f9d" stroke-width="1.0"/>
<line x1="705.28" y1="492.44" x2="705.20" y2="508.94" stroke="#095f9d" stroke-width="1.0"/>
<line x1="712.60" y1="492.44" x2="712.53" y2="508.94" stroke="#095f9d" stroke-width="1.0"/>
<line x1="719.92" y1="492.45" x2="719.85" y2="508.95" stroke="#095f9d" stroke-width="1.0"/>
<line x1="727.25" y1="492.45" x2="727.18" y2="508.95" stroke="#095f9d" stroke-width="1.0"/>
<line x1="734.57" y1="492.46" x2="734.50" y2="508.96" stroke="#095f9d" stroke-width="1.0"/>
<line x1="741.90" y1="492.46" x2="741.83" y2="508.96" stroke="#095f9d" stroke-width="1.0"/>
<line x1="749.22" y1="492.46" x2="749.15" y2="508.96" stroke="#095f9d" stroke-width="1.0"/>
<line x1="756.55" y1="492.47" x2="756.47" y2="508.97" stroke="#095f9d" stroke-width="1.0"/>
<line x1="763.87" y1="492.47" x2="763.80" y2="508.97" stroke="#095f9d" stroke-width="1.0"/>
<line x1="771.20" y1="492.47" x2="771.12" y2="508.97" stroke="#095f9d" stroke-width="1.0"/>
<line x1="778.52" y1="492.47" x2="778.45" y2="508.97" stroke="#095f9d" stroke-width="1.0"/>
<line x1="785.85" y1="492.48" x2="785.77" y2="508.98" stroke="#095f9d" stroke-width="1.0"/>
<line x1="793.17" y1="492.48" x2="793.10" y2="508.98" stroke="#095f9d" stroke-width="1.0"/>
<line x1="800.50" y1="492.48" x2="800.42" y2="508.98" stroke="#095f9d" stroke-width="1.0"/>
<line x1="807.82" y1="492.48" x2="807.75" y2="508.98" stroke="#095f9d" stroke-width="1.0"/>
<line x1="815.15" y1="492.48" x2="815.07" y2="508.98" stroke="#095f9d" stroke-width="1.0"/>
<line x1="529.48" y1="492.28" x2="529.40" y2="508.78" stroke="#064c82" stroke-width="1.0"/>
<line x1="822.47" y1="492.49" x2="822.40" y2="508.99" stroke="#064c82" stroke-width="1.0"/>
<polyline fill="none" points="529.48,492.28 578.32,492.34 627.15,492.39 675.98,492.42 724.81,492.45 773.64,492.47 822.47,492.49" stroke="#064c82" stroke-width="1.0"/>
<polyline fill="none" points="529.40,508.78 578.24,508.84 627.07,508.89 675.90,508.92 724.73,508.95 773.57,508.97 822.40,508.99" stroke="#064c82" stroke-width="1.0"/>
<polygon points="500.10,508.75 547.19,508.81 594.28,508.86 641.37,508.90 688.46,508.93 735.55,508.96 782.64,508.97 829.72,508.99 829.63,530.99 782.54,530.97 735.45,530.96 688.36,530.93 641.27,530.90 594.18,530.86 547.08,530.81 499.99,530.75" fill="#1482c4"/>
<line x1="507.43" y1="508.76" x2="507.32" y2="530.76" stroke="#095f9d" stroke-width="1.0"/>
<line x1="514.75" y1="508.77" x2="514.64" y2="530.77" stroke="#095f9d" stroke-width="1.0"/>
<line x1="522.08" y1="508.78" x2="521.97" y2="530.78" stroke="#095f9d" stroke-width="1.0"/>
<line x1="529.40" y1="508.78" x2="529.29" y2="530.78" stroke="#095f9d" stroke-width="1.0"/>
<line x1="536.73" y1="508.79" x2="536.62" y2="530.79" stroke="#095f9d" stroke-width="1.0"/>
<line x1="544.05" y1="508.80" x2="543.95" y2="530.80" stroke="#095f9d" stroke-width="1.0"/>
<line x1="551.38" y1="508.81" x2="551.27" y2="530.81" stroke="#095f9d" stroke-width="1.0"/>
<line x1="558.70" y1="508.82" x2="558.60" y2="530.82" stroke="#095f9d" stroke-width="1.0"/>
<line x1="566.03" y1="508.83" x2="565.92" y2="530.83" stroke="#095f9d" stroke-width="1.0"/>
<line x1="573.35" y1="508.83" x2="573.25" y2="530.83" stroke="#095f9d" stroke-width="1.0"/>
<line x1="580.68" y1="508.84" x2="580.57" y2="530.84" stroke="#095f9d" stroke-width="1.0"/>
<line x1="588.00" y1="508.85" x2="587.90" y2="530.85" stroke="#095f9d" stroke-width="1.0"/>
<line x1="595.33" y1="508.86" x2="595.22" y2="530.86" stroke="#095f9d" stroke-width="1.0"/>
<line x1="602.65" y1="508.86" x2="602.55" y2="530.86" stroke="#095f9d" stroke-width="1.0"/>
<line x1="609.98" y1="508.87" x2="609.87" y2="530.87" stroke="#095f9d" stroke-width="1.0"/>
<line x1="617.30" y1="508.88" x2="617.20" y2="530.88" stroke="#095f9d" stroke-width="1.0"/>
<line x1="624.63" y1="508.88" x2="624.52" y2="530.88" stroke="#095f9d" stroke-width="1.0"/>
<line x1="631.95" y1="508.89" x2="631.85" y2="530.89" stroke="#095f9d" stroke-width="1.0"/>
<line x1="639.28" y1="508.90" x2="639.17" y2="530.90" stroke="#095f9d" stroke-width="1.0"/>
<line x1="646.60" y1="508.90" x2="646.50" y2="530.90" stroke="#095f9d" stroke-width="1.0"/>
<line x1="653.93" y1="508.91" x2="653.82" y2="530.91" stroke="#095f9d" stroke-width="1.0"/>
<line x1="661.25" y1="508.91" x2="661.15" y2="530.91" stroke="#095f9d" stroke-width="1.0"/>
<line x1="668.58" y1="508.92" x2="668.47" y2="530.92" stroke="#095f9d" stroke-width="1.0"/>
<line x1="675.90" y1="508.92" x2="675.80" y2="530.92" stroke="#095f9d" stroke-width="1.0"/>
<line x1="683.23" y1="508.93" x2="683.12" y2="530.93" stroke="#095f9d" stroke-width="1.0"/>
<line x1="690.55" y1="508.93" x2="690.45" y2="530.93" stroke="#095f9d" stroke-width="1.0"/>
<line x1="697.88" y1="508.94" x2="697.78" y2="530.94" stroke="#095f9d" stroke-width="1.0"/>
<line x1="705.20" y1="508.94" x2="705.10" y2="530.94" stroke="#095f9d" stroke-width="1.0"/>
<line x1="712.53" y1="508.94" x2="712.43" y2="530.94" stroke="#095f9d" stroke-width="1.0"/>
<line x1="719.85" y1="508.95" x2="719.75" y2="530.95" stroke="#095f9d" stroke-width="1.0"/>
<line x1="727.18" y1="508.95" x2="727.08" y2="530.95" stroke="#095f9d" stroke-width="1.0"/>
<line x1="734.50" y1="508.96" x2="734.40" y2="530.96" stroke="#095f9d" stroke-width="1.0"/>
<line x1="741.83" y1="508.96" x2="741.73" y2="530.96" stroke="#095f9d" stroke-width="1.0"/>
<line x1="749.15" y1="508.96" x2="749.05" y2="530.96" stroke="#095f9d" stroke-width="1.0"/>
<line x1="756.47" y1="508.97" x2="756.38" y2="530.97" stroke="#095f9d" stroke-width="1.0"/>
<line x1="763.80" y1="508.97" x2="763.70" y2="530.97" stroke="#095f9d" stroke-width="1.0"/>
<line x1="771.12" y1="508.97" x2="771.03" y2="530.97" stroke="#095f9d" stroke-width="1.0"/>
<line x1="778.45" y1="508.97" x2="778.35" y2="530.97" stroke="#095f9d" stroke-width="1.0"/>
<line x1="785.77" y1="508.98" x2="785.68" y2="530.98" stroke="#095f9d" stroke-width="1.0"/>
<line x1="793.10" y1="508.98" x2="793.00" y2="530.98" stroke="#095f9d" stroke-width="1.0"/>
<line x1="800.42" y1="508.98" x2="800.33" y2="530.98" stroke="#095f9d" stroke-width="1.0"/>
<line x1="807.75" y1="508.98" x2="807.65" y2="530.98" stroke="#095f9d" stroke-width="1.0"/>
<line x1="815.07" y1="508.98" x2="814.98" y2="530.98" stroke="#095f9d" stroke-width="1.0"/>
<line x1="822.40" y1="508.99" x2="822.30" y2="530.99" stroke="#095f9d" stroke-width="1.0"/>
<line x1="500.10" y1="508.75" x2="499.99" y2="530.75" stroke="#064c82" stroke-width="1.0"/>
<line x1="829.72" y1="508.99" x2="829.63" y2="530.99" stroke="#064c82" stroke-width="1.0"/>
<polyline fill="none" points="500.10,508.75 547.19,508.81 594.28,508.86 641.37,508.90 688.46,508.93 735.55,508.96 782.64,508.97 829.72,508.99" stroke="#064c82" stroke-width="1.0"/>
<polyline fill="none" points="499.99,530.75 547.08,530.81 594.18,530.86 641.27,530.90 688.36,530.93 735.45,530.96 782.54,530.97 829.63,530.99" stroke="#064c82" stroke-width="1.0"/>
<polygon points="514.64,530.77 560.69,530.82 606.73,530.87 652.78,530.91 698.82,530.94 744.87,530.96 790.91,530.98 836.95,530.99 836.87,549.79 790.83,549.78 744.78,549.76 698.74,549.74 652.69,549.71 606.64,549.67 560.60,549.62 514.55,549.57" fill="#1482c4"/>
<line x1="521.97" y1="530.78" x2="521.88" y2="549.58" stroke="#095f9d" stroke-width="1.0"/>
<line x1="529.29" y1="530.78" x2="529.20" y2="549.58" stroke="#095f9d" stroke-width="1.0"/>
<line x1="536.62" y1="530.79" x2="536.53" y2="549.59" stroke="#095f9d" stroke-width="1.0"/>
<line x1="543.95" y1="530.80" x2="543.85" y2="549.60" stroke="#095f9d" stroke-width="1.0"/>
<line x1="551.27" y1="530.81" x2="551.18" y2="549.61" stroke="#095f9d" stroke-width="1.0"/>
<line x1="558.60" y1="530.82" x2="558.50" y2="549.62" stroke="#095f9d" stroke-width="1.0"/>
<line x1="565.92" y1="530.83" x2="565.83" y2="549.63" stroke="#095f9d" stroke-width="1.0"/>
<line x1="573.25" y1="530.83" x2="573.16" y2="549.63" stroke="#095f9d" stroke-width="1.0"/>
<line x1="580.57" y1="530.84" x2="580.48" y2="549.64" stroke="#095f9d" stroke-width="1.0"/>
<line x1="587.90" y1="530.85" x2="587.81" y2="549.65" stroke="#095f9d" stroke-width="1.0"/>
<line x1="595.22" y1="530.86" x2="595.13" y2="549.66" stroke="#095f9d" stroke-width="1.0"/>
<line x1="602.55" y1="530.86" x2="602.46" y2="549.66" stroke="#095f9d" stroke-width="1.0"/>
<line x1="609.87" y1="530.87" x2="609.78" y2="549.67" stroke="#095f9d" stroke-width="1.0"/>
<line x1="617.20" y1="530.88" x2="617.11" y2="549.68" stroke="#095f9d" stroke-width="1.0"/>
<line x1="624.52" y1="530.88" x2="624.43" y2="549.68" stroke="#095f9d" stroke-width="1.0"/>
<line x1="631.85" y1="530.89" x2="631.76" y2="549.69" stroke="#095f9d" stroke-width="1.0"/>
<line x1="639.17" y1="530.90" x2="639.09" y2="549.70" stroke="#095f9d" stroke-width="1.0"/>
<line x1="646.50" y1="530.90" x2="646.41" y2="549.70" stroke="#095f9d" stroke-width="1.0"/>
<line x1="653.82" y1="530.91" x2="653.74" y2="549.71" stroke="#095f9d" stroke-width="1.0"/>
<line x1="661.15" y1="530.91" x2="661.06" y2="549.71" stroke="#095f9d" stroke-width="1.0"/>
<line x1="668.47" y1="530.92" x2="668.39" y2="549.72" stroke="#095f9d" stroke-width="1.0"/>
<line x1="675.80" y1="530.92" x2="675.71" y2="549.72" stroke="#095f9d" stroke-width="1.0"/>
<line x1="683.12" y1="530.93" x2="683.04" y2="549.73" stroke="#095f9d" stroke-width="1.0"/>
<line x1="690.45" y1="530.93" x2="690.36" y2="549.73" stroke="#095f9d" stroke-width="1.0"/>
<line x1="697.78" y1="530.94" x2="697.69" y2="549.74" stroke="#095f9d" stroke-width="1.0"/>
<line x1="705.10" y1="530.94" x2="705.01" y2="549.74" stroke="#095f9d" stroke-width="1.0"/>
<line x1="712.43" y1="530.94" x2="712.34" y2="549.74" stroke="#095f9d" stroke-width="1.0"/>
<line x1="719.75" y1="530.95" x2="719.67" y2="549.75" stroke="#095f9d" stroke-width="1.0"/>
<line x1="727.08" y1="530.95" x2="726.99" y2="549.75" stroke="#095f9d" stroke-width="1.0"/>
<line x1="734.40" y1="530.96" x2="734.32" y2="549.76" stroke="#095f9d" stroke-width="1.0"/>
<line x1="741.73" y1="530.96" x2="741.64" y2="549.76" stroke="#095f9d" stroke-width="1.0"/>
<line x1="749.05" y1="530.96" x2="748.97" y2="549.76" stroke="#095f9d" stroke-width="1.0"/>
<line x1="756.38" y1="530.97" x2="756.29" y2="549.77" stroke="#095f9d" stroke-width="1.0"/>
<line x1="763.70" y1="530.97" x2="763.62" y2="549.77" stroke="#095f9d" stroke-width="1.0"/>
<line x1="771.03" y1="530.97" x2="770.94" y2="549.77" stroke="#095f9d" stroke-width="1.0"/>
<line x1="778.35" y1="530.97" x2="778.27" y2="549.77" stroke="#095f9d" stroke-width="1.0"/>
<line x1="785.68" y1="530.98" x2="785.60" y2="549.78" stroke="#095f9d" stroke-width="1.0"/>
<line x1="793.00" y1="530.98" x2="792.92" y2="549.78" stroke="#095f9d" stroke-width="1.0"/>
<line x1="800.33" y1="530.98" x2="800.25" y2="549.78" stroke="#095f9d" stroke-width="1.0"/>
<line x1="807.65" y1="530.98" x2="807.57" y2="549.78" stroke="#095f9d" stroke-width="1.0"/>
<line x1="814.98" y1="530.98" x2="814.90" y2="549.78" stroke="#095f9d" stroke-width="1.0"/>
<line x1="822.30" y1="530.99" x2="822.22" y2="549.79" stroke="#095f9d" stroke-width="1.0"/>
<line x1="829.63" y1="530.99" x2="829.55" y2="549.79" stroke="#095f9d" stroke-width="1.0"/>
<line x1="514.64" y1="530.77" x2="514.55" y2="549.57" stroke="#064c82" stroke-width="1.0"/>
<line x1="836.95" y1="530.99" x2="836.87" y2="549.79" stroke="#064c82" stroke-width="1.0"/>
<polyline fill="none" points="514.64,530.77 560.69,530.82 606.73,530.87 652.78,530.91 698.82,530.94 744.87,530.96 790.91,530.98 836.95,530.99" stroke="#064c82" stroke-width="1.0"/>
<polyline fill="none" points="514.55,549.57 560.60,549.62 606.64,549.67 652.69,549.71 698.74,549.74 744.78,549.76 790.83,549.78 836.87,549.79" stroke="#064c82" stroke-width="1.0"/>
<polygon points="690.31,562.03 737.19,562.06 784.08,562.08 830.96,562.09 877.85,562.10 924.73,562.10 924.68,573.90 877.80,573.90 830.91,573.89 784.02,573.88 737.14,573.86 690.25,573.83" fill="#1482c4"/>
<line x1="697.63" y1="562.04" x2="697.58" y2="573.84" stroke="#095f9d" stroke-width="1.0"/>
<line x1="704.96" y1="562.04" x2="704.91" y2="573.84" stroke="#095f9d" stroke-width="1.0"/>
<line x1="712.28" y1="562.04" x2="712.23" y2="573.84" stroke="#095f9d" stroke-width="1.0"/>
<line x1="719.61" y1="562.05" x2="719.56" y2="573.85" stroke="#095f9d" stroke-width="1.0"/>
<line x1="726.94" y1="562.05" x2="726.88" y2="573.85" stroke="#095f9d" stroke-width="1.0"/>
<line x1="734.26" y1="562.06" x2="734.21" y2="573.86" stroke="#095f9d" stroke-width="1.0"/>
<line x1="741.59" y1="562.06" x2="741.53" y2="573.86" stroke="#095f9d" stroke-width="1.0"/>
<line x1="748.91" y1="562.06" x2="748.86" y2="573.86" stroke="#095f9d" stroke-width="1.0"/>
<line x1="756.24" y1="562.07" x2="756.19" y2="573.87" stroke="#095f9d" stroke-width="1.0"/>
<line x1="763.56" y1="562.07" x2="763.51" y2="573.87" stroke="#095f9d" stroke-width="1.0"/>
<line x1="770.89" y1="562.07" x2="770.84" y2="573.87" stroke="#095f9d" stroke-width="1.0"/>
<line x1="778.22" y1="562.07" x2="778.16" y2="573.87" stroke="#095f9d" stroke-width="1.0"/>
<line x1="785.54" y1="562.08" x2="785.49" y2="573.88" stroke="#095f9d" stroke-width="1.0"/>
<line x1="792.87" y1="562.08" x2="792.82" y2="573.88" stroke="#095f9d" stroke-width="1.0"/>
<line x1="800.19" y1="562.08" x2="800.14" y2="573.88" stroke="#095f9d" stroke-width="1.0"/>
<line x1="807.52" y1="562.08" x2="807.47" y2="573.88" stroke="#095f9d" stroke-width="1.0"/>
<line x1="814.84" y1="562.08" x2="814.79" y2="573.88" stroke="#095f9d" stroke-width="1.0"/>
<line x1="822.17" y1="562.09" x2="822.12" y2="573.89" stroke="#095f9d" stroke-width="1.0"/>
<line x1="829.50" y1="562.09" x2="829.45" y2="573.89" stroke="#095f9d" stroke-width="1.0"/>
<line x1="836.82" y1="562.09" x2="836.77" y2="573.89" stroke="#095f9d" stroke-width="1.0"/>
<line x1="844.15" y1="562.09" x2="844.10" y2="573.89" stroke="#095f9d" stroke-width="1.0"/>
<line x1="851.47" y1="562.09" x2="851.42" y2="573.89" stroke="#095f9d" stroke-width="1.0"/>
<line x1="858.80" y1="562.09" x2="858.75" y2="573.89" stroke="#095f9d" stroke-width="1.0"/>
<line x1="866.12" y1="562.09" x2="866.07" y2="573.89" stroke="#095f9d" stroke-width="1.0"/>
<line x1="873.45" y1="562.10" x2="873.40" y2="573.90" stroke="#095f9d" stroke-width="1.0"/>
<line x1="880.78" y1="562.10" x2="880.73" y2="573.90" stroke="#095f9d" stroke-width="1.0"/>
<line x1="888.10" y1="562.10" x2="888.05" y2="573.90" stroke="#095f9d" stroke-width="1.0"/>
<line x1="895.43" y1="562.10" x2="895.38" y2="573.90" stroke="#095f9d" stroke-width="1.0"/>
<line x1="902.75" y1="562.10" x2="902.70" y2="573.90" stroke="#095f9d" stroke-width="1.0"/>
<line x1="910.08" y1="562.10" x2="910.03" y2="573.90" stroke="#095f9d" stroke-width="1.0"/>
<line x1="917.40" y1="562.10" x2="917.36" y2="573.90" stroke="#095f9d" stroke-width="1.0"/>
<line x1="690.31" y1="562.03" x2="690.25" y2="573.83" stroke="#064c82" stroke-width="1.0"/>
<line x1="924.73" y1="562.10" x2="924.68" y2="573.90" stroke="#064c82" stroke-width="1.0"/>
<polyline fill="none" points="690.31,562.03 737.19,562.06 784.08,562.08 830.96,562.09 877.85,562.10 924.73,562.10" stroke="#064c82" stroke-width="1.0"/>
<polyline fill="none" points="690.25,573.83 737.14,573.86 784.02,573.88 830.91,573.89 877.80,573.90 924.68,573.90" stroke="#064c82" stroke-width="1.0"/>
<polygon points="682.93,573.83 729.81,573.85 776.70,573.87 823.58,573.89 870.47,573.89 917.36,573.90 917.31,584.10 870.43,584.09 823.54,584.09 776.65,584.07 729.77,584.05 682.88,584.03" fill="#1482c4"/>
<line x1="690.25" y1="573.83" x2="690.21" y2="584.03" stroke="#095f9d" stroke-width="1.0"/>
<line x1="697.58" y1="573.84" x2="697.53" y2="584.04" stroke="#095f9d" stroke-width="1.0"/>
<line x1="704.91" y1="573.84" x2="704.86" y2="584.04" stroke="#095f9d" stroke-width="1.0"/>
<line x1="712.23" y1="573.84" x2="712.18" y2="584.04" stroke="#095f9d" stroke-width="1.0"/>
<line x1="719.56" y1="573.85" x2="719.51" y2="584.05" stroke="#095f9d" stroke-width="1.0"/>
<line x1="726.88" y1="573.85" x2="726.84" y2="584.05" stroke="#095f9d" stroke-width="1.0"/>
<line x1="734.21" y1="573.86" x2="734.16" y2="584.06" stroke="#095f9d" stroke-width="1.0"/>
<line x1="741.53" y1="573.86" x2="741.49" y2="584.06" stroke="#095f9d" stroke-width="1.0"/>
<line x1="748.86" y1="573.86" x2="748.81" y2="584.06" stroke="#095f9d" stroke-width="1.0"/>
<line x1="756.19" y1="573.87" x2="756.14" y2="584.07" stroke="#095f9d" stroke-width="1.0"/>
<line x1="763.51" y1="573.87" x2="763.47" y2="584.07" stroke="#095f9d" stroke-width="1.0"/>
<line x1="770.84" y1="573.87" x2="770.79" y2="584.07" stroke="#095f9d" stroke-width="1.0"/>
<line x1="778.16" y1="573.87" x2="778.12" y2="584.07" stroke="#095f9d" stroke-width="1.0"/>
<line x1="785.49" y1="573.88" x2="785.45" y2="584.08" stroke="#095f9d" stroke-width="1.0"/>
<line x1="792.82" y1="573.88" x2="792.77" y2="584.08" stroke="#095f9d" stroke-width="1.0"/>
<line x1="800.14" y1="573.88" x2="800.10" y2="584.08" stroke="#095f9d" stroke-width="1.0"/>
<line x1="807.47" y1="573.88" x2="807.42" y2="584.08" stroke="#095f9d" stroke-width="1.0"/>
<line x1="814.79" y1="573.88" x2="814.75" y2="584.08" stroke="#095f9d" stroke-width="1.0"/>
<line x1="822.12" y1="573.89" x2="822.08" y2="584.09" stroke="#095f9d" stroke-width="1.0"/>
<line x1="829.45" y1="573.89" x2="829.40" y2="584.09" stroke="#095f9d" stroke-width="1.0"/>
<line x1="836.77" y1="573.89" x2="836.73" y2="584.09" stroke="#095f9d" stroke-width="1.0"/>
<line x1="844.10" y1="573.89" x2="844.05" y2="584.09" stroke="#095f9d" stroke-width="1.0"/>
<line x1="851.42" y1="573.89" x2="851.38" y2="584.09" stroke="#095f9d" stroke-width="1.0"/>
<line x1="858.75" y1="573.89" x2="858.71" y2="584.09" stroke="#095f9d" stroke-width="1.0"/>
<line x1="866.07" y1="573.89" x2="866.03" y2="584.09" stroke="#095f9d" stroke-width="1.0"/>
<line x1="873.40" y1="573.90" x2="873.36" y2="584.10" stroke="#095f9d" stroke-width="1.0"/>
<line x1="880.73" y1="573.90" x2="880.68" y2="584.10" stroke="#095f9d" stroke-width="1.0"/>
<line x1="888.05" y1="573.90" x2="888.01" y2="584.10" stroke="#095f9d" stroke-width="1.0"/>
<line x1="895.38" y1="573.90" x2="895.34" y2="584.10" stroke="#095f9d" stroke-width="1.0"/>
<line x1="902.70" y1="573.90" x2="902.66" y2="584.10" stroke="#095f9d" stroke-width="1.0"/>
<line x1="910.03" y1="573.90" x2="909.99" y2="584.10" stroke="#095f9d" stroke-width="1.0"/>
<line x1="682.93" y1="573.83" x2="682.88" y2="584.03" stroke="#064c82" stroke-width="1.0"/>
<line x1="917.36" y1="573.90" x2="917.31" y2="584.10" stroke="#064c82" stroke-width="1.0"/>
<polyline fill="none" points="682.93,573.83 729.81,573.85 776.70,573.87 823.58,573.89 870.47,573.89 917.36,573.90" stroke="#064c82" stroke-width="1.0"/>
<polyline fill="none" points="682.88,584.03 729.77,584.05 776.65,584.07 823.54,584.09 870.43,584.09 917.31,584.10" stroke="#064c82" stroke-width="1.0"/>
<polygon points="682.88,584.03 728.30,584.05 773.72,584.07 819.15,584.09 864.57,584.09 909.99,584.10 909.95,594.50 864.52,594.49 819.10,594.49 773.68,594.47 728.26,594.45 682.83,594.43" fill="#1482c4"/>
<line x1="690.21" y1="584.03" x2="690.16" y2="594.43" stroke="#095f9d" stroke-width="1.0"/>
<line x1="697.53" y1="584.04" x2="697.49" y2="594.44" stroke="#095f9d" stroke-width="1.0"/>
<line x1="704.86" y1="584.04" x2="704.81" y2="594.44" stroke="#095f9d" stroke-width="1.0"/>
<line x1="712.18" y1="584.04" x2="712.14" y2="594.44" stroke="#095f9d" stroke-width="1.0"/>
<line x1="719.51" y1="584.05" x2="719.46" y2="594.45" stroke="#095f9d" stroke-width="1.0"/>
<line x1="726.84" y1="584.05" x2="726.79" y2="594.45" stroke="#095f9d" stroke-width="1.0"/>
<line x1="734.16" y1="584.06" x2="734.12" y2="594.46" stroke="#095f9d" stroke-width="1.0"/>
<line x1="741.49" y1="584.06" x2="741.44" y2="594.46" stroke="#095f9d" stroke-width="1.0"/>
<line x1="748.81" y1="584.06" x2="748.77" y2="594.46" stroke="#095f9d" stroke-width="1.0"/>
<line x1="756.14" y1="584.07" x2="756.09" y2="594.47" stroke="#095f9d" stroke-width="1.0"/>
<line x1="763.47" y1="584.07" x2="763.42" y2="594.47" stroke="#095f9d" stroke-width="1.0"/>
<line x1="770.79" y1="584.07" x2="770.75" y2="594.47" stroke="#095f9d" stroke-width="1.0"/>
<line x1="778.12" y1="584.07" x2="778.07" y2="594.47" stroke="#095f9d" stroke-width="1.0"/>
<line x1="785.45" y1="584.08" x2="785.40" y2="594.48" stroke="#095f9d" stroke-width="1.0"/>
<line x1="792.77" y1="584.08" x2="792.73" y2="594.48" stroke="#095f9d" stroke-width="1.0"/>
<line x1="800.10" y1="584.08" x2="800.05" y2="594.48" stroke="#095f9d" stroke-width="1.0"/>
<line x1="807.42" y1="584.08" x2="807.38" y2="594.48" stroke="#095f9d" stroke-width="1.0"/>
<line x1="814.75" y1="584.08" x2="814.70" y2="594.48" stroke="#095f9d" stroke-width="1.0"/>
<line x1="822.08" y1="584.09" x2="822.03" y2="594.49" stroke="#095f9d" stroke-width="1.0"/>
<line x1="829.40" y1="584.09" x2="829.36" y2="594.49" stroke="#095f9d" stroke-width="1.0"/>
<line x1="836.73" y1="584.09" x2="836.68" y2="594.49" stroke="#095f9d" stroke-width="1.0"/>
<line x1="844.05" y1="584.09" x2="844.01" y2="594.49" stroke="#095f9d" stroke-width="1.0"/>
<line x1="851.38" y1="584.09" x2="851.34" y2="594.49" stroke="#095f9d" stroke-width="1.0"/>
<line x1="858.71" y1="584.09" x2="858.66" y2="594.49" stroke="#095f9d" stroke-width="1.0"/>
<line x1="866.03" y1="584.09" x2="865.99" y2="594.49" stroke="#095f9d" stroke-width="1.0"/>
<line x1="873.36" y1="584.10" x2="873.31" y2="594.50" stroke="#095f9d" stroke-width="1.0"/>
<line x1="880.68" y1="584.10" x2="880.64" y2="594.50" stroke="#095f9d" stroke-width="1.0"/>
<line x1="888.01" y1="584.10" x2="887.97" y2="594.50" stroke="#095f9d" stroke-width="1.0"/>
<line x1="895.34" y1="584.10" x2="895.29" y2="594.50" stroke="#095f9d" stroke-width="1.0"/>
<line x1="902.66" y1="584.10" x2="902.62" y2="594.50" stroke="#095f9d" stroke-width="1.0"/>
<line x1="682.88" y1="584.03" x2="682.83" y2="594.43" stroke="#064c82" stroke-width="1.0"/>
<line x1="909.99" y1="584.10" x2="909.95" y2="594.50" stroke="#064c82" stroke-width="1.0"/>
<polyline fill="none" points="682.88,584.03 728.30,584.05 773.72,584.07 819.15,584.09 864.57,584.09 909.99,584.10" stroke="#064c82" stroke-width="1.0"/>
<polyline fill="none" points="682.83,594.43 728.26,594.45 773.68,594.47 819.10,594.49 864.52,594.49 909.95,594.50" stroke="#064c82" stroke-width="1.0"/>
<polygon points="682.83,594.43 725.57,594.45 768.31,594.47 811.04,594.48 853.78,594.49 896.51,594.50 939.25,594.50 939.21,604.70 896.47,604.70 853.73,604.69 811.00,604.68 768.26,604.67 725.52,604.65 682.79,604.63" fill="#1482c4"/>
<line x1="690.16" y1="594.43" x2="690.11" y2="604.63" stroke="#095f9d" stroke-width="1.0"/>
<line x1="697.49" y1="594.44" x2="697.44" y2="604.64" stroke="#095f9d" stroke-width="1.0"/>
<line x1="704.81" y1="594.44" x2="704.76" y2="604.64" stroke="#095f9d" stroke-width="1.0"/>
<line x1="712.14" y1="594.44" x2="712.09" y2="604.64" stroke="#095f9d" stroke-width="1.0"/>
<line x1="719.46" y1="594.45" x2="719.42" y2="604.65" stroke="#095f9d" stroke-width="1.0"/>
<line x1="726.79" y1="594.45" x2="726.74" y2="604.65" stroke="#095f9d" stroke-width="1.0"/>
<line x1="734.12" y1="594.46" x2="734.07" y2="604.66" stroke="#095f9d" stroke-width="1.0"/>
<line x1="741.44" y1="594.46" x2="741.40" y2="604.66" stroke="#095f9d" stroke-width="1.0"/>
<line x1="748.77" y1="594.46" x2="748.72" y2="604.66" stroke="#095f9d" stroke-width="1.0"/>
<line x1="756.09" y1="594.47" x2="756.05" y2="604.67" stroke="#095f9d" stroke-width="1.0"/>
<line x1="763.42" y1="594.47" x2="763.38" y2="604.67" stroke="#095f9d" stroke-width="1.0"/>
<line x1="770.75" y1="594.47" x2="770.70" y2="604.67" stroke="#095f9d" stroke-width="1.0"/>
<line x1="778.07" y1="594.47" x2="778.03" y2="604.67" stroke="#095f9d" stroke-width="1.0"/>
<line x1="785.40" y1="594.48" x2="785.35" y2="604.68" stroke="#095f9d" stroke-width="1.0"/>
<line x1="792.73" y1="594.48" x2="792.68" y2="604.68" stroke="#095f9d" stroke-width="1.0"/>
<line x1="800.05" y1="594.48" x2="800.01" y2="604.68" stroke="#095f9d" stroke-width="1.0"/>
<line x1="807.38" y1="594.48" x2="807.33" y2="604.68" stroke="#095f9d" stroke-width="1.0"/>
<line x1="814.70" y1="594.48" x2="814.66" y2="604.68" stroke="#095f9d" stroke-width="1.0"/>
<line x1="822.03" y1="594.49" x2="821.99" y2="604.69" stroke="#095f9d" stroke-width="1.0"/>
<line x1="829.36" y1="594.49" x2="829.31" y2="604.69" stroke="#095f9d" stroke-width="1.0"/>
<line x1="836.68" y1="594.49" x2="836.64" y2="604.69" stroke="#095f9d" stroke-width="1.0"/>
<line x1="844.01" y1="594.49" x2="843.97" y2="604.69" stroke="#095f9d" stroke-width="1.0"/>
<line x1="851.34" y1="594.49" x2="851.29" y2="604.69" stroke="#095f9d" stroke-width="1.0"/>
<line x1="858.66" y1="594.49" x2="858.62" y2="604.69" stroke="#095f9d" stroke-width="1.0"/>
<line x1="865.99" y1="594.49" x2="865.94" y2="604.69" stroke="#095f9d" stroke-width="1.0"/>
<line x1="873.31" y1="594.50" x2="873.27" y2="604.70" stroke="#095f9d" stroke-width="1.0"/>
<line x1="880.64" y1="594.50" x2="880.60" y2="604.70" stroke="#095f9d" stroke-width="1.0"/>
<line x1="887.97" y1="594.50" x2="887.92" y2="604.70" stroke="#095f9d" stroke-width="1.0"/>
<line x1="895.29" y1="594.50" x2="895.25" y2="604.70" stroke="#095f9d" stroke-width="1.0"/>
<line x1="902.62" y1="594.50" x2="902.58" y2="604.70" stroke="#095f9d" stroke-width="1.0"/>
<line x1="909.95" y1="594.50" x2="909.90" y2="604.70" stroke="#095f9d" stroke-width="1.0"/>
<line x1="917.27" y1="594.50" x2="917.23" y2="604.70" stroke="#095f9d" stroke-width="1.0"/>
<line x1="924.60" y1="594.50" x2="924.56" y2="604.70" stroke="#095f9d" stroke-width="1.0"/>
<line x1="931.92" y1="594.50" x2="931.88" y2="604.70" stroke="#095f9d" stroke-width="1.0"/>
<line x1="682.83" y1="594.43" x2="682.79" y2="604.63" stroke="#064c82" stroke-width="1.0"/>
<line x1="939.25" y1="594.50" x2="939.21" y2="604.70" stroke="#064c82" stroke-width="1.0"/>
<polyline fill="none" points="682.83,594.43 725.57,594.45 768.31,594.47 811.04,594.48 853.78,594.49 896.51,594.50 939.25,594.50" stroke="#064c82" stroke-width="1.0"/>
<polyline fill="none" points="682.79,604.63 725.52,604.65 768.26,604.67 811.00,604.68 853.73,604.69 896.47,604.70 939.21,604.70" stroke="#064c82" stroke-width="1.0"/>
<polygon points="763.38,604.67 809.17,604.68 854.96,604.69 900.75,604.70 946.53,604.70 946.49,615.20 900.70,615.20 854.91,615.19 809.12,615.18 763.33,615.17" fill="#1482c4"/>
<line x1="770.70" y1="604.67" x2="770.66" y2="615.17" stroke="#095f9d" stroke-width="1.0"/>
<line x1="778.03" y1="604.67" x2="777.98" y2="615.17" stroke="#095f9d" stroke-width="1.0"/>
<line x1="785.35" y1="604.68" x2="785.31" y2="615.18" stroke="#095f9d" stroke-width="1.0"/>
<line x1="792.68" y1="604.68" x2="792.64" y2="615.18" stroke="#095f9d" stroke-width="1.0"/>
<line x1="800.01" y1="604.68" x2="799.96" y2="615.18" stroke="#095f9d" stroke-width="1.0"/>
<line x1="807.33" y1="604.68" x2="807.29" y2="615.18" stroke="#095f9d" stroke-width="1.0"/>
<line x1="814.66" y1="604.68" x2="814.61" y2="615.18" stroke="#095f9d" stroke-width="1.0"/>
<line x1="821.99" y1="604.69" x2="821.94" y2="615.19" stroke="#095f9d" stroke-width="1.0"/>
<line x1="829.31" y1="604.69" x2="829.27" y2="615.19" stroke="#095f9d" stroke-width="1.0"/>
<line x1="836.64" y1="604.69" x2="836.59" y2="615.19" stroke="#095f9d" stroke-width="1.0"/>
<line x1="843.97" y1="604.69" x2="843.92" y2="615.19" stroke="#095f9d" stroke-width="1.0"/>
<line x1="851.29" y1="604.69" x2="851.25" y2="615.19" stroke="#095f9d" stroke-width="1.0"/>
<line x1="858.62" y1="604.69" x2="858.57" y2="615.19" stroke="#095f9d" stroke-width="1.0"/>
<line x1="865.94" y1="604.69" x2="865.90" y2="615.19" stroke="#095f9d" stroke-width="1.0"/>
<line x1="873.27" y1="604.70" x2="873.23" y2="615.20" stroke="#095f9d" stroke-width="1.0"/>
<line x1="880.60" y1="604.70" x2="880.55" y2="615.20" stroke="#095f9d" stroke-width="1.0"/>
<line x1="887.92" y1="604.70" x2="887.88" y2="615.20" stroke="#095f9d" stroke-width="1.0"/>
<line x1="895.25" y1="604.70" x2="895.21" y2="615.20" stroke="#095f9d" stroke-width="1.0"/>
<line x1="902.58" y1="604.70" x2="902.53" y2="615.20" stroke="#095f9d" stroke-width="1.0"/>
<line x1="909.90" y1="604.70" x2="909.86" y2="615.20" stroke="#095f9d" stroke-width="1.0"/>
<line x1="917.23" y1="604.70" x2="917.19" y2="615.20" stroke="#095f9d" stroke-width="1.0"/>
<line x1="924.56" y1="604.70" x2="924.51" y2="615.20" stroke="#095f9d" stroke-width="1.0"/>
<line x1="931.88" y1="604.70" x2="931.84" y2="615.20" stroke="#095f9d" stroke-width="1.0"/>
<line x1="939.21" y1="604.70" x2="939.17" y2="615.20" stroke="#095f9d" stroke-width="1.0"/>
<line x1="763.38" y1="604.67" x2="763.33" y2="615.17" stroke="#064c82" stroke-width="1.0"/>
<line x1="946.53" y1="604.70" x2="946.49" y2="615.20" stroke="#064c82" stroke-width="1.0"/>
<polyline fill="none" points="763.38,604.67 809.17,604.68 854.96,604.69 900.75,604.70 946.53,604.70" stroke="#064c82" stroke-width="1.0"/>
<polyline fill="none" points="763.33,615.17 809.12,615.18 854.91,615.19 900.70,615.20 946.49,615.20" stroke="#064c82" stroke-width="1.0"/>
<polygon points="682.69,624.93 726.65,624.95 770.61,624.97 814.57,624.98 858.53,624.99 858.48,636.79 814.52,636.78 770.56,636.77 726.60,636.75 682.64,636.73" fill="#1482c4"/>
<line x1="690.02" y1="624.93" x2="689.97" y2="636.73" stroke="#095f9d" stroke-width="1.0"/>
<line x1="697.35" y1="624.94" x2="697.29" y2="636.74" stroke="#095f9d" stroke-width="1.0"/>
<line x1="704.67" y1="624.94" x2="704.62" y2="636.74" stroke="#095f9d" stroke-width="1.0"/>
<line x1="712.00" y1="624.94" x2="711.95" y2="636.74" stroke="#095f9d" stroke-width="1.0"/>
<line x1="719.33" y1="624.95" x2="719.27" y2="636.75" stroke="#095f9d" stroke-width="1.0"/>
<line x1="726.65" y1="624.95" x2="726.60" y2="636.75" stroke="#095f9d" stroke-width="1.0"/>
<line x1="733.98" y1="624.96" x2="733.93" y2="636.76" stroke="#095f9d" stroke-width="1.0"/>
<line x1="741.31" y1="624.96" x2="741.25" y2="636.76" stroke="#095f9d" stroke-width="1.0"/>
<line x1="748.63" y1="624.96" x2="748.58" y2="636.76" stroke="#095f9d" stroke-width="1.0"/>
<line x1="755.96" y1="624.97" x2="755.91" y2="636.77" stroke="#095f9d" stroke-width="1.0"/>
<line x1="763.29" y1="624.97" x2="763.23" y2="636.77" stroke="#095f9d" stroke-width="1.0"/>
<line x1="770.61" y1="624.97" x2="770.56" y2="636.77" stroke="#095f9d" stroke-width="1.0"/>
<line x1="777.94" y1="624.97" x2="777.89" y2="636.77" stroke="#095f9d" stroke-width="1.0"/>
<line x1="785.27" y1="624.98" x2="785.21" y2="636.78" stroke="#095f9d" stroke-width="1.0"/>
<line x1="792.59" y1="624.98" x2="792.54" y2="636.78" stroke="#095f9d" stroke-width="1.0"/>
<line x1="799.92" y1="624.98" x2="799.87" y2="636.78" stroke="#095f9d" stroke-width="1.0"/>
<line x1="807.25" y1="624.98" x2="807.19" y2="636.78" stroke="#095f9d" stroke-width="1.0"/>
<line x1="814.57" y1="624.98" x2="814.52" y2="636.78" stroke="#095f9d" stroke-width="1.0"/>
<line x1="821.90" y1="624.99" x2="821.85" y2="636.79" stroke="#095f9d" stroke-width="1.0"/>
<line x1="829.23" y1="624.99" x2="829.18" y2="636.79" stroke="#095f9d" stroke-width="1.0"/>
<line x1="836.55" y1="624.99" x2="836.50" y2="636.79" stroke="#095f9d" stroke-width="1.0"/>
<line x1="843.88" y1="624.99" x2="843.83" y2="636.79" stroke="#095f9d" stroke-width="1.0"/>
<line x1="851.21" y1="624.99" x2="851.16" y2="636.79" stroke="#095f9d" stroke-width="1.0"/>
<line x1="682.69" y1="624.93" x2="682.64" y2="636.73" stroke="#064c82" stroke-width="1.0"/>
<line x1="858.53" y1="624.99" x2="858.48" y2="636.79" stroke="#064c82" stroke-width="1.0"/>
<polyline fill="none" points="682.69,624.93 726.65,624.95 770.61,624.97 814.57,624.98 858.53,624.99" stroke="#064c82" stroke-width="1.0"/>
<polyline fill="none" points="682.64,636.73 726.60,636.75 770.56,636.77 814.52,636.78 858.48,636.79" stroke="#064c82" stroke-width="1.0"/>
<polygon points="682.64,636.73 732.09,636.75 781.55,636.77 831.01,636.79 880.46,636.80 880.40,651.90 830.94,651.89 781.48,651.87 732.03,651.85 682.57,651.83" fill="#1482c4"/>
<line x1="689.97" y1="636.73" x2="689.90" y2="651.83" stroke="#095f9d" stroke-width="1.0"/>
<line x1="697.29" y1="636.74" x2="697.22" y2="651.84" stroke="#095f9d" stroke-width="1.0"/>
<line x1="704.62" y1="636.74" x2="704.55" y2="651.84" stroke="#095f9d" stroke-width="1.0"/>
<line x1="711.95" y1="636.74" x2="711.88" y2="651.84" stroke="#095f9d" stroke-width="1.0"/>
<line x1="719.27" y1="636.75" x2="719.20" y2="651.85" stroke="#095f9d" stroke-width="1.0"/>
<line x1="726.60" y1="636.75" x2="726.53" y2="651.85" stroke="#095f9d" stroke-width="1.0"/>
<line x1="733.93" y1="636.76" x2="733.86" y2="651.86" stroke="#095f9d" stroke-width="1.0"/>
<line x1="741.25" y1="636.76" x2="741.19" y2="651.86" stroke="#095f9d" stroke-width="1.0"/>
<line x1="748.58" y1="636.76" x2="748.51" y2="651.86" stroke="#095f9d" stroke-width="1.0"/>
<line x1="755.91" y1="636.77" x2="755.84" y2="651.87" stroke="#095f9d" stroke-width="1.0"/>
<line x1="763.23" y1="636.77" x2="763.17" y2="651.87" stroke="#095f9d" stroke-width="1.0"/>
<line x1="770.56" y1="636.77" x2="770.49" y2="651.87" stroke="#095f9d" stroke-width="1.0"/>
<line x1="777.89" y1="636.77" x2="777.82" y2="651.87" stroke="#095f9d" stroke-width="1.0"/>
<line x1="785.21" y1="636.78" x2="785.15" y2="651.88" stroke="#095f9d" stroke-width="1.0"/>
<line x1="792.54" y1="636.78" x2="792.48" y2="651.88" stroke="#095f9d" stroke-width="1.0"/>
<line x1="799.87" y1="636.78" x2="799.80" y2="651.88" stroke="#095f9d" stroke-width="1.0"/>
<line x1="807.19" y1="636.78" x2="807.13" y2="651.88" stroke="#095f9d" stroke-width="1.0"/>
<line x1="814.52" y1="636.78" x2="814.46" y2="651.88" stroke="#095f9d" stroke-width="1.0"/>
<line x1="821.85" y1="636.79" x2="821.78" y2="651.89" stroke="#095f9d" stroke-width="1.0"/>
<line x1="829.18" y1="636.79" x2="829.11" y2="651.89" stroke="#095f9d" stroke-width="1.0"/>
<line x1="836.50" y1="636.79" x2="836.44" y2="651.89" stroke="#095f9d" stroke-width="1.0"/>
<line x1="843.83" y1="636.79" x2="843.76" y2="651.89" stroke="#095f9d" stroke-width="1.0"/>
<line x1="851.16" y1="636.79" x2="851.09" y2="651.89" stroke="#095f9d" stroke-width="1.0"/>
<line x1="858.48" y1="636.79" x2="858.42" y2="651.89" stroke="#095f9d" stroke-width="1.0"/>
<line x1="865.81" y1="636.79" x2="865.75" y2="651.89" stroke="#095f9d" stroke-width="1.0"/>
<line x1="873.14" y1="636.80" x2="873.07" y2="651.90" stroke="#095f9d" stroke-width="1.0"/>
<line x1="682.64" y1="636.73" x2="682.57" y2="651.83" stroke="#064c82" stroke-width="1.0"/>
<line x1="880.46" y1="636.80" x2="880.40" y2="651.90" stroke="#064c82" stroke-width="1.0"/>
<polyline fill="none" points="682.64,636.73 732.09,636.75 781.55,636.77 831.01,636.79 880.46,636.80" stroke="#064c82" stroke-width="1.0"/>
<polyline fill="none" points="682.57,651.83 732.03,651.85 781.48,651.87 830.94,651.89 880.40,651.90" stroke="#064c82" stroke-width="1.0"/>
<polygon points="667.91,651.82 715.54,651.85 763.17,651.87 810.79,651.88 858.42,651.89 858.34,671.59 810.71,671.58 763.08,671.57 715.45,671.55 667.82,671.52" fill="#1482c4"/>
<line x1="675.24" y1="651.82" x2="675.15" y2="671.52" stroke="#095f9d" stroke-width="1.0"/>
<line x1="682.57" y1="651.83" x2="682.48" y2="671.53" stroke="#095f9d" stroke-width="1.0"/>
<line x1="689.90" y1="651.83" x2="689.81" y2="671.53" stroke="#095f9d" stroke-width="1.0"/>
<line x1="697.22" y1="651.84" x2="697.13" y2="671.54" stroke="#095f9d" stroke-width="1.0"/>
<line x1="704.55" y1="651.84" x2="704.46" y2="671.54" stroke="#095f9d" stroke-width="1.0"/>
<line x1="711.88" y1="651.84" x2="711.79" y2="671.54" stroke="#095f9d" stroke-width="1.0"/>
<line x1="719.20" y1="651.85" x2="719.12" y2="671.55" stroke="#095f9d" stroke-width="1.0"/>
<line x1="726.53" y1="651.85" x2="726.44" y2="671.55" stroke="#095f9d" stroke-width="1.0"/>
<line x1="733.86" y1="651.86" x2="733.77" y2="671.56" stroke="#095f9d" stroke-width="1.0"/>
<line x1="741.19" y1="651.86" x2="741.10" y2="671.56" stroke="#095f9d" stroke-width="1.0"/>
<line x1="748.51" y1="651.86" x2="748.42" y2="671.56" stroke="#095f9d" stroke-width="1.0"/>
<line x1="755.84" y1="651.87" x2="755.75" y2="671.57" stroke="#095f9d" stroke-width="1.0"/>
<line x1="763.17" y1="651.87" x2="763.08" y2="671.57" stroke="#095f9d" stroke-width="1.0"/>
<line x1="770.49" y1="651.87" x2="770.41" y2="671.57" stroke="#095f9d" stroke-width="1.0"/>
<line x1="777.82" y1="651.87" x2="777.73" y2="671.57" stroke="#095f9d" stroke-width="1.0"/>
<line x1="785.15" y1="651.88" x2="785.06" y2="671.58" stroke="#095f9d" stroke-width="1.0"/>
<line x1="792.48" y1="651.88" x2="792.39" y2="671.58" stroke="#095f9d" stroke-width="1.0"/>
<line x1="799.80" y1="651.88" x2="799.72" y2="671.58" stroke="#095f9d" stroke-width="1.0"/>
<line x1="807.13" y1="651.88" x2="807.04" y2="671.58" stroke="#095f9d" stroke-width="1.0"/>
<line x1="814.46" y1="651.88" x2="814.37" y2="671.58" stroke="#095f9d" stroke-width="1.0"/>
<line x1="821.78" y1="651.89" x2="821.70" y2="671.59" stroke="#095f9d" stroke-width="1.0"/>
<line x1="829.11" y1="651.89" x2="829.03" y2="671.59" stroke="#095f9d" stroke-width="1.0"/>
<line x1="836.44" y1="651.89" x2="836.35" y2="671.59" stroke="#095f9d" stroke-width="1.0"/>
<line x1="843.76" y1="651.89" x2="843.68" y2="671.59" stroke="#095f9d" stroke-width="1.0"/>
<line x1="851.09" y1="651.89" x2="851.01" y2="671.59" stroke="#095f9d" stroke-width="1.0"/>
<line x1="667.91" y1="651.82" x2="667.82" y2="671.52" stroke="#064c82" stroke-width="1.0"/>
<line x1="858.42" y1="651.89" x2="858.34" y2="671.59" stroke="#064c82" stroke-width="1.0"/>
<polyline fill="none" points="667.91,651.82 715.54,651.85 763.17,651.87 810.79,651.88 858.42,651.89" stroke="#064c82" stroke-width="1.0"/>
<polyline fill="none" points="667.82,671.52 715.45,671.55 763.08,671.57 810.71,671.58 858.34,671.59" stroke="#064c82" stroke-width="1.0"/>
<polygon points="726.44,671.55 772.85,671.57 819.26,671.59 865.66,671.59 865.57,693.49 819.16,693.49 772.75,693.47 726.34,693.45" fill="#1482c4"/>
<line x1="733.77" y1="671.56" x2="733.67" y2="693.46" stroke="#095f9d" stroke-width="1.0"/>
<line x1="741.10" y1="671.56" x2="741.00" y2="693.46" stroke="#095f9d" stroke-width="1.0"/>
<line x1="748.42" y1="671.56" x2="748.33" y2="693.46" stroke="#095f9d" stroke-width="1.0"/>
<line x1="755.75" y1="671.57" x2="755.65" y2="693.47" stroke="#095f9d" stroke-width="1.0"/>
<line x1="763.08" y1="671.57" x2="762.98" y2="693.47" stroke="#095f9d" stroke-width="1.0"/>
<line x1="770.41" y1="671.57" x2="770.31" y2="693.47" stroke="#095f9d" stroke-width="1.0"/>
<line x1="777.73" y1="671.57" x2="777.64" y2="693.47" stroke="#095f9d" stroke-width="1.0"/>
<line x1="785.06" y1="671.58" x2="784.97" y2="693.48" stroke="#095f9d" stroke-width="1.0"/>
<line x1="792.39" y1="671.58" x2="792.29" y2="693.48" stroke="#095f9d" stroke-width="1.0"/>
<line x1="799.72" y1="671.58" x2="799.62" y2="693.48" stroke="#095f9d" stroke-width="1.0"/>
<line x1="807.04" y1="671.58" x2="806.95" y2="693.48" stroke="#095f9d" stroke-width="1.0"/>
<line x1="814.37" y1="671.58" x2="814.28" y2="693.48" stroke="#095f9d" stroke-width="1.0"/>
<line x1="821.70" y1="671.59" x2="821.60" y2="693.49" stroke="#095f9d" stroke-width="1.0"/>
<line x1="829.03" y1="671.59" x2="828.93" y2="693.49" stroke="#095f9d" stroke-width="1.0"/>
<line x1="836.35" y1="671.59" x2="836.26" y2="693.49" stroke="#095f9d" stroke-width="1.0"/>
<line x1="843.68" y1="671.59" x2="843.59" y2="693.49" stroke="#095f9d" stroke-width="1.0"/>
<line x1="851.01" y1="671.59" x2="850.92" y2="693.49" stroke="#095f9d" stroke-width="1.0"/>
<line x1="858.34" y1="671.59" x2="858.24" y2="693.49" stroke="#095f9d" stroke-width="1.0"/>
<line x1="726.44" y1="671.55" x2="726.34" y2="693.45" stroke="#064c82" stroke-width="1.0"/>
<line x1="865.66" y1="671.59" x2="865.57" y2="693.49" stroke="#064c82" stroke-width="1.0"/>
<polyline fill="none" points="726.44,671.55 772.85,671.57 819.26,671.59 865.66,671.59" stroke="#064c82" stroke-width="1.0"/>
<polyline fill="none" points="726.34,693.45 772.75,693.47 819.16,693.49 865.57,693.49" stroke="#064c82" stroke-width="1.0"/>
<polyline fill="none" points="16.00,106.70 63.73,106.88 111.45,107.05 159.18,107.20 206.90,107.34 254.62,107.47 302.35,107.59 350.07,107.69 397.80,107.78 445.52,107.86 493.25,107.93 540.98,108.00 588.70,108.05 636.42,108.09 684.15,108.13 731.88,108.15 779.60,108.17 827.33,108.19 875.05,108.20 922.77,108.20 970.50,108.20" stroke="#333" stroke-width="1.0"/>
<polyline fill="none" points="15.95,114.40 63.68,114.58 111.41,114.75 159.13,114.90 206.86,115.04 254.58,115.17 302.31,115.29 350.03,115.39 397.76,115.48 445.49,115.56 493.21,115.63 540.94,115.70 588.66,115.75 636.39,115.79 684.11,115.83 731.84,115.85 779.57,115.87 827.29,115.89 875.02,115.90 922.74,115.90 970.47,115.90" stroke="#333" stroke-width="1.0"/>
<polyline fill="none" points="15.90,123.20 50.20,123.33 84.50,123.46 118.80,123.57" stroke="#333" stroke-width="1.0"/>
<polyline fill="none" points="133.31,123.62 182.55,123.77 231.79,123.91 281.03,124.04 330.28,124.15 379.52,124.25 428.76,124.34 478.01,124.41 527.25,124.48 576.49,124.54 625.73,124.58 674.98,124.62 724.22,124.65 773.46,124.67 822.71,124.69 871.95,124.69 921.19,124.70 970.43,124.70" stroke="#333" stroke-width="1.0"/>
<line x1="118.90" y1="107.07" x2="118.78" y2="128.47" stroke="#333" stroke-width="1.0"/>
<line x1="133.40" y1="107.12" x2="133.28" y2="128.52" stroke="#333" stroke-width="1.0"/>
<line x1="150.80" y1="107.17" x2="150.68" y2="128.57" stroke="#333" stroke-width="1.0"/>
<line x1="267.90" y1="107.50" x2="267.78" y2="128.90" stroke="#333" stroke-width="1.0"/>
<line x1="209.31" y1="115.05" x2="209.23" y2="128.75" stroke="#333" stroke-width="1.0"/>
<line x1="267.86" y1="115.20" x2="267.78" y2="128.90" stroke="#333" stroke-width="1.0"/>
<line x1="326.41" y1="115.34" x2="326.34" y2="129.04" stroke="#333" stroke-width="1.0"/>
<line x1="384.96" y1="115.46" x2="384.89" y2="129.16" stroke="#333" stroke-width="1.0"/>
<line x1="443.51" y1="115.56" x2="443.44" y2="129.26" stroke="#333" stroke-width="1.0"/>
<line x1="502.06" y1="115.65" x2="501.99" y2="129.35" stroke="#333" stroke-width="1.0"/>
<line x1="560.61" y1="115.72" x2="560.55" y2="129.42" stroke="#333" stroke-width="1.0"/>
<line x1="619.16" y1="115.78" x2="619.10" y2="129.48" stroke="#333" stroke-width="1.0"/>
<line x1="677.71" y1="115.82" x2="677.65" y2="129.52" stroke="#333" stroke-width="1.0"/>
<line x1="736.27" y1="115.86" x2="736.20" y2="129.56" stroke="#333" stroke-width="1.0"/>
<line x1="794.82" y1="115.88" x2="794.76" y2="129.58" stroke="#333" stroke-width="1.0"/>
<line x1="853.37" y1="115.89" x2="853.31" y2="129.59" stroke="#333" stroke-width="1.0"/>
<line x1="911.92" y1="115.90" x2="911.86" y2="129.60" stroke="#333" stroke-width="1.0"/>
<text x="70.77" y="120.61" font-size="4.0" text-anchor="middle" font-weight="bold">Наименование работ</text>
<text x="19.33" y="118.01" font-size="3.2" text-anchor="middle" >№</text>
<text x="19.31" y="121.21" font-size="3.2" text-anchor="middle" >п.п</text>
<text x="126.06" y="122.00" font-size="3.6" text-anchor="middle" >ед.</text>
<text x="126.04" y="126.80" font-size="3.6" text-anchor="middle" >изм</text>
<text x="141.98" y="127.45" font-size="3.4" text-anchor="middle" >Объем</text>
<text x="210.12" y="113.25" font-size="4.1" text-anchor="middle" >2018</text>
<text x="618.67" y="113.98" font-size="4.1" text-anchor="middle" >2019</text>
<text x="179.99" y="122.16" font-size="4.0" text-anchor="middle" >1</text>
<text x="179.96" y="127.66" font-size="4.3" text-anchor="middle" >ноябрь</text>
<text x="238.54" y="122.33" font-size="4.0" text-anchor="middle" >2</text>
<text x="238.51" y="127.83" font-size="4.3" text-anchor="middle" >декабрь</text>
<text x="297.09" y="122.47" font-size="4.0" text-anchor="middle" >3</text>
<text x="297.06" y="127.97" font-size="4.3" text-anchor="middle" >январь</text>
<text x="355.65" y="122.60" font-size="4.0" text-anchor="middle" >4</text>
<text x="355.62" y="128.10" font-size="4.3" text-anchor="middle" >февраль</text>
<text x="414.20" y="122.71" font-size="4.0" text-anchor="middle" >5</text>
<text x="414.17" y="128.21" font-size="4.3" text-anchor="middle" >март</text>
<text x="472.75" y="122.81" font-size="4.0" text-anchor="middle" >6</text>
<text x="472.72" y="128.31" font-size="4.3" text-anchor="middle" >апрель</text>
<text x="531.30" y="122.88" font-size="4.0" text-anchor="middle" >7</text>
<text x="531.27" y="128.38" font-size="4.3" text-anchor="middle" >май</text>
<text x="589.85" y="122.95" font-size="4.0" text-anchor="middle" >8</text>
<text x="589.83" y="128.45" font-size="4.3" text-anchor="middle" >июнь</text>
<text x="648.41" y="123.00" font-size="4.0" text-anchor="middle" >9</text>
<text x="648.38" y="128.50" font-size="4.3" text-anchor="middle" >июль</text>
<text x="706.96" y="123.04" font-size="4.0" text-anchor="middle" >10</text>
<text x="706.93" y="128.54" font-size="4.3" text-anchor="middle" >август</text>
<text x="765.51" y="123.07" font-size="4.0" text-anchor="middle" >11</text>
<text x="765.48" y="128.57" font-size="4.3" text-anchor="middle" >сентябрь</text>
<text x="824.06" y="123.09" font-size="4.0" text-anchor="middle" >12</text>
<text x="824.04" y="128.59" font-size="4.3" text-anchor="middle" >октябрь</text>
<text x="882.61" y="123.10" font-size="4.0" text-anchor="middle" >13</text>
<text x="882.59" y="128.60" font-size="4.3" text-anchor="middle" >ноябрь</text>
<text x="941.16" y="123.10" font-size="4.0" text-anchor="middle" >14</text>
<text x="941.14" y="128.60" font-size="4.3" text-anchor="middle" >декабрь</text>
<text x="19.22" y="136.36" font-size="3.6" text-anchor="middle" >1</text>
<text x="497.55" y="137.99" font-size="5.2" text-anchor="middle" style="fill:#2e3622;stroke:none">Общестроительные работы надземной части</text>
<text x="19.14" y="150.06" font-size="3.6" text-anchor="middle" >2</text>
<text x="70.61" y="147.76" font-size="4.15" text-anchor="middle" >Работы по устройству ж/б монолитных</text>
<text x="70.58" y="152.76" font-size="4.15" text-anchor="middle" >конструкций</text>
<text x="125.90" y="150.65" font-size="4.6" text-anchor="middle" >м3</text>
<text x="141.85" y="150.70" font-size="4.6" text-anchor="middle" >150</text>
<text x="19.05" y="165.91" font-size="3.6" text-anchor="middle" >3</text>
<text x="70.52" y="163.61" font-size="4.15" text-anchor="middle" >Работы по устройству кладки внутренних стен (в</text>
<text x="70.49" y="168.61" font-size="4.15" text-anchor="middle" >т.ч.ниже проходные короба дымоудаления )</text>
<text x="125.81" y="166.50" font-size="4.6" text-anchor="middle" >м2</text>
<text x="141.76" y="166.55" font-size="4.6" text-anchor="middle" >13320</text>
<text x="18.95" y="181.66" font-size="3.6" text-anchor="middle" >4</text>
<text x="70.41" y="181.86" font-size="4.15" text-anchor="middle" >Работы по устройству кладки наружних стен</text>
<text x="125.72" y="182.25" font-size="4.6" text-anchor="middle" >м3</text>
<text x="141.67" y="182.30" font-size="4.6" text-anchor="middle" >5650</text>
<text x="18.87" y="195.01" font-size="3.6" text-anchor="middle" >5</text>
<text x="70.33" y="195.21" font-size="4.15" text-anchor="middle" >Работы по устройству кровли</text>
<text x="125.64" y="195.60" font-size="4.6" text-anchor="middle" >м2</text>
<text x="141.59" y="195.65" font-size="4.6" text-anchor="middle" >1080</text>
<text x="18.79" y="208.16" font-size="3.6" text-anchor="middle" >6</text>
<text x="70.25" y="208.36" font-size="4.15" text-anchor="middle" >Заполнение оконных проемов</text>
<text x="125.56" y="208.75" font-size="4.6" text-anchor="middle" >м2</text>
<text x="141.52" y="208.80" font-size="4.6" text-anchor="middle" >3880</text>
<text x="18.71" y="221.86" font-size="3.6" text-anchor="middle" >7</text>
<text x="70.17" y="222.06" font-size="4.15" text-anchor="middle" >Фасадные работы (Вент фасад)</text>
<text x="125.48" y="222.45" font-size="4.6" text-anchor="middle" >м2</text>
<text x="141.44" y="222.50" font-size="4.6" text-anchor="middle" >8100</text>
<text x="18.62" y="236.46" font-size="3.6" text-anchor="middle" >8</text>
<text x="70.09" y="236.66" font-size="4.15" text-anchor="middle" style="fill:#57550c;stroke:#57550c;stroke-width:0.08px">Отделочные работы</text>
<text x="18.55" y="248.86" font-size="3.6" text-anchor="middle" >9</text>
<text x="70.01" y="249.06" font-size="4.15" text-anchor="middle" >Отделочные работы по МОП полы</text>
<text x="125.33" y="249.45" font-size="4.6" text-anchor="middle" >м2</text>
<text x="141.28" y="249.50" font-size="4.6" text-anchor="middle" >5291</text>
<text x="18.49" y="258.11" font-size="3.6" text-anchor="middle" >10</text>
<text x="69.96" y="258.31" font-size="4.15" text-anchor="middle" >Отделочные работы по МОП стены</text>
<text x="125.28" y="258.70" font-size="4.6" text-anchor="middle" >м2</text>
<text x="141.23" y="258.75" font-size="4.6" text-anchor="middle" >14816</text>
<text x="18.43" y="267.76" font-size="3.6" text-anchor="middle" >11</text>
<text x="69.90" y="267.96" font-size="4.15" text-anchor="middle" >Отделочные работы по МОП потолки</text>
<text x="125.22" y="268.35" font-size="4.6" text-anchor="middle" >м2</text>
<text x="141.18" y="268.40" font-size="4.6" text-anchor="middle" >5292</text>
<text x="18.37" y="278.56" font-size="3.6" text-anchor="middle" >12</text>
<text x="69.84" y="278.76" font-size="4.15" text-anchor="middle" >Установка входных дверей</text>
<text x="125.16" y="279.15" font-size="4.6" text-anchor="middle" >м2</text>
<text x="141.11" y="279.20" font-size="4.6" text-anchor="middle" >1312</text>
<text x="18.30" y="289.71" font-size="3.6" text-anchor="middle" >13</text>
<text x="69.77" y="289.91" font-size="4.15" text-anchor="middle" style="fill:#57550c;stroke:#57550c;stroke-width:0.08px">Внутренняя инженерия</text>
<text x="18.23" y="301.41" font-size="3.6" text-anchor="middle" >14</text>
<text x="69.70" y="301.61" font-size="4.15" text-anchor="middle" >Прокладка сетей электроснабжения</text>
<text x="125.03" y="302.00" font-size="4.6" text-anchor="middle" >п.м.</text>
<text x="140.98" y="302.05" font-size="4.6" text-anchor="middle" >2433</text>
<text x="18.16" y="313.16" font-size="3.6" text-anchor="middle" >15</text>
<text x="69.64" y="313.36" font-size="4.15" text-anchor="middle" >Монтаж системы электроосвещения</text>
<text x="124.96" y="313.75" font-size="4.6" text-anchor="middle" >п.м.</text>
<text x="140.91" y="313.80" font-size="4.6" text-anchor="middle" >2433</text>
<text x="18.09" y="324.91" font-size="3.6" text-anchor="middle" >16</text>
<text x="69.57" y="325.11" font-size="4.15" text-anchor="middle" >Прокладка сетей ГВС и ХВС</text>
<text x="124.89" y="325.50" font-size="4.6" text-anchor="middle" >п.м.</text>
<text x="140.85" y="325.55" font-size="4.6" text-anchor="middle" >4883</text>
<text x="18.02" y="336.81" font-size="3.6" text-anchor="middle" >17</text>
<text x="69.51" y="334.51" font-size="4.15" text-anchor="middle" >Прокладка сетей водоотведения (водосток и</text>
<text x="69.48" y="339.51" font-size="4.15" text-anchor="middle" >канализация)</text>
<text x="124.82" y="337.40" font-size="4.6" text-anchor="middle" >п.м.</text>
<text x="140.78" y="337.45" font-size="4.6" text-anchor="middle" >2491</text>
<text x="17.95" y="347.96" font-size="3.6" text-anchor="middle" >18</text>
<text x="69.43" y="348.16" font-size="4.15" text-anchor="middle" >Прокладка и монтаж системы отопления</text>
<text x="124.76" y="348.55" font-size="4.6" text-anchor="middle" >п.м.</text>
<text x="140.72" y="348.60" font-size="4.6" text-anchor="middle" >17148</text>
<text x="17.86" y="362.91" font-size="3.6" text-anchor="middle" >19</text>
<text x="69.37" y="358.11" font-size="4.15" text-anchor="middle" >Монтаж системы противопожарной</text>
<text x="69.34" y="363.11" font-size="4.15" text-anchor="middle" >защиты,пожарной сигнализации, системы</text>
<text x="69.31" y="368.11" font-size="4.15" text-anchor="middle" >оповещения людей о пожаре</text>
<text x="124.67" y="363.50" font-size="4.6" text-anchor="middle" >п.м.</text>
<text x="140.63" y="363.55" font-size="4.6" text-anchor="middle" >450</text>
<text x="17.77" y="378.76" font-size="3.6" text-anchor="middle" >20</text>
<text x="69.26" y="376.46" font-size="4.15" text-anchor="middle" >Прокладка сетей радио, телефонии и</text>
<text x="69.23" y="381.46" font-size="4.15" text-anchor="middle" >телевидения</text>
<text x="124.58" y="379.35" font-size="4.6" text-anchor="middle" >п.м.</text>
<text x="140.54" y="379.40" font-size="4.6" text-anchor="middle" >900</text>
<text x="17.69" y="392.56" font-size="3.6" text-anchor="middle" >21</text>
<text x="69.18" y="390.26" font-size="4.15" text-anchor="middle" >Монтаж системы контроля доступа и</text>
<text x="69.15" y="395.26" font-size="4.15" text-anchor="middle" >видеонаблюдения</text>
<text x="124.50" y="393.15" font-size="4.6" text-anchor="middle" >п.м.</text>
<text x="140.46" y="393.20" font-size="4.6" text-anchor="middle" >870</text>
<text x="17.60" y="406.56" font-size="3.6" text-anchor="middle" >22</text>
<text x="69.10" y="404.26" font-size="4.15" text-anchor="middle" >Монтаж системы естественной и</text>
<text x="69.07" y="409.26" font-size="4.15" text-anchor="middle" >принудительной вентиляции</text>
<text x="124.42" y="407.15" font-size="4.6" text-anchor="middle" >п.м.</text>
<text x="140.38" y="407.20" font-size="4.6" text-anchor="middle" >1000</text>
<text x="17.52" y="419.71" font-size="3.6" text-anchor="middle" >23</text>
<text x="69.02" y="417.41" font-size="4.15" text-anchor="middle" >Монтаж системы дымоудаления и подпора</text>
<text x="68.99" y="422.41" font-size="4.15" text-anchor="middle" >воздуха</text>
<text x="124.34" y="420.30" font-size="4.6" text-anchor="middle" >п.м.</text>
<text x="140.30" y="420.35" font-size="4.6" text-anchor="middle" >780</text>
<text x="17.45" y="432.86" font-size="3.6" text-anchor="middle" >24</text>
<text x="68.93" y="433.06" font-size="4.15" text-anchor="middle" >Монтаж мусоропровода</text>
<text x="124.27" y="433.45" font-size="4.6" text-anchor="middle" >п.м.</text>
<text x="140.23" y="433.50" font-size="4.6" text-anchor="middle" >28</text>
<text x="17.37" y="445.16" font-size="3.6" text-anchor="middle" >25</text>
<text x="68.86" y="445.36" font-size="4.15" text-anchor="middle" >Монтаж лифтового оборудования</text>
<text x="124.20" y="445.75" font-size="4.6" text-anchor="middle" >шт</text>
<text x="140.16" y="445.80" font-size="4.6" text-anchor="middle" >8</text>
<text x="17.31" y="455.71" font-size="3.6" text-anchor="middle" >26</text>
<text x="494.56" y="457.34" font-size="5.2" text-anchor="middle" style="fill:#2e3622;stroke:none">Общестроительные работы подземной части</text>
<text x="17.24" y="466.86" font-size="3.6" text-anchor="middle" >28</text>
<text x="68.75" y="464.56" font-size="4.15" text-anchor="middle" >Работы по устройству каменной кладки стен и</text>
<text x="68.72" y="469.56" font-size="4.15" text-anchor="middle" >перегородок</text>
<text x="124.07" y="467.45" font-size="4.6" text-anchor="middle" >м3</text>
<text x="140.03" y="467.50" font-size="4.6" text-anchor="middle" >980</text>
<text x="17.17" y="478.26" font-size="3.6" text-anchor="middle" >29</text>
<text x="68.66" y="478.46" font-size="4.15" text-anchor="middle" >Работы по устройству кровли</text>
<text x="124.01" y="478.85" font-size="4.6" text-anchor="middle" >м2</text>
<text x="139.97" y="478.90" font-size="4.6" text-anchor="middle" >2993</text>
<text x="17.12" y="487.76" font-size="3.6" text-anchor="middle" >30</text>
<text x="68.61" y="487.96" font-size="4.15" text-anchor="middle" >Заполнение дверных проемов</text>
<text x="123.95" y="488.35" font-size="4.6" text-anchor="middle" >м2</text>
<text x="139.91" y="488.40" font-size="4.6" text-anchor="middle" >697</text>
<text x="17.04" y="500.66" font-size="3.6" text-anchor="middle" >31</text>
<text x="68.55" y="498.36" font-size="4.15" text-anchor="middle" >Отделочные работы- полы ( спец помещения</text>
<text x="68.52" y="503.36" font-size="4.15" text-anchor="middle" >без устройства полов парковочных мест)</text>
<text x="123.88" y="501.25" font-size="4.6" text-anchor="middle" >м2</text>
<text x="139.84" y="501.30" font-size="4.6" text-anchor="middle" >1121</text>
<text x="16.92" y="519.91" font-size="3.6" text-anchor="middle" >32</text>
<text x="68.43" y="517.61" font-size="4.15" text-anchor="middle" >Отделочные работы -стены ( спец помещения</text>
<text x="68.40" y="522.61" font-size="4.15" text-anchor="middle" >без устройства стен парковочных мест)</text>
<text x="123.77" y="520.50" font-size="4.6" text-anchor="middle" >м2</text>
<text x="139.73" y="520.55" font-size="4.6" text-anchor="middle" >2700</text>
<text x="16.80" y="540.31" font-size="3.6" text-anchor="middle" >33</text>
<text x="68.31" y="538.01" font-size="4.15" text-anchor="middle" >Отделочные работы -потолки ( спец помещения</text>
<text x="68.28" y="543.01" font-size="4.15" text-anchor="middle" >без устройства потолков парковочных мест)</text>
<text x="123.65" y="540.90" font-size="4.6" text-anchor="middle" >м2</text>
<text x="139.61" y="540.95" font-size="4.6" text-anchor="middle" >1121</text>
<text x="16.71" y="555.86" font-size="3.6" text-anchor="middle" >34</text>
<text x="68.22" y="553.56" font-size="4.15" text-anchor="middle" style="fill:#57550c;stroke:#57550c;stroke-width:0.08px">Инженерные сети внутренние (без учета</text>
<text x="68.19" y="558.56" font-size="4.15" text-anchor="middle" style="fill:#57550c;stroke:#57550c;stroke-width:0.08px">парковочных мест )</text>
<text x="16.64" y="567.91" font-size="3.6" text-anchor="middle" >35</text>
<text x="68.12" y="570.81" font-size="4.15" text-anchor="middle" >Система электроснабжения</text>
<text x="123.49" y="568.10" font-size="4.6" text-anchor="middle" >п.м.</text>
<text x="139.46" y="568.15" font-size="4.6" text-anchor="middle" >440</text>
<text x="16.57" y="578.91" font-size="3.6" text-anchor="middle" >36</text>
<text x="68.06" y="581.01" font-size="4.15" text-anchor="middle" >Система водоснабжения</text>
<text x="123.43" y="579.10" font-size="4.6" text-anchor="middle" >п.м.</text>
<text x="139.39" y="579.15" font-size="4.6" text-anchor="middle" >710</text>
<text x="16.51" y="589.21" font-size="3.6" text-anchor="middle" >37</text>
<text x="68.00" y="591.41" font-size="4.15" text-anchor="middle" >Система водоотведения</text>
<text x="123.37" y="589.40" font-size="4.6" text-anchor="middle" >п.м.</text>
<text x="139.33" y="589.45" font-size="4.6" text-anchor="middle" >410</text>
<text x="16.45" y="599.51" font-size="3.6" text-anchor="middle" >38</text>
<text x="67.94" y="601.61" font-size="4.15" text-anchor="middle" >Система вентиляции, дымоудаления</text>
<text x="123.31" y="599.70" font-size="4.6" text-anchor="middle" >п.м.</text>
<text x="139.27" y="599.75" font-size="4.6" text-anchor="middle" >954</text>
<text x="16.38" y="609.86" font-size="3.6" text-anchor="middle" >39</text>
<text x="67.88" y="612.11" font-size="4.15" text-anchor="middle" >Слаботочные сети</text>
<text x="123.25" y="610.05" font-size="4.6" text-anchor="middle" >п.м.</text>
<text x="139.22" y="610.10" font-size="4.6" text-anchor="middle" >1344</text>
<text x="16.32" y="620.01" font-size="3.6" text-anchor="middle" >40</text>
<text x="491.93" y="621.64" font-size="5.2" text-anchor="middle" style="fill:#2e3622;stroke:none">Благоустройство территории</text>
<text x="16.26" y="630.81" font-size="3.6" text-anchor="middle" >41</text>
<text x="20.48" y="628.33" font-size="4.15" text-anchor="start" >проезды, тротуары, отмостки, автостоянка в</text>
<text x="20.45" y="633.33" font-size="4.15" text-anchor="start" >бетоне</text>
<text x="123.13" y="631.40" font-size="4.6" text-anchor="middle" >м2</text>
<text x="139.09" y="631.45" font-size="4.6" text-anchor="middle" >3304</text>
<text x="16.18" y="644.26" font-size="3.6" text-anchor="middle" >42</text>
<text x="67.70" y="641.96" font-size="4.15" text-anchor="middle" >Устройство озеленения, площадок отдыха,</text>
<text x="67.67" y="646.96" font-size="4.15" text-anchor="middle" >спортивных площадок, для игр детей,</text>
<text x="123.05" y="644.85" font-size="4.6" text-anchor="middle" >м2</text>
<text x="139.02" y="644.90" font-size="4.6" text-anchor="middle" >2350</text>
<text x="16.07" y="661.66" font-size="3.6" text-anchor="middle" >43</text>
<text x="67.60" y="659.36" font-size="4.15" text-anchor="middle" >Устройство наружних сетей глубокого</text>
<text x="67.57" y="664.36" font-size="4.15" text-anchor="middle" >заложения (водопровод, канализация,водосток)</text>
<text x="15.97" y="679.71" font-size="3.6" text-anchor="middle" >44</text>
<text x="67.49" y="677.41" font-size="4.15" text-anchor="middle" >Устройство наружних сетей 0,4 кВа, и сетей</text>
<text x="67.46" y="682.41" font-size="4.15" text-anchor="middle" >связи</text>
</g>
</svg>
</body></html>
